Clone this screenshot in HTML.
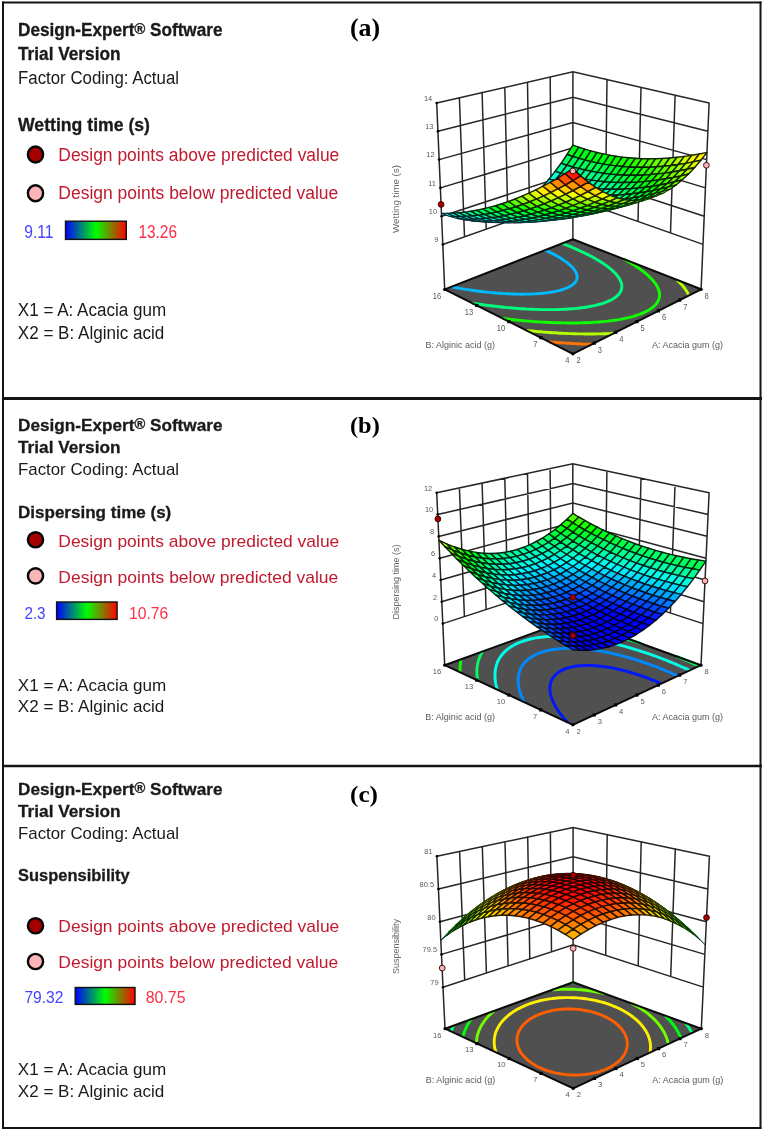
<!DOCTYPE html>
<html><head><meta charset="utf-8"><title>Design-Expert response surfaces</title>
<style>html,body{margin:0;padding:0;background:#fff;overflow:hidden}svg{display:block}</style>
</head><body>
<svg width="763" height="1132" viewBox="0 0 763 1132">
<defs><linearGradient id="cbar" x1="0" x2="1" y1="0" y2="0"><stop offset="0" stop-color="#0000ff"/><stop offset="0.5" stop-color="#00ff00"/><stop offset="1" stop-color="#ff0000"/></linearGradient></defs>
<rect width="763" height="1132" fill="#fff"/>

<g fill="none" stroke="#141414">
<path d="M3,1.5V1128.5M760.5,1.5V1128.5" stroke-width="2"/>
<path d="M2,2.6H761.5M2,1128H761.5" stroke-width="2"/>
<path d="M2,398.5H762" stroke-width="3"/>
<path d="M2,766H762" stroke-width="2.4"/>
</g>

<text transform="translate(18,36) scale(1,1.05)" font-family="Liberation Sans, sans-serif" font-size="17" font-weight="bold" fill="#1a1a1a" stroke="#1a1a1a" stroke-width="0.3" textLength="204.5" lengthAdjust="spacingAndGlyphs">Design-Expert<tspan font-size="14.5" dy="-2.2">®</tspan><tspan dy="2.2"> Software</tspan></text>
<text transform="translate(18,60) scale(1,1.05)" font-family="Liberation Sans, sans-serif" font-size="17" font-weight="bold" fill="#1a1a1a" stroke="#1a1a1a" stroke-width="0.3" textLength="102.5" lengthAdjust="spacingAndGlyphs">Trial Version</text>
<text transform="translate(18,84) scale(1,1.05)" font-family="Liberation Sans, sans-serif" font-size="17" font-weight="normal" fill="#1a1a1a" textLength="161" lengthAdjust="spacingAndGlyphs">Factor Coding: Actual</text>
<text transform="translate(18,131) scale(1,1.05)" font-family="Liberation Sans, sans-serif" font-size="17" font-weight="bold" fill="#1a1a1a" stroke="#1a1a1a" stroke-width="0.3" textLength="132" lengthAdjust="spacingAndGlyphs">Wetting time (s)</text>
<text transform="translate(58.3,160.8) scale(1,1.05)" font-family="Liberation Sans, sans-serif" font-size="17" font-weight="normal" fill="#c01a2e" textLength="281" lengthAdjust="spacingAndGlyphs">Design points above predicted value</text>
<text transform="translate(58.3,199.2) scale(1,1.05)" font-family="Liberation Sans, sans-serif" font-size="17" font-weight="normal" fill="#c01a2e" textLength="280" lengthAdjust="spacingAndGlyphs">Design points below predicted value</text>
<text transform="translate(24.2,238.2) scale(1,1.05)" font-family="Liberation Sans, sans-serif" font-size="17" font-weight="normal" fill="#4444ff" textLength="29.3" lengthAdjust="spacingAndGlyphs">9.11</text>
<text transform="translate(138.4,238.2) scale(1,1.05)" font-family="Liberation Sans, sans-serif" font-size="17" font-weight="normal" fill="#ff2d45" textLength="38.6" lengthAdjust="spacingAndGlyphs">13.26</text>
<text transform="translate(17.8,315.8) scale(1,1.05)" font-family="Liberation Sans, sans-serif" font-size="17" font-weight="normal" fill="#1a1a1a" textLength="148.5" lengthAdjust="spacingAndGlyphs">X1 = A: Acacia gum</text>
<text transform="translate(17.8,338.5) scale(1,1.05)" font-family="Liberation Sans, sans-serif" font-size="17" font-weight="normal" fill="#1a1a1a" textLength="146.5" lengthAdjust="spacingAndGlyphs">X2 = B: Alginic acid</text>
<text transform="translate(350.0,36) scale(1,1.05)" font-family="Liberation Serif, serif" font-size="24" font-weight="bold" fill="#000" textLength="30.2" lengthAdjust="spacingAndGlyphs">(a)</text>
<ellipse cx="35.5" cy="154.5" rx="7.6" ry="7.98" fill="#a50000" stroke="#050505" stroke-width="2.4"/>
<ellipse cx="35.5" cy="193.3" rx="7.6" ry="7.98" fill="#fbb4b8" stroke="#050505" stroke-width="2.4"/>
<rect x="65.5" y="221.2" width="60.8" height="18.200000000000017" fill="url(#cbar)" stroke="#111" stroke-width="1.4"/>
<text transform="translate(18,430.8) scale(1,1.0)" font-family="Liberation Sans, sans-serif" font-size="17" font-weight="bold" fill="#1a1a1a" stroke="#1a1a1a" stroke-width="0.3" textLength="204.5" lengthAdjust="spacingAndGlyphs">Design-Expert<tspan font-size="14.5" dy="-2.2">®</tspan><tspan dy="2.2"> Software</tspan></text>
<text transform="translate(18,452.8) scale(1,1.0)" font-family="Liberation Sans, sans-serif" font-size="17" font-weight="bold" fill="#1a1a1a" stroke="#1a1a1a" stroke-width="0.3" textLength="102.5" lengthAdjust="spacingAndGlyphs">Trial Version</text>
<text transform="translate(18,474.8) scale(1,1.0)" font-family="Liberation Sans, sans-serif" font-size="17" font-weight="normal" fill="#1a1a1a" textLength="161" lengthAdjust="spacingAndGlyphs">Factor Coding: Actual</text>
<text transform="translate(18,517.8) scale(1,1.0)" font-family="Liberation Sans, sans-serif" font-size="17" font-weight="bold" fill="#1a1a1a" stroke="#1a1a1a" stroke-width="0.3" textLength="153.3" lengthAdjust="spacingAndGlyphs">Dispersing time (s)</text>
<text transform="translate(58.3,546.7) scale(1,1.0)" font-family="Liberation Sans, sans-serif" font-size="17" font-weight="normal" fill="#c01a2e" textLength="281" lengthAdjust="spacingAndGlyphs">Design points above predicted value</text>
<text transform="translate(58.3,582.6) scale(1,1.0)" font-family="Liberation Sans, sans-serif" font-size="17" font-weight="normal" fill="#c01a2e" textLength="280" lengthAdjust="spacingAndGlyphs">Design points below predicted value</text>
<text transform="translate(24.4,618.6) scale(1,1.0)" font-family="Liberation Sans, sans-serif" font-size="17" font-weight="normal" fill="#4444ff" textLength="21.2" lengthAdjust="spacingAndGlyphs">2.3</text>
<text transform="translate(129.0,618.6) scale(1,1.0)" font-family="Liberation Sans, sans-serif" font-size="17" font-weight="normal" fill="#ff2d45" textLength="39.1" lengthAdjust="spacingAndGlyphs">10.76</text>
<text transform="translate(17.8,690.8) scale(1,1.0)" font-family="Liberation Sans, sans-serif" font-size="17" font-weight="normal" fill="#1a1a1a" textLength="148.5" lengthAdjust="spacingAndGlyphs">X1 = A: Acacia gum</text>
<text transform="translate(17.8,712.2) scale(1,1.0)" font-family="Liberation Sans, sans-serif" font-size="17" font-weight="normal" fill="#1a1a1a" textLength="146.5" lengthAdjust="spacingAndGlyphs">X2 = B: Alginic acid</text>
<text transform="translate(350.0,432.6) scale(1,1.0)" font-family="Liberation Serif, serif" font-size="24" font-weight="bold" fill="#000" textLength="29.8" lengthAdjust="spacingAndGlyphs">(b)</text>
<ellipse cx="35.5" cy="539.8" rx="7.6" ry="7.60" fill="#a50000" stroke="#050505" stroke-width="2.4"/>
<ellipse cx="35.5" cy="575.9" rx="7.6" ry="7.60" fill="#fbb4b8" stroke="#050505" stroke-width="2.4"/>
<rect x="56.6" y="602" width="60.49999999999999" height="17.399999999999977" fill="url(#cbar)" stroke="#111" stroke-width="1.4"/>
<text transform="translate(18,795.2) scale(1,1.0)" font-family="Liberation Sans, sans-serif" font-size="17" font-weight="bold" fill="#1a1a1a" stroke="#1a1a1a" stroke-width="0.3" textLength="204.5" lengthAdjust="spacingAndGlyphs">Design-Expert<tspan font-size="14.5" dy="-2.2">®</tspan><tspan dy="2.2"> Software</tspan></text>
<text transform="translate(18,817.1) scale(1,1.0)" font-family="Liberation Sans, sans-serif" font-size="17" font-weight="bold" fill="#1a1a1a" stroke="#1a1a1a" stroke-width="0.3" textLength="102.5" lengthAdjust="spacingAndGlyphs">Trial Version</text>
<text transform="translate(18,839.0) scale(1,1.0)" font-family="Liberation Sans, sans-serif" font-size="17" font-weight="normal" fill="#1a1a1a" textLength="161" lengthAdjust="spacingAndGlyphs">Factor Coding: Actual</text>
<text transform="translate(18,881.2) scale(1,1.0)" font-family="Liberation Sans, sans-serif" font-size="17" font-weight="bold" fill="#1a1a1a" stroke="#1a1a1a" stroke-width="0.3" textLength="111.7" lengthAdjust="spacingAndGlyphs">Suspensibility</text>
<text transform="translate(58.3,932.3) scale(1,1.0)" font-family="Liberation Sans, sans-serif" font-size="17" font-weight="normal" fill="#c01a2e" textLength="281" lengthAdjust="spacingAndGlyphs">Design points above predicted value</text>
<text transform="translate(58.3,968.2) scale(1,1.0)" font-family="Liberation Sans, sans-serif" font-size="17" font-weight="normal" fill="#c01a2e" textLength="280" lengthAdjust="spacingAndGlyphs">Design points below predicted value</text>
<text transform="translate(24.4,1002.9) scale(1,1.0)" font-family="Liberation Sans, sans-serif" font-size="17" font-weight="normal" fill="#4444ff" textLength="39.1" lengthAdjust="spacingAndGlyphs">79.32</text>
<text transform="translate(145.7,1002.9) scale(1,1.0)" font-family="Liberation Sans, sans-serif" font-size="17" font-weight="normal" fill="#ff2d45" textLength="39.8" lengthAdjust="spacingAndGlyphs">80.75</text>
<text transform="translate(17.8,1075) scale(1,1.0)" font-family="Liberation Sans, sans-serif" font-size="17" font-weight="normal" fill="#1a1a1a" textLength="148.5" lengthAdjust="spacingAndGlyphs">X1 = A: Acacia gum</text>
<text transform="translate(17.8,1096.6) scale(1,1.0)" font-family="Liberation Sans, sans-serif" font-size="17" font-weight="normal" fill="#1a1a1a" textLength="146.5" lengthAdjust="spacingAndGlyphs">X2 = B: Alginic acid</text>
<text transform="translate(350.0,801.6) scale(1,1.0)" font-family="Liberation Serif, serif" font-size="24" font-weight="bold" fill="#000" textLength="28.0" lengthAdjust="spacingAndGlyphs">(c)</text>
<ellipse cx="35.5" cy="925.7" rx="7.6" ry="7.60" fill="#a50000" stroke="#050505" stroke-width="2.4"/>
<ellipse cx="35.5" cy="961.5" rx="7.6" ry="7.60" fill="#fbb4b8" stroke="#050505" stroke-width="2.4"/>
<rect x="75.2" y="987.5" width="59.8" height="16.899999999999977" fill="url(#cbar)" stroke="#111" stroke-width="1.4"/>
<path d="M442.8,244.5L572.9,198.6L703.0,244.4M441.6,216.2L572.9,173.3L704.2,216.2M440.4,187.9L572.9,147.9L705.5,187.9M439.1,159.6L572.9,122.5L706.7,159.6M437.9,131.3L572.9,97.2L707.9,131.3M436.7,103.0L572.9,71.8L709.1,103.0M442.8,244.5L436.7,103.0M464.5,236.8L459.4,97.8M486.2,229.2L482.1,92.6M507.9,221.5L504.8,87.4M529.5,213.9L527.5,82.2M551.2,206.3L550.2,77.0M572.9,198.6L572.9,71.8M703.0,244.4L709.1,103.0M670.5,233.0L675.1,95.2M638.0,221.5L641.0,87.4M605.4,210.1L607.0,79.6M572.9,198.6L572.9,71.8M442.8,244.5L444.7,289.4M572.9,198.6L572.9,239.2M703.0,244.4L701.1,289.3" stroke="#262626" stroke-width="1.5" fill="none" stroke-linecap="round"/>
<polygon points="444.7,289.4 572.9,239.2 701.1,289.3 572.9,353.8" fill="#505050"/>
<polyline points="545.0,250.1 546.8,250.9 548.6,251.7 550.4,252.6 551.2,253.0 553.0,253.9 554.7,254.8 556.3,255.7 557.7,256.5 558.8,257.1 560.4,258.1 562.0,259.1 562.7,259.6 564.2,260.6 565.2,261.3 566.4,262.1 567.7,263.1 568.5,263.8 569.7,264.8 570.5,265.5 571.4,266.3 572.3,267.3 572.8,267.9 573.8,269.1 574.4,269.8 574.8,270.5 575.5,271.5 576.0,272.6 576.3,273.3 576.6,274.1 576.8,274.9 577.0,275.7 577.1,276.6 577.1,277.4 577.0,278.4 576.7,279.4 576.3,280.5 575.8,281.4 575.3,282.1 574.4,283.1 573.5,284.0 572.4,284.9 571.2,285.8 569.3,286.8 567.3,287.8 565.1,288.7 562.7,289.5 560.1,290.3 558.7,290.7 555.9,291.3 554.4,291.6 551.6,292.1 549.8,292.4 548.1,292.6 545.2,293.0 543.0,293.2 541.2,293.4 539.4,293.6 537.1,293.7 534.6,293.9 532.2,294.0 529.9,294.1 527.6,294.1 525.5,294.1 523.4,294.2 521.2,294.2 519.0,294.1 516.8,294.1 514.8,294.0 512.8,294.0 510.8,293.9 508.8,293.8 506.9,293.7 505.0,293.6 502.5,293.5 500.0,293.3 497.6,293.1 495.8,293.0 494.0,292.8 492.2,292.6 489.5,292.4 487.1,292.1 485.4,292.0 483.7,291.8 481.1,291.5 478.7,291.2 477.1,291.0 475.3,290.7 472.3,290.3 470.7,290.1 469.2,289.8 466.2,289.4 464.5,289.1 463.0,288.9 460.0,288.4 458.5,288.1 456.5,287.8 454.1,287.3 452.7,287.1 451.3,286.8" fill="none" stroke="#00baff" stroke-width="2.9" stroke-linejoin="round"/>
<polyline points="562.1,243.4 564.1,244.1 566.0,244.9 567.9,245.7 569.8,246.4 571.7,247.2 573.6,248.0 575.5,248.8 577.3,249.6 579.2,250.5 581.0,251.3 582.8,252.2 584.2,252.8 585.5,253.5 587.3,254.4 589.1,255.3 590.8,256.2 591.7,256.6 593.4,257.6 595.1,258.5 596.7,259.4 597.6,260.0 599.3,261.0 600.6,261.8 601.7,262.5 603.3,263.5 604.1,264.1 605.6,265.1 606.6,265.8 607.9,266.8 608.9,267.6 610.0,268.5 610.9,269.2 612.1,270.3 612.8,270.9 614.1,272.1 614.7,272.8 615.5,273.6 616.5,274.7 617.0,275.4 617.7,276.2 618.5,277.4 619.1,278.2 619.5,278.9 619.9,279.7 620.5,280.8 620.9,281.8 621.3,282.8 621.5,283.7 621.7,284.6 621.8,285.6 621.8,286.5 621.8,287.4 621.7,288.3 621.5,289.1 621.3,289.9 620.9,290.9 620.2,292.2 619.8,292.9 619.2,293.6 618.1,295.0 617.4,295.6 616.0,296.8 614.8,297.8 613.5,298.6 611.6,299.7 609.6,300.7 607.4,301.6 605.1,302.5 603.0,303.3 601.3,303.8 598.6,304.5 597.2,304.9 594.3,305.6 592.8,305.9 589.7,306.5 588.2,306.8 585.7,307.2 583.2,307.6 581.5,307.8 579.4,308.0 576.5,308.4 574.3,308.6 572.4,308.7 570.5,308.9 568.3,309.0 565.8,309.2 563.3,309.3 560.8,309.4 558.4,309.5 556.3,309.6 554.2,309.6 552.0,309.6 549.8,309.6 547.6,309.6 545.3,309.6 543.0,309.6 540.7,309.6 538.4,309.5 536.3,309.4 534.2,309.4 532.1,309.3 530.1,309.2 528.1,309.1 526.1,309.0 523.6,308.8 521.0,308.7 518.4,308.5 516.5,308.3 514.6,308.2 512.7,308.0 510.4,307.8 507.7,307.6 505.4,307.4 503.6,307.2 501.8,307.0 499.3,306.7 496.5,306.4 494.7,306.2 493.0,306.0 490.6,305.7 487.9,305.4 486.2,305.2 484.5,304.9 481.5,304.5 479.6,304.2 477.9,304.0 475.3,303.6 473.1,303.3 472.1,303.1" fill="none" stroke="#00ff7d" stroke-width="2.9" stroke-linejoin="round"/>
<polyline points="623.7,259.1 624.6,259.5 626.4,260.5 628.1,261.5 629.0,262.0 630.7,263.0 632.3,264.0 633.2,264.6 634.9,265.6 635.7,266.2 637.3,267.2 638.5,268.0 639.7,268.9 641.0,269.8 642.1,270.6 643.3,271.5 644.3,272.4 645.3,273.1 646.5,274.2 647.3,274.8 648.7,276.1 649.3,276.7 650.2,277.6 651.3,278.7 652.0,279.4 652.7,280.2 653.8,281.5 654.3,282.2 654.9,282.9 655.6,283.9 656.4,285.1 656.9,286.0 657.3,286.8 657.7,287.6 658.1,288.4 658.5,289.4 658.8,290.4 659.1,291.4 659.3,292.4 659.5,293.3 659.5,294.2 659.6,295.1 659.5,296.1 659.4,297.2 659.1,298.4 658.8,299.3 658.5,300.1 658.1,301.1 657.3,302.3 656.9,303.0 655.9,304.3 655.2,305.1 653.8,306.4 653.1,307.0 651.5,308.3 649.8,309.4 648.9,310.0 646.9,311.1 644.8,312.1 642.6,313.1 641.5,313.6 639.1,314.5 636.5,315.4 634.6,316.0 632.5,316.6 629.7,317.3 628.2,317.7 625.3,318.3 623.6,318.7 621.4,319.1 618.8,319.6 617.1,319.9 614.6,320.2 612.0,320.6 610.2,320.8 608.3,321.1 605.4,321.4 602.8,321.6 600.9,321.8 599.0,322.0 597.0,322.1 594.3,322.3 591.7,322.5 589.1,322.6 586.8,322.7 584.6,322.8 582.5,322.8 580.3,322.9 578.1,322.9 575.9,323.0 573.6,323.0 571.3,323.0 569.0,323.0 566.7,323.0 564.3,322.9 562.0,322.9 559.5,322.8 557.1,322.8 554.6,322.7 552.4,322.6 550.3,322.5 548.2,322.4 546.2,322.3 544.1,322.2 541.9,322.1 539.3,321.9 536.7,321.8 534.1,321.6 532.1,321.4 530.2,321.3 528.2,321.1 525.8,320.9 523.0,320.7 520.6,320.4 518.7,320.3 516.9,320.1 514.5,319.8 511.6,319.5 509.5,319.3 507.7,319.1 505.7,318.8 502.7,318.5 502.7,318.5" fill="none" stroke="#0eff00" stroke-width="2.9" stroke-linejoin="round"/>
<polyline points="613.6,333.3 611.0,333.5 608.4,333.6 605.9,333.7 603.5,333.8 601.3,333.9 599.0,333.9 596.8,333.9 594.5,334.0 592.2,334.0 589.9,334.0 587.5,334.0 585.1,334.0 582.7,333.9 580.3,333.9 577.8,333.9 575.4,333.8 573.0,333.7 570.8,333.6 568.6,333.6 566.5,333.5 564.3,333.4 562.2,333.3 560.0,333.2 557.3,333.0 554.7,332.8 552.0,332.7 549.8,332.5 547.7,332.4 545.7,332.2 543.7,332.1 540.9,331.8 538.1,331.6 535.8,331.4 533.8,331.2 531.9,331.0 529.5,330.8 526.6,330.5 526.6,330.5" fill="none" stroke="#b6ff00" stroke-width="2.9" stroke-linejoin="round"/>
<polyline points="676.9,279.9 678.0,280.9 678.7,281.6 679.8,282.7 680.8,283.6 681.4,284.4 682.2,285.3 683.3,286.5 683.9,287.3 684.5,288.0 685.1,289.0 685.9,290.1 686.6,291.2 687.1,292.0 687.6,292.9 688.0,293.8 688.4,294.6 688.8,295.5 688.8,295.5" fill="none" stroke="#b6ff00" stroke-width="2.9" stroke-linejoin="round"/>
<polyline points="591.8,344.3 589.6,344.2 587.3,344.2 584.7,344.1 582.1,344.0 579.4,343.8 576.8,343.7 574.2,343.6 572.0,343.5 569.9,343.3 567.8,343.2 565.6,343.1 563.2,342.9 560.4,342.7 557.6,342.5 555.3,342.3 553.2,342.1 551.2,342.0 549.0,341.8 549.0,341.8" fill="none" stroke="#ff7400" stroke-width="2.9" stroke-linejoin="round"/>
<polygon points="444.7,289.4 572.9,239.2 701.1,289.3 572.9,353.8" fill="none" stroke="#0a0a0a" stroke-width="2" stroke-linejoin="round"/>
<rect x="592.7" y="341.5" width="3.2" height="3.2" fill="#000"/><rect x="614.1" y="330.7" width="3.2" height="3.2" fill="#000"/><rect x="635.4" y="320.0" width="3.2" height="3.2" fill="#000"/><rect x="656.8" y="309.2" width="3.2" height="3.2" fill="#000"/><rect x="678.1" y="298.5" width="3.2" height="3.2" fill="#000"/><rect x="539.3" y="336.1" width="3.2" height="3.2" fill="#000"/><rect x="507.2" y="320.0" width="3.2" height="3.2" fill="#000"/><rect x="475.2" y="303.9" width="3.2" height="3.2" fill="#000"/><circle cx="442.8" cy="244.5" r="1.3" fill="#000"/><circle cx="441.6" cy="216.2" r="1.3" fill="#000"/><circle cx="440.4" cy="187.9" r="1.3" fill="#000"/><circle cx="439.1" cy="159.6" r="1.3" fill="#000"/><circle cx="437.9" cy="131.3" r="1.3" fill="#000"/><circle cx="436.7" cy="103.0" r="1.3" fill="#000"/><circle cx="444.7" cy="289.4" r="1.6" fill="#000"/><circle cx="572.9" cy="353.8" r="1.6" fill="#000"/><circle cx="701.1" cy="289.3" r="1.6" fill="#000"/>
<g stroke-width="1.45" stroke-linejoin="round"><polygon points="572.9,156.5 578.8,147.2 572.9,145.1 567.0,154.5" fill="#00ff13" stroke="#002603"/><polygon points="566.9,165.2 572.9,156.5 567.0,154.5 561.1,163.3" fill="#00ff5b" stroke="#00260e"/><polygon points="578.9,158.4 584.8,149.1 578.8,147.2 572.9,156.5" fill="#00ff14" stroke="#002603"/><polygon points="561.0,173.3 566.9,165.2 561.1,163.3 555.1,171.4" fill="#00ff9c" stroke="#002617"/><polygon points="572.9,167.0 578.9,158.4 572.9,156.5 566.9,165.2" fill="#00ff5b" stroke="#00260e"/><polygon points="554.9,180.8 561.0,173.3 555.1,171.4 549.1,179.0" fill="#00ffd6" stroke="#002620"/><polygon points="584.9,160.0 590.8,150.9 584.8,149.1 578.9,158.4" fill="#00ff14" stroke="#002603"/><polygon points="566.9,175.0 572.9,167.0 566.9,165.2 561.0,173.3" fill="#00ff9b" stroke="#002617"/><polygon points="578.9,168.6 584.9,160.0 578.9,158.4 572.9,167.0" fill="#00ff59" stroke="#00260d"/><polygon points="548.8,187.6 554.9,180.8 549.1,179.0 543.0,185.9" fill="#00f4ff" stroke="#002526"/><polygon points="560.8,182.4 566.9,175.0 561.0,173.3 554.9,180.8" fill="#00ffd4" stroke="#002620"/><polygon points="591.0,161.6 597.0,152.5 590.8,150.9 584.9,160.0" fill="#00ff12" stroke="#002603"/><polygon points="572.9,176.5 578.9,168.6 572.9,167.0 566.9,175.0" fill="#00ff98" stroke="#002617"/><polygon points="542.7,193.9 548.8,187.6 543.0,185.9 536.8,192.2" fill="#00c7ff" stroke="#001e26"/><polygon points="585.0,170.0 591.0,161.6 584.9,160.0 578.9,168.6" fill="#00ff56" stroke="#00260d"/><polygon points="554.7,189.2 560.8,182.4 554.9,180.8 548.8,187.6" fill="#00f8ff" stroke="#002526"/><polygon points="566.8,183.9 572.9,176.5 566.9,175.0 560.8,182.4" fill="#00ffd0" stroke="#00261f"/><polygon points="597.2,162.9 603.1,153.9 597.0,152.5 591.0,161.6" fill="#00ff0e" stroke="#002602"/><polygon points="536.4,199.5 542.7,193.9 536.8,192.2 530.6,198.0" fill="#00a0ff" stroke="#001826"/><polygon points="579.0,177.9 585.0,170.0 578.9,168.6 572.9,176.5" fill="#00ff93" stroke="#002616"/><polygon points="548.6,195.4 554.7,189.2 548.8,187.6 542.7,193.9" fill="#00ccff" stroke="#001f26"/><polygon points="591.2,171.3 597.2,162.9 591.0,161.6 585.0,170.0" fill="#00ff51" stroke="#00260c"/><polygon points="560.7,190.6 566.8,183.9 560.8,182.4 554.7,189.2" fill="#00fdff" stroke="#002626"/><polygon points="530.1,204.6 536.4,199.5 530.6,198.0 524.3,203.1" fill="#0081ff" stroke="#001326"/><polygon points="572.9,185.2 579.0,177.9 572.9,176.5 566.8,183.9" fill="#00ffca" stroke="#00261e"/><polygon points="603.4,164.1 609.4,155.1 603.1,153.9 597.2,162.9" fill="#00ff08" stroke="#002601"/><polygon points="542.3,200.9 548.6,195.4 542.7,193.9 536.4,199.5" fill="#00a6ff" stroke="#001926"/><polygon points="585.1,179.1 591.2,171.3 585.0,170.0 579.0,177.9" fill="#00ff8d" stroke="#002615"/><polygon points="554.5,196.7 560.7,190.6 554.7,189.2 548.6,195.4" fill="#00d2ff" stroke="#002026"/><polygon points="597.4,172.4 603.4,164.1 597.2,162.9 591.2,171.3" fill="#00ff49" stroke="#00260b"/><polygon points="566.8,191.8 572.9,185.2 566.8,183.9 560.7,190.6" fill="#00fffa" stroke="#002625"/><polygon points="523.8,209.0 530.1,204.6 524.3,203.1 518.0,207.6" fill="#0067ff" stroke="#000f26"/><polygon points="536.0,205.9 542.3,200.9 536.4,199.5 530.1,204.6" fill="#0088ff" stroke="#001426"/><polygon points="579.1,186.3 585.1,179.1 579.0,177.9 572.9,185.2" fill="#00ffc2" stroke="#00261d"/><polygon points="609.8,165.1 615.8,156.2 609.4,155.1 603.4,164.1" fill="#00ff00" stroke="#002600"/><polygon points="548.3,202.2 554.5,196.7 548.6,195.4 542.3,200.9" fill="#00aeff" stroke="#001a26"/><polygon points="591.4,180.1 597.4,172.4 591.2,171.3 585.1,179.1" fill="#00ff84" stroke="#002614"/><polygon points="560.6,197.8 566.8,191.8 560.7,190.6 554.5,196.7" fill="#00dbff" stroke="#002126"/><polygon points="517.3,212.7 523.8,209.0 518.0,207.6 511.5,211.4" fill="#0054ff" stroke="#000d26" stroke-width="1.44"/><polygon points="603.8,173.3 609.8,165.1 603.4,164.1 597.4,172.4" fill="#00ff41" stroke="#00260a"/><polygon points="572.9,192.9 579.1,186.3 572.9,185.2 566.8,191.8" fill="#00fff1" stroke="#002624"/><polygon points="529.6,210.2 536.0,205.9 530.1,204.6 523.8,209.0" fill="#0070ff" stroke="#001126"/><polygon points="542.0,207.0 548.3,202.2 542.3,200.9 536.0,205.9" fill="#0091ff" stroke="#001626"/><polygon points="585.3,187.2 591.4,180.1 585.1,179.1 579.1,186.3" fill="#00ffb9" stroke="#00261c"/><polygon points="616.2,165.9 622.2,157.1 615.8,156.2 609.8,165.1" fill="#09ff00" stroke="#012600"/><polygon points="554.3,203.2 560.6,197.8 554.5,196.7 548.3,202.2" fill="#00b8ff" stroke="#001c26"/><polygon points="597.7,181.0 603.8,173.3 597.4,172.4 591.4,180.1" fill="#00ff7a" stroke="#002612"/><polygon points="566.7,198.8 572.9,192.9 566.8,191.8 560.6,197.8" fill="#00e5ff" stroke="#002226"/><polygon points="510.8,215.8 517.3,212.7 511.5,211.4 505.0,214.7" fill="#0048ff" stroke="#000b26" stroke-width="1.34"/><polygon points="523.2,213.8 529.6,210.2 523.8,209.0 517.3,212.7" fill="#005eff" stroke="#000e26" stroke-width="1.41"/><polygon points="610.2,174.1 616.2,165.9 609.8,165.1 603.8,173.3" fill="#00ff36" stroke="#002608"/><polygon points="579.1,193.7 585.3,187.2 579.1,186.3 572.9,192.9" fill="#00ffe6" stroke="#002623"/><polygon points="535.6,211.2 542.0,207.0 536.0,205.9 529.6,210.2" fill="#007aff" stroke="#001226"/><polygon points="548.0,208.0 554.3,203.2 548.3,202.2 542.0,207.0" fill="#009cff" stroke="#001726"/><polygon points="591.6,188.0 597.7,181.0 591.4,180.1 585.3,187.2" fill="#00ffad" stroke="#00261a"/><polygon points="622.7,166.5 628.7,157.8 622.2,157.1 616.2,165.9" fill="#15ff00" stroke="#032600"/><polygon points="560.4,204.1 566.7,198.8 560.6,197.8 554.3,203.2" fill="#00c3ff" stroke="#001d26"/><polygon points="604.1,181.7 610.2,174.1 603.8,173.3 597.7,181.0" fill="#00ff6e" stroke="#002611"/><polygon points="572.9,199.6 579.1,193.7 572.9,192.9 566.7,198.8" fill="#00f1ff" stroke="#002426"/><polygon points="504.2,218.3 510.8,215.8 505.0,214.7 498.4,217.2" fill="#0043ff" stroke="#000a26" stroke-width="1.22"/><polygon points="516.7,216.9 523.2,213.8 517.3,212.7 510.8,215.8" fill="#0053ff" stroke="#000c26" stroke-width="1.30"/><polygon points="529.1,214.8 535.6,211.2 529.6,210.2 523.2,213.8" fill="#006aff" stroke="#001026" stroke-width="1.37"/><polygon points="616.7,174.7 622.7,166.5 616.2,165.9 610.2,174.1" fill="#00ff29" stroke="#002606"/><polygon points="585.4,194.4 591.6,188.0 585.3,187.2 579.1,193.7" fill="#00ffd9" stroke="#002621"/><polygon points="541.6,212.1 548.0,208.0 542.0,207.0 535.6,211.2" fill="#0086ff" stroke="#001426" stroke-width="1.44"/><polygon points="554.1,208.7 560.4,204.1 554.3,203.2 548.0,208.0" fill="#00a8ff" stroke="#001926"/><polygon points="598.0,188.6 604.1,181.7 597.7,181.0 591.6,188.0" fill="#00ffa0" stroke="#002618"/><polygon points="629.3,167.0 635.3,158.3 628.7,157.8 622.7,166.5" fill="#22ff00" stroke="#052600"/><polygon points="566.6,204.8 572.9,199.6 566.7,198.8 560.4,204.1" fill="#00d1ff" stroke="#001f26"/><polygon points="610.6,182.1 616.7,174.7 610.2,174.1 604.1,181.7" fill="#00ff60" stroke="#00260e"/><polygon points="497.5,220.1 504.2,218.3 498.4,217.2 491.7,219.2" fill="#0044ff" stroke="#000a26" stroke-width="1.09"/><polygon points="579.2,200.2 585.4,194.4 579.1,193.7 572.9,199.6" fill="#00ffff" stroke="#002626"/><polygon points="510.0,219.2 516.7,216.9 510.8,215.8 504.2,218.3" fill="#004fff" stroke="#000c26" stroke-width="1.18"/><polygon points="522.6,217.7 529.1,214.8 523.2,213.8 516.7,216.9" fill="#0060ff" stroke="#000e26" stroke-width="1.26"/><polygon points="535.1,215.5 541.6,212.1 535.6,211.2 529.1,214.8" fill="#0077ff" stroke="#001226" stroke-width="1.34"/><polygon points="623.3,175.0 629.3,167.0 622.7,166.5 616.7,174.7" fill="#00ff1b" stroke="#002604"/><polygon points="591.8,194.9 598.0,188.6 591.6,188.0 585.4,194.4" fill="#00ffcb" stroke="#00261e"/><polygon points="547.7,212.8 554.1,208.7 548.0,208.0 541.6,212.1" fill="#0094ff" stroke="#001626" stroke-width="1.41"/><polygon points="560.3,209.3 566.6,204.8 560.4,204.1 554.1,208.7" fill="#00b7ff" stroke="#001b26"/><polygon points="604.5,189.0 610.6,182.1 604.1,181.7 598.0,188.6" fill="#00ff91" stroke="#002616"/><polygon points="636.0,167.2 642.0,158.6 635.3,158.3 629.3,167.0" fill="#31ff00" stroke="#072600"/><polygon points="572.9,205.3 579.2,200.2 572.9,199.6 566.6,204.8" fill="#00e0ff" stroke="#002226"/><polygon points="617.2,182.4 623.3,175.0 616.7,174.7 610.6,182.1" fill="#00ff51" stroke="#00260c"/><polygon points="490.6,221.3 497.5,220.1 491.7,219.2 484.9,220.4" fill="#004cff" stroke="#000b26" stroke-width="0.94"/><polygon points="503.3,220.9 510.0,219.2 504.2,218.3 497.5,220.1" fill="#0051ff" stroke="#000c26" stroke-width="1.04"/><polygon points="585.6,200.6 591.8,194.9 585.4,194.4 579.2,200.2" fill="#00ffef" stroke="#002624"/><polygon points="515.9,220.0 522.6,217.7 516.7,216.9 510.0,219.2" fill="#005dff" stroke="#000e26" stroke-width="1.13"/><polygon points="528.6,218.3 535.1,215.5 529.1,214.8 522.6,217.7" fill="#006eff" stroke="#001126" stroke-width="1.21"/><polygon points="541.2,216.1 547.7,212.8 541.6,212.1 535.1,215.5" fill="#0086ff" stroke="#001426" stroke-width="1.30"/><polygon points="629.9,175.2 636.0,167.2 629.3,167.0 623.3,175.0" fill="#00ff0a" stroke="#002602"/><polygon points="598.3,195.2 604.5,189.0 598.0,188.6 591.8,194.9" fill="#00ffbb" stroke="#00261c"/><polygon points="553.9,213.2 560.3,209.3 554.1,208.7 547.7,212.8" fill="#00a4ff" stroke="#001926" stroke-width="1.38"/><polygon points="566.6,209.7 572.9,205.3 566.6,204.8 560.3,209.3" fill="#00c7ff" stroke="#001e26"/><polygon points="611.0,189.2 617.2,182.4 610.6,182.1 604.5,189.0" fill="#00ff80" stroke="#002613"/><polygon points="642.8,167.3 648.8,158.8 642.0,158.6 636.0,167.2" fill="#42ff00" stroke="#0a2600"/><polygon points="579.3,205.6 585.6,200.6 579.2,200.2 572.9,205.3" fill="#00f1ff" stroke="#002426"/><polygon points="483.7,221.7 490.6,221.3 484.9,220.4 478.0,221.0" fill="#005aff" stroke="#000d26" stroke-width="0.76"/><polygon points="496.5,221.9 503.3,220.9 497.5,220.1 490.6,221.3" fill="#005aff" stroke="#000e26" stroke-width="0.87"/><polygon points="623.8,182.5 629.9,175.2 623.3,175.0 617.2,182.4" fill="#00ff3f" stroke="#002609"/><polygon points="509.2,221.5 515.9,220.0 510.0,219.2 503.3,220.9" fill="#0060ff" stroke="#000e26" stroke-width="0.98"/><polygon points="521.9,220.5 528.6,218.3 522.6,217.7 515.9,220.0" fill="#006dff" stroke="#001026" stroke-width="1.08"/><polygon points="592.0,200.8 598.3,195.2 591.8,194.9 585.6,200.6" fill="#00ffde" stroke="#002621"/><polygon points="534.6,218.8 541.2,216.1 535.1,215.5 528.6,218.3" fill="#007fff" stroke="#001326" stroke-width="1.17"/><polygon points="547.4,216.5 553.9,213.2 547.7,212.8 541.2,216.1" fill="#0097ff" stroke="#001726" stroke-width="1.25"/><polygon points="636.7,175.2 642.8,167.3 636.0,167.2 629.9,175.2" fill="#08ff00" stroke="#012600"/><polygon points="604.8,195.3 611.0,189.2 604.5,189.0 598.3,195.2" fill="#00ffa8" stroke="#002619"/><polygon points="560.1,213.5 566.6,209.7 560.3,209.3 553.9,213.2" fill="#00b5ff" stroke="#001b26" stroke-width="1.34"/><polygon points="572.9,210.0 579.3,205.6 572.9,205.3 566.6,209.7" fill="#00d9ff" stroke="#002126" stroke-width="1.42"/><polygon points="617.7,189.2 623.8,182.5 617.2,182.4 611.0,189.2" fill="#00ff6d" stroke="#002610"/><polygon points="649.7,167.2 655.7,158.7 648.8,158.8 642.8,167.3" fill="#55ff00" stroke="#0d2600"/><polygon points="585.7,205.7 592.0,200.8 585.6,200.6 579.3,205.6" fill="#00fffb" stroke="#002626"/><polygon points="489.5,222.3 496.5,221.9 490.6,221.3 483.7,221.7" fill="#006aff" stroke="#001026" stroke-width="0.67"/><polygon points="502.4,222.4 509.2,221.5 503.3,220.9 496.5,221.9" fill="#006bff" stroke="#001026" stroke-width="0.80"/><polygon points="630.6,182.4 636.7,175.2 629.9,175.2 623.8,182.5" fill="#00ff2c" stroke="#002607"/><polygon points="476.7,221.5 483.7,221.7 478.0,221.0 470.9,220.9" fill="#006fff" stroke="#001126" stroke-width="0.50"/><polygon points="515.2,222.0 521.9,220.5 515.9,220.0 509.2,221.5" fill="#0071ff" stroke="#001126" stroke-width="0.91"/><polygon points="528.0,220.8 534.6,218.8 528.6,218.3 521.9,220.5" fill="#007eff" stroke="#001326" stroke-width="1.02"/><polygon points="598.6,200.8 604.8,195.3 598.3,195.2 592.0,200.8" fill="#00ffcb" stroke="#00261e"/><polygon points="540.8,219.1 547.4,216.5 541.2,216.1 534.6,218.8" fill="#0091ff" stroke="#001626" stroke-width="1.12"/><polygon points="553.6,216.7 560.1,213.5 553.9,213.2 547.4,216.5" fill="#00aaff" stroke="#001926" stroke-width="1.21"/><polygon points="643.6,175.0 649.7,167.2 642.8,167.3 636.7,175.2" fill="#1cff00" stroke="#042600"/><polygon points="611.5,195.3 617.7,189.2 611.0,189.2 604.8,195.3" fill="#00ff94" stroke="#002616"/><polygon points="566.5,213.7 572.9,210.0 566.6,209.7 560.1,213.5" fill="#00c9ff" stroke="#001e26" stroke-width="1.30"/><polygon points="579.4,210.0 585.7,205.7 579.3,205.6 572.9,210.0" fill="#00edff" stroke="#002426" stroke-width="1.38"/><polygon points="624.4,189.0 630.6,182.4 623.8,182.5 617.7,189.2" fill="#00ff58" stroke="#00260d"/><polygon points="656.7,166.8 662.7,158.4 655.7,158.7 649.7,167.2" fill="#69ff00" stroke="#102600"/><polygon points="592.3,205.6 598.6,200.8 592.0,200.8 585.7,205.7" fill="#00ffe6" stroke="#002622"/><polygon points="495.4,222.6 502.4,222.4 496.5,221.9 489.5,222.3" fill="#007bff" stroke="#001326" stroke-width="0.55"/><polygon points="508.3,222.7 515.2,222.0 509.2,221.5 502.4,222.4" fill="#007dff" stroke="#001326" stroke-width="0.71"/><polygon points="482.5,221.9 489.5,222.3 483.7,221.7 476.7,221.5" fill="#0080ff" stroke="#001326" stroke-width="0.33"/><polygon points="637.5,182.1 643.6,175.0 636.7,175.2 630.6,182.4" fill="#00ff16" stroke="#002603"/><polygon points="521.2,222.2 528.0,220.8 521.9,220.5 515.2,222.0" fill="#0084ff" stroke="#001426" stroke-width="0.84"/><polygon points="469.5,220.5 476.7,221.5 470.9,220.9 463.8,220.0" fill="#008aff" stroke="#001526" stroke-width="0.28"/><polygon points="534.1,221.0 540.8,219.1 534.6,218.8 528.0,220.8" fill="#0092ff" stroke="#001626" stroke-width="0.96"/><polygon points="605.2,200.6 611.5,195.3 604.8,195.3 598.6,200.8" fill="#00ffb5" stroke="#00261b"/><polygon points="547.0,219.2 553.6,216.7 547.4,216.5 540.8,219.1" fill="#00a5ff" stroke="#001926" stroke-width="1.06"/><polygon points="560.0,216.7 566.5,213.7 560.1,213.5 553.6,216.7" fill="#00beff" stroke="#001d26" stroke-width="1.16"/><polygon points="650.6,174.5 656.7,166.8 649.7,167.2 643.6,175.0" fill="#32ff00" stroke="#072600"/><polygon points="618.2,195.0 624.4,189.0 617.7,189.2 611.5,195.3" fill="#00ff7f" stroke="#002613"/><polygon points="572.9,213.6 579.4,210.0 572.9,210.0 566.5,213.7" fill="#00deff" stroke="#002126" stroke-width="1.26"/><polygon points="585.9,209.8 592.3,205.6 585.7,205.7 579.4,210.0" fill="#00fffb" stroke="#002626" stroke-width="1.34"/><polygon points="631.3,188.6 637.5,182.1 630.6,182.4 624.4,189.0" fill="#00ff42" stroke="#00260a"/><polygon points="663.7,166.3 669.8,158.0 662.7,158.4 656.7,166.8" fill="#80ff00" stroke="#132600"/><polygon points="598.9,205.4 605.2,200.6 598.6,200.8 592.3,205.6" fill="#00ffd0" stroke="#00261f" stroke-width="1.43"/><polygon points="501.4,222.8 508.3,222.7 502.4,222.4 495.4,222.6" fill="#008fff" stroke="#001526" stroke-width="0.41"/><polygon points="514.4,222.8 521.2,222.2 515.2,222.0 508.3,222.7" fill="#0091ff" stroke="#001626" stroke-width="0.61"/><polygon points="488.3,222.1 495.4,222.6 489.5,222.3 482.5,221.9" fill="#0093ff" stroke="#001626" stroke-width="0.18"/><polygon points="527.4,222.2 534.1,221.0 528.0,220.8 521.2,222.2" fill="#0099ff" stroke="#001726" stroke-width="0.76"/><polygon points="644.4,181.6 650.6,174.5 643.6,175.0 637.5,182.1" fill="#01ff00" stroke="#002600"/><polygon points="475.3,220.8 482.5,221.9 476.7,221.5 469.5,220.5" fill="#009dff" stroke="#001726" stroke-width="0.48"/><polygon points="540.4,221.0 547.0,219.2 540.8,219.1 534.1,221.0" fill="#00a7ff" stroke="#001926" stroke-width="0.89"/><polygon points="462.2,218.8 469.5,220.5 463.8,220.0 456.5,218.5" fill="#00acff" stroke="#001a26" stroke-width="0.65"/><polygon points="612.0,200.3 618.2,195.0 611.5,195.3 605.2,200.6" fill="#00ff9e" stroke="#002618"/><polygon points="553.4,219.1 560.0,216.7 553.6,216.7 547.0,219.2" fill="#00bbff" stroke="#001c26" stroke-width="1.01"/><polygon points="566.4,216.5 572.9,213.6 566.5,213.7 560.0,216.7" fill="#00d5ff" stroke="#002026" stroke-width="1.11"/><polygon points="657.6,173.9 663.7,166.3 656.7,166.8 650.6,174.5" fill="#49ff00" stroke="#0b2600"/><polygon points="625.1,194.5 631.3,188.6 624.4,189.0 618.2,195.0" fill="#00ff67" stroke="#00260f"/><polygon points="579.4,213.3 585.9,209.8 579.4,210.0 572.9,213.6" fill="#00f5ff" stroke="#002526" stroke-width="1.21"/><polygon points="592.5,209.4 598.9,205.4 592.3,205.6 585.9,209.8" fill="#00ffe3" stroke="#002622" stroke-width="1.30"/><polygon points="638.2,188.0 644.4,181.6 637.5,182.1 631.3,188.6" fill="#00ff2a" stroke="#002606"/><polygon points="670.9,165.5 677.0,157.3 669.8,158.0 663.7,166.3" fill="#98ff00" stroke="#172600"/><polygon points="605.6,204.9 612.0,200.3 605.2,200.6 598.9,205.4" fill="#00ffb7" stroke="#00261b" stroke-width="1.39"/><polygon points="507.4,222.8 514.4,222.8 508.3,222.7 501.4,222.8" fill="#00a4ff" stroke="#001926" stroke-width="0.15"/><polygon points="520.5,222.8 527.4,222.2 521.2,222.2 514.4,222.8" fill="#00a7ff" stroke="#001926" stroke-width="0.48"/><polygon points="494.3,222.2 501.4,222.8 495.4,222.6 488.3,222.1" fill="#00a7ff" stroke="#001926" stroke-width="0.43"/><polygon points="533.6,222.1 540.4,221.0 534.1,221.0 527.4,222.2" fill="#00b0ff" stroke="#001a26" stroke-width="0.67"/><polygon points="481.1,220.9 488.3,222.1 482.5,221.9 475.3,220.8" fill="#00b1ff" stroke="#001b26" stroke-width="0.62"/><polygon points="651.5,180.9 657.6,173.9 650.6,174.5 644.4,181.6" fill="#1aff00" stroke="#042600"/><polygon points="546.7,220.7 553.4,219.1 547.0,219.2 540.4,221.0" fill="#00beff" stroke="#001d26" stroke-width="0.81"/><polygon points="468.0,219.0 475.3,220.8 469.5,220.5 462.2,218.8" fill="#00c0ff" stroke="#001d26" stroke-width="0.76"/><polygon points="618.8,199.7 625.1,194.5 618.2,195.0 612.0,200.3" fill="#00ff85" stroke="#002614"/><polygon points="559.8,218.7 566.4,216.5 560.0,216.7 553.4,219.1" fill="#00d3ff" stroke="#002026" stroke-width="0.94"/><polygon points="454.7,216.4 462.2,218.8 456.5,218.5 449.0,216.2" fill="#00d5ff" stroke="#002026" stroke-width="0.88"/><polygon points="572.9,216.1 579.4,213.3 572.9,213.6 566.4,216.5" fill="#00edff" stroke="#002426" stroke-width="1.06"/><polygon points="664.8,173.1 670.9,165.5 663.7,166.3 657.6,173.9" fill="#63ff00" stroke="#0f2600"/><polygon points="632.0,193.8 638.2,188.0 631.3,188.6 625.1,194.5" fill="#00ff4d" stroke="#00260c"/><polygon points="586.1,212.8 592.5,209.4 585.9,209.8 579.4,213.3" fill="#00fff0" stroke="#002624" stroke-width="1.16"/><polygon points="599.2,208.8 605.6,204.9 598.9,205.4 592.5,209.4" fill="#00ffca" stroke="#00261e" stroke-width="1.26"/><polygon points="645.3,187.2 651.5,180.9 644.4,181.6 638.2,188.0" fill="#00ff10" stroke="#002602"/><polygon points="678.2,164.5 684.3,156.4 677.0,157.3 670.9,165.5" fill="#b2ff00" stroke="#1b2600"/><polygon points="612.5,204.2 618.8,199.7 612.0,200.3 605.6,204.9" fill="#00ff9d" stroke="#002618" stroke-width="1.36"/><polygon points="513.5,222.6 520.5,222.8 514.4,222.8 507.4,222.8" fill="#00bbff" stroke="#001c26" stroke-width="0.36"/><polygon points="500.3,222.0 507.4,222.8 501.4,222.8 494.3,222.2" fill="#00beff" stroke="#001d26" stroke-width="0.58"/><polygon points="526.7,222.5 533.6,222.1 527.4,222.2 520.5,222.8" fill="#00bfff" stroke="#001d26" stroke-width="0.29"/><polygon points="487.1,220.8 494.3,222.2 488.3,222.1 481.1,220.9" fill="#00c7ff" stroke="#001e26" stroke-width="0.74"/><polygon points="539.9,221.7 546.7,220.7 540.4,221.0 533.6,222.1" fill="#00c8ff" stroke="#001e26" stroke-width="0.55"/><polygon points="658.7,180.0 664.8,173.1 657.6,173.9 651.5,180.9" fill="#34ff00" stroke="#082600"/><polygon points="473.8,218.9 481.1,220.9 475.3,220.8 468.0,219.0" fill="#00d5ff" stroke="#002026" stroke-width="0.86"/><polygon points="553.1,220.3 559.8,218.7 553.4,219.1 546.7,220.7" fill="#00d7ff" stroke="#002026" stroke-width="0.73"/><polygon points="625.7,198.9 632.0,193.8 625.1,194.5 618.8,199.7" fill="#00ff6b" stroke="#002610" stroke-width="1.45"/><polygon points="460.5,216.4 468.0,219.0 462.2,218.8 454.7,216.4" fill="#00eaff" stroke="#002326" stroke-width="0.97"/><polygon points="566.3,218.2 572.9,216.1 566.4,216.5 559.8,218.7" fill="#00ecff" stroke="#002326" stroke-width="0.87"/><polygon points="447.1,213.2 454.7,216.4 449.0,216.2 441.5,213.2" fill="#00fff9" stroke="#002625" stroke-width="1.07"/><polygon points="579.5,215.5 586.1,212.8 579.4,213.3 572.9,216.1" fill="#00fff6" stroke="#002625" stroke-width="0.99"/><polygon points="672.1,172.0 678.2,164.5 670.9,165.5 664.8,173.1" fill="#7eff00" stroke="#132600"/><polygon points="639.1,192.9 645.3,187.2 638.2,188.0 632.0,193.8" fill="#00ff32" stroke="#002608"/><polygon points="592.8,212.1 599.2,208.8 592.5,209.4 586.1,212.8" fill="#00ffd5" stroke="#002620" stroke-width="1.11"/><polygon points="606.1,208.0 612.5,204.2 605.6,204.9 599.2,208.8" fill="#00ffae" stroke="#00261a" stroke-width="1.21"/><polygon points="652.5,186.2 658.7,180.0 651.5,180.9 645.3,187.2" fill="#0cff00" stroke="#022600"/><polygon points="685.7,163.4 691.8,155.3 684.3,156.4 678.2,164.5" fill="#ceff00" stroke="#1f2600"/><polygon points="619.4,203.3 625.7,198.9 618.8,199.7 612.5,204.2" fill="#00ff81" stroke="#002613" stroke-width="1.32"/><polygon points="519.7,222.1 526.7,222.5 520.5,222.8 513.5,222.6" fill="#00d4ff" stroke="#002026" stroke-width="0.53"/><polygon points="506.4,221.6 513.5,222.6 507.4,222.8 500.3,222.0" fill="#00d6ff" stroke="#002026" stroke-width="0.71"/><polygon points="533.0,222.0 539.9,221.7 533.6,222.1 526.7,222.5" fill="#00d8ff" stroke="#002026" stroke-width="0.26"/><polygon points="493.1,220.5 500.3,222.0 494.3,222.2 487.1,220.8" fill="#00deff" stroke="#002126" stroke-width="0.84"/><polygon points="546.3,221.1 553.1,220.3 546.7,220.7 539.9,221.7" fill="#00e2ff" stroke="#002226" stroke-width="0.40"/><polygon points="666.0,178.8 672.1,172.0 664.8,173.1 658.7,180.0" fill="#51ff00" stroke="#0c2600"/><polygon points="479.7,218.7 487.1,220.8 481.1,220.9 473.8,218.9" fill="#00edff" stroke="#002326" stroke-width="0.96"/><polygon points="559.6,219.6 566.3,218.2 559.8,218.7 553.1,220.3" fill="#00f2ff" stroke="#002426" stroke-width="0.62"/><polygon points="632.8,197.9 639.1,192.9 632.0,193.8 625.7,198.9" fill="#00ff4e" stroke="#00260c" stroke-width="1.41"/><polygon points="466.3,216.2 473.8,218.9 468.0,219.0 460.5,216.4" fill="#00fffd" stroke="#002626" stroke-width="1.06"/><polygon points="572.9,217.5 579.5,215.5 572.9,216.1 566.3,218.2" fill="#00fff6" stroke="#002625" stroke-width="0.79"/><polygon points="452.9,213.0 460.5,216.4 454.7,216.4 447.1,213.2" fill="#00ffe3" stroke="#002622" stroke-width="1.15"/><polygon points="586.3,214.7 592.8,212.1 586.1,212.8 579.5,215.5" fill="#00ffda" stroke="#002621" stroke-width="0.93"/><polygon points="679.5,170.7 685.7,163.4 678.2,164.5 672.1,172.0" fill="#9bff00" stroke="#172600"/><polygon points="646.3,191.8 652.5,186.2 645.3,187.2 639.1,192.9" fill="#00ff15" stroke="#002603"/><polygon points="599.6,211.2 606.1,208.0 599.2,208.8 592.8,212.1" fill="#00ffb9" stroke="#00261c" stroke-width="1.05"/><polygon points="613.0,207.0 619.4,203.3 612.5,204.2 606.1,208.0" fill="#00ff91" stroke="#002616" stroke-width="1.17"/><polygon points="659.8,185.0 666.0,178.8 658.7,180.0 652.5,186.2" fill="#2aff00" stroke="#062600"/><polygon points="693.2,161.9 699.3,154.0 691.8,155.3 685.7,163.4" fill="#ecff00" stroke="#232600"/><polygon points="626.5,202.2 632.8,197.9 625.7,198.9 619.4,203.3" fill="#00ff63" stroke="#00260f" stroke-width="1.27"/><polygon points="526.0,221.5 533.0,222.0 526.7,222.5 519.7,222.1" fill="#00efff" stroke="#002426" stroke-width="0.67"/><polygon points="512.6,221.0 519.7,222.1 513.5,222.6 506.4,221.6" fill="#00f1ff" stroke="#002426" stroke-width="0.82"/><polygon points="539.4,221.2 546.3,221.1 539.9,221.7 533.0,222.0" fill="#00f4ff" stroke="#002526" stroke-width="0.47"/><polygon points="499.2,219.9 506.4,221.6 500.3,222.0 493.1,220.5" fill="#00f8ff" stroke="#002526" stroke-width="0.94"/><polygon points="552.8,220.3 559.6,219.6 553.1,220.3 546.3,221.1" fill="#00feff" stroke="#002626" stroke-width="0.08"/><polygon points="485.7,218.2 493.1,220.5 487.1,220.8 479.7,218.7" fill="#00fff8" stroke="#002625" stroke-width="1.05"/><polygon points="673.4,177.5 679.5,170.7 672.1,172.0 666.0,178.8" fill="#6fff00" stroke="#112600"/><polygon points="566.2,218.8 572.9,217.5 566.3,218.2 559.6,219.6" fill="#00ffef" stroke="#002624" stroke-width="0.49"/><polygon points="472.2,215.7 479.7,218.7 473.8,218.9 466.3,216.2" fill="#00ffe5" stroke="#002622" stroke-width="1.14"/><polygon points="640.0,196.6 646.3,191.8 639.1,192.9 632.8,197.9" fill="#00ff30" stroke="#002607" stroke-width="1.37"/><polygon points="579.6,216.5 586.3,214.7 579.5,215.5 572.9,217.5" fill="#00ffd9" stroke="#002621" stroke-width="0.69"/><polygon points="458.7,212.6 466.3,216.2 460.5,216.4 452.9,213.0" fill="#00ffcc" stroke="#00261f" stroke-width="1.23"/><polygon points="593.1,213.6 599.6,211.2 592.8,212.1 586.3,214.7" fill="#00ffbd" stroke="#00261c" stroke-width="0.85"/><polygon points="687.1,169.2 693.2,161.9 685.7,163.4 679.5,170.7" fill="#baff00" stroke="#1c2600"/><polygon points="653.5,190.4 659.8,185.0 652.5,186.2 646.3,191.8" fill="#0aff00" stroke="#022600"/><polygon points="606.5,210.0 613.0,207.0 606.1,208.0 599.6,211.2" fill="#00ff9a" stroke="#002617" stroke-width="0.99"/><polygon points="620.1,205.8 626.5,202.2 619.4,203.3 613.0,207.0" fill="#00ff72" stroke="#002611" stroke-width="1.11"/><polygon points="667.2,183.5 673.4,177.5 666.0,178.8 659.8,185.0" fill="#4aff00" stroke="#0b2600"/><polygon points="700.9,160.3 707.0,152.4 699.3,154.0 693.2,161.9" fill="#fff300" stroke="#262400"/><polygon points="633.6,200.8 640.0,196.6 632.8,197.9 626.5,202.2" fill="#00ff44" stroke="#00260a" stroke-width="1.22"/><polygon points="532.4,220.6 539.4,221.2 533.0,222.0 526.0,221.5" fill="#00fff2" stroke="#002624" stroke-width="0.78"/><polygon points="518.9,220.2 526.0,221.5 519.7,222.1 512.6,221.0" fill="#00fff1" stroke="#002624" stroke-width="0.92"/><polygon points="545.9,220.3 552.8,220.3 546.3,221.1 539.4,221.2" fill="#00ffed" stroke="#002624" stroke-width="0.62"/><polygon points="505.4,219.2 512.6,221.0 506.4,221.6 499.2,219.9" fill="#00ffea" stroke="#002623" stroke-width="1.03"/><polygon points="559.4,219.3 566.2,218.8 559.6,219.6 552.8,220.3" fill="#00ffe2" stroke="#002622" stroke-width="0.39"/><polygon points="491.8,217.5 499.2,219.9 493.1,220.5 485.7,218.2" fill="#00ffde" stroke="#002621" stroke-width="1.13"/><polygon points="680.9,175.9 687.1,169.2 679.5,170.7 673.4,177.5" fill="#8fff00" stroke="#162600"/><polygon points="572.9,217.7 579.6,216.5 572.9,217.5 566.2,218.8" fill="#00ffd1" stroke="#00261f" stroke-width="0.30"/><polygon points="478.2,215.1 485.7,218.2 479.7,218.7 472.2,215.7" fill="#00ffcb" stroke="#00261e" stroke-width="1.22"/><polygon points="647.2,195.2 653.5,190.4 646.3,191.8 640.0,196.6" fill="#00ff0f" stroke="#002602" stroke-width="1.33"/><polygon points="586.4,215.4 593.1,213.6 586.3,214.7 579.6,216.5" fill="#00ffba" stroke="#00261c" stroke-width="0.58"/><polygon points="464.6,212.1 472.2,215.7 466.3,216.2 458.7,212.6" fill="#00ffb2" stroke="#00261b" stroke-width="1.31"/><polygon points="600.0,212.4 606.5,210.0 599.6,211.2 593.1,213.6" fill="#00ff9d" stroke="#002618" stroke-width="0.76"/><polygon points="694.7,167.5 700.9,160.3 693.2,161.9 687.1,169.2" fill="#dbff00" stroke="#212600"/><polygon points="660.9,188.8 667.2,183.5 659.8,185.0 653.5,190.4" fill="#2bff00" stroke="#062600" stroke-width="1.43"/><polygon points="613.6,208.7 620.1,205.8 613.0,207.0 606.5,210.0" fill="#00ff7a" stroke="#002612" stroke-width="0.92"/><polygon points="627.2,204.3 633.6,200.8 626.5,202.2 620.1,205.8" fill="#00ff51" stroke="#00260c" stroke-width="1.05"/><polygon points="674.7,181.8 680.9,175.9 673.4,177.5 667.2,183.5" fill="#6bff00" stroke="#102600"/><polygon points="640.9,199.2 647.2,195.2 640.0,196.6 633.6,200.8" fill="#00ff22" stroke="#002605" stroke-width="1.17"/><polygon points="538.9,219.5 545.9,220.3 539.4,221.2 532.4,220.6" fill="#00ffd4" stroke="#002620" stroke-width="0.89"/><polygon points="525.3,219.2 532.4,220.6 526.0,221.5 518.9,220.2" fill="#00ffd3" stroke="#002620" stroke-width="1.01"/><polygon points="552.5,219.2 559.4,219.3 552.8,220.3 545.9,220.3" fill="#00ffce" stroke="#00261f" stroke-width="0.74"/><polygon points="511.7,218.3 518.9,220.2 512.6,221.0 505.4,219.2" fill="#00ffcd" stroke="#00261f" stroke-width="1.12"/><polygon points="566.1,218.1 572.9,217.7 566.2,218.8 559.4,219.3" fill="#00ffc2" stroke="#00261d" stroke-width="0.56"/><polygon points="498.0,216.6 505.4,219.2 499.2,219.9 491.8,217.5" fill="#00ffc1" stroke="#00261d" stroke-width="1.21"/><polygon points="688.6,174.0 694.7,167.5 687.1,169.2 680.9,175.9" fill="#b2ff00" stroke="#1b2600"/><polygon points="579.7,216.4 586.4,215.4 579.6,216.5 572.9,217.7" fill="#00ffb1" stroke="#00261a" stroke-width="0.26"/><polygon points="484.3,214.3 491.8,217.5 485.7,218.2 478.2,215.1" fill="#00ffaf" stroke="#00261a" stroke-width="1.30"/><polygon points="654.6,193.5 660.9,188.8 653.5,190.4 647.2,195.2" fill="#13ff00" stroke="#032600" stroke-width="1.29"/><polygon points="593.4,214.0 600.0,212.4 593.1,213.6 586.4,215.4" fill="#00ff99" stroke="#002617" stroke-width="0.43"/><polygon points="470.6,211.2 478.2,215.1 472.2,215.7 464.6,212.1" fill="#00ff96" stroke="#002617" stroke-width="1.38"/><polygon points="607.0,210.9 613.6,208.7 606.5,210.0 600.0,212.4" fill="#00ff7b" stroke="#002613" stroke-width="0.66"/><polygon points="668.5,187.0 674.7,181.8 667.2,183.5 660.9,188.8" fill="#4eff00" stroke="#0c2600" stroke-width="1.40"/><polygon points="620.7,207.1 627.2,204.3 620.1,205.8 613.6,208.7" fill="#00ff58" stroke="#00260d" stroke-width="0.84"/><polygon points="634.5,202.6 640.9,199.2 633.6,200.8 627.2,204.3" fill="#00ff2e" stroke="#002607" stroke-width="0.99"/><polygon points="682.4,179.8 688.6,174.0 680.9,175.9 674.7,181.8" fill="#8fff00" stroke="#152600"/><polygon points="531.8,218.0 538.9,219.5 532.4,220.6 525.3,219.2" fill="#00ffb4" stroke="#00261b" stroke-width="1.10"/><polygon points="545.5,218.2 552.5,219.2 545.9,220.3 538.9,219.5" fill="#00ffb3" stroke="#00261b" stroke-width="0.98"/><polygon points="648.3,197.4 654.6,193.5 647.2,195.2 640.9,199.2" fill="#01ff00" stroke="#002600" stroke-width="1.12"/><polygon points="518.0,217.1 525.3,219.2 518.9,220.2 511.7,218.3" fill="#00ffae" stroke="#00261a" stroke-width="1.20"/><polygon points="559.2,217.8 566.1,218.1 559.4,219.3 552.5,219.2" fill="#00ffad" stroke="#00261a" stroke-width="0.85"/><polygon points="504.3,215.5 511.7,218.3 505.4,219.2 498.0,216.6" fill="#00ffa2" stroke="#002618" stroke-width="1.29"/><polygon points="572.9,216.6 579.7,216.4 572.9,217.7 566.1,218.1" fill="#00ffa1" stroke="#002618" stroke-width="0.69"/><polygon points="490.5,213.2 498.0,216.6 491.8,217.5 484.3,214.3" fill="#00ff91" stroke="#002616" stroke-width="1.38"/><polygon points="586.7,214.8 593.4,214.0 586.4,215.4 579.7,216.4" fill="#00ff8e" stroke="#002615" stroke-width="0.48"/><polygon points="662.2,191.6 668.5,187.0 660.9,188.8 654.6,193.5" fill="#37ff00" stroke="#082600" stroke-width="1.24"/><polygon points="476.7,210.2 484.3,214.3 478.2,215.1 470.6,211.2" fill="#00ff79" stroke="#002612"/><polygon points="600.4,212.3 607.0,210.9 600.0,212.4 593.4,214.0" fill="#00ff76" stroke="#002612" stroke-width="0.17"/><polygon points="614.2,209.1 620.7,207.1 613.6,208.7 607.0,210.9" fill="#00ff58" stroke="#00260d" stroke-width="0.54"/><polygon points="676.1,185.0 682.4,179.8 674.7,181.8 668.5,187.0" fill="#72ff00" stroke="#112600" stroke-width="1.36"/><polygon points="628.0,205.3 634.5,202.6 627.2,204.3 620.7,207.1" fill="#00ff34" stroke="#002608" stroke-width="0.75"/><polygon points="641.9,200.7 648.3,197.4 640.9,199.2 634.5,202.6" fill="#00ff0a" stroke="#002601" stroke-width="0.91"/><polygon points="538.4,216.5 545.5,218.2 538.9,219.5 531.8,218.0" fill="#00ff92" stroke="#002616" stroke-width="1.18"/><polygon points="552.2,216.7 559.2,217.8 552.5,219.2 545.5,218.2" fill="#00ff91" stroke="#002616" stroke-width="1.07"/><polygon points="524.5,215.7 531.8,218.0 525.3,219.2 518.0,217.1" fill="#00ff8d" stroke="#002615" stroke-width="1.28"/><polygon points="655.8,195.4 662.2,191.6 654.6,193.5 648.3,197.4" fill="#26ff00" stroke="#062600" stroke-width="1.06"/><polygon points="566.0,216.2 572.9,216.6 566.1,218.1 559.2,217.8" fill="#00ff8a" stroke="#002615" stroke-width="0.95"/><polygon points="510.7,214.1 518.0,217.1 511.7,218.3 504.3,215.5" fill="#00ff82" stroke="#002613" stroke-width="1.37"/><polygon points="579.8,214.9 586.7,214.8 579.7,216.4 572.9,216.6" fill="#00ff7d" stroke="#002613" stroke-width="0.81"/><polygon points="496.8,211.9 504.3,215.5 498.0,216.6 490.5,213.2" fill="#00ff71" stroke="#002611"/><polygon points="593.7,213.0 600.4,212.3 593.4,214.0 586.7,214.8" fill="#00ff6a" stroke="#002610" stroke-width="0.63"/><polygon points="482.8,208.9 490.5,213.2 484.3,214.3 476.7,210.2" fill="#00ff5a" stroke="#00260d"/><polygon points="669.8,189.4 676.1,185.0 668.5,187.0 662.2,191.6" fill="#5dff00" stroke="#0e2600" stroke-width="1.19"/><polygon points="607.6,210.5 614.2,209.1 607.0,210.9 600.4,212.3" fill="#00ff52" stroke="#00260c" stroke-width="0.37"/><polygon points="621.5,207.2 628.0,205.3 620.7,207.1 614.2,209.1" fill="#00ff33" stroke="#002608" stroke-width="0.37"/><polygon points="635.4,203.2 641.9,200.7 634.5,202.6 628.0,205.3" fill="#00ff0e" stroke="#002602" stroke-width="0.64"/><polygon points="649.4,198.5 655.8,195.4 648.3,197.4 641.9,200.7" fill="#1dff00" stroke="#042600" stroke-width="0.83"/><polygon points="545.1,214.8 552.2,216.7 545.5,218.2 538.4,216.5" fill="#00ff6f" stroke="#002611" stroke-width="1.26"/><polygon points="559.0,214.9 566.0,216.2 559.2,217.8 552.2,216.7" fill="#00ff6d" stroke="#002610" stroke-width="1.16"/><polygon points="531.1,214.0 538.4,216.5 531.8,218.0 524.5,215.7" fill="#00ff6a" stroke="#002610" stroke-width="1.36"/><polygon points="572.9,214.3 579.8,214.9 572.9,216.6 566.0,216.2" fill="#00ff66" stroke="#00260f" stroke-width="1.05"/><polygon points="663.5,193.1 669.8,189.4 662.2,191.6 655.8,195.4" fill="#4eff00" stroke="#0c2600" stroke-width="0.99"/><polygon points="517.1,212.5 524.5,215.7 518.0,217.1 510.7,214.1" fill="#00ff60" stroke="#00260e" stroke-width="1.44"/><polygon points="586.9,213.0 593.7,213.0 586.7,214.8 579.8,214.9" fill="#00ff58" stroke="#00260d" stroke-width="0.91"/><polygon points="503.1,210.3 510.7,214.1 504.3,215.5 496.8,211.9" fill="#00ff4f" stroke="#00260c"/><polygon points="600.8,211.0 607.6,210.5 600.4,212.3 593.7,213.0" fill="#00ff45" stroke="#00260a" stroke-width="0.76"/><polygon points="489.1,207.4 496.8,211.9 490.5,213.2 482.8,208.9" fill="#00ff39" stroke="#002609"/><polygon points="614.8,208.3 621.5,207.2 614.2,209.1 607.6,210.5" fill="#00ff2b" stroke="#002606" stroke-width="0.55"/><polygon points="628.9,204.9 635.4,203.2 628.0,205.3 621.5,207.2" fill="#00ff0c" stroke="#002602" stroke-width="0.17"/><polygon points="642.9,200.9 649.4,198.5 641.9,200.7 635.4,203.2" fill="#1aff00" stroke="#042600" stroke-width="0.50"/><polygon points="657.1,196.0 663.5,193.1 655.8,195.4 649.4,198.5" fill="#45ff00" stroke="#0a2600" stroke-width="0.74"/><polygon points="551.8,212.8 559.0,214.9 552.2,216.7 545.1,214.8" fill="#00ff49" stroke="#00260b" stroke-width="1.34"/><polygon points="565.9,212.9 572.9,214.3 566.0,216.2 559.0,214.9" fill="#00ff47" stroke="#00260b" stroke-width="1.25"/><polygon points="537.8,212.1 545.1,214.8 538.4,216.5 531.1,214.0" fill="#00ff45" stroke="#00260a" stroke-width="1.43"/><polygon points="580.0,212.2 586.9,213.0 579.8,214.9 572.9,214.3" fill="#00ff3f" stroke="#002609" stroke-width="1.14"/><polygon points="523.7,210.7 531.1,214.0 524.5,215.7 517.1,212.5" fill="#00ff3c" stroke="#002609"/><polygon points="594.0,210.8 600.8,211.0 593.7,213.0 586.9,213.0" fill="#00ff31" stroke="#002607" stroke-width="1.01"/><polygon points="509.6,208.5 517.1,212.5 510.7,214.1 503.1,210.3" fill="#00ff2c" stroke="#002607"/><polygon points="608.1,208.7 614.8,208.3 607.6,210.5 600.8,211.0" fill="#00ff1d" stroke="#002604" stroke-width="0.87"/><polygon points="495.4,205.7 503.1,210.3 496.8,211.9 489.1,207.4" fill="#00ff16" stroke="#002603"/><polygon points="622.2,206.0 628.9,204.9 621.5,207.2 614.8,208.3" fill="#00ff03" stroke="#002600" stroke-width="0.69"/><polygon points="636.4,202.5 642.9,200.9 635.4,203.2 628.9,204.9" fill="#1dff00" stroke="#042600" stroke-width="0.44"/><polygon points="650.6,198.3 657.1,196.0 649.4,198.5 642.9,200.9" fill="#43ff00" stroke="#0a2600" stroke-width="0.30"/><polygon points="558.8,210.6 565.9,212.9 559.0,214.9 551.8,212.8" fill="#00ff22" stroke="#002605" stroke-width="1.42"/><polygon points="572.9,210.6 580.0,212.2 572.9,214.3 565.9,212.9" fill="#00ff1f" stroke="#002605" stroke-width="1.33"/><polygon points="544.6,210.0 551.8,212.8 545.1,214.8 537.8,212.1" fill="#00ff1f" stroke="#002605"/><polygon points="587.1,209.8 594.0,210.8 586.9,213.0 580.0,212.2" fill="#00ff17" stroke="#002603" stroke-width="1.22"/><polygon points="530.4,208.6 537.8,212.1 531.1,214.0 523.7,210.7" fill="#00ff16" stroke="#002603"/><polygon points="601.3,208.4 608.1,208.7 600.8,211.0 594.0,210.8" fill="#00ff08" stroke="#002601" stroke-width="1.11"/><polygon points="516.2,206.5 523.7,210.7 517.1,212.5 509.6,208.5" fill="#00ff07" stroke="#002601"/><polygon points="615.5,206.2 622.2,206.0 614.8,208.3 608.1,208.7" fill="#0dff00" stroke="#022600" stroke-width="0.97"/><polygon points="501.9,203.7 509.6,208.5 503.1,210.3 495.4,205.7" fill="#0fff00" stroke="#022600"/><polygon points="629.8,203.3 636.4,202.5 628.9,204.9 622.2,206.0" fill="#27ff00" stroke="#062600" stroke-width="0.81"/><polygon points="644.0,199.7 650.6,198.3 642.9,200.9 636.4,202.5" fill="#48ff00" stroke="#0b2600" stroke-width="0.61"/><polygon points="565.8,208.2 572.9,210.6 565.9,212.9 558.8,210.6" fill="#07ff00" stroke="#012600"/><polygon points="551.5,207.6 558.8,210.6 551.8,212.8 544.6,210.0" fill="#09ff00" stroke="#012600"/><polygon points="580.1,208.1 587.1,209.8 580.0,212.2 572.9,210.6" fill="#0aff00" stroke="#022600" stroke-width="1.41"/><polygon points="537.2,206.3 544.6,210.0 537.8,212.1 530.4,208.6" fill="#12ff00" stroke="#032600"/><polygon points="594.4,207.2 601.3,208.4 594.0,210.8 587.1,209.8" fill="#13ff00" stroke="#032600" stroke-width="1.31"/><polygon points="522.8,204.2 530.4,208.6 523.7,210.7 516.2,206.5" fill="#21ff00" stroke="#052600"/><polygon points="608.7,205.7 615.5,206.2 608.1,208.7 601.3,208.4" fill="#23ff00" stroke="#052600" stroke-width="1.20"/><polygon points="508.5,201.5 516.2,206.5 509.6,208.5 501.9,203.7" fill="#35ff00" stroke="#082600"/><polygon points="623.0,203.4 629.8,203.3 622.2,206.0 615.5,206.2" fill="#38ff00" stroke="#082600" stroke-width="1.07"/><polygon points="637.4,200.4 644.0,199.7 636.4,202.5 629.8,203.3" fill="#53ff00" stroke="#0c2600" stroke-width="0.92"/><polygon points="572.9,205.4 580.1,208.1 572.9,210.6 565.8,208.2" fill="#32ff00" stroke="#072600"/><polygon points="558.5,204.9 565.8,208.2 558.8,210.6 551.5,207.6" fill="#34ff00" stroke="#082600"/><polygon points="587.4,205.3 594.4,207.2 587.1,209.8 580.1,208.1" fill="#35ff00" stroke="#082600"/><polygon points="544.1,203.7 551.5,207.6 544.6,210.0 537.2,206.3" fill="#3cff00" stroke="#092600"/><polygon points="601.8,204.3 608.7,205.7 601.3,208.4 594.4,207.2" fill="#3fff00" stroke="#0a2600" stroke-width="1.39"/><polygon points="529.6,201.7 537.2,206.3 530.4,208.6 522.8,204.2" fill="#4aff00" stroke="#0b2600"/><polygon points="616.2,202.7 623.0,203.4 615.5,206.2 608.7,205.7" fill="#4fff00" stroke="#0c2600" stroke-width="1.28"/><polygon points="515.1,199.0 522.8,204.2 516.2,206.5 508.5,201.5" fill="#5eff00" stroke="#0e2600"/><polygon points="630.7,200.4 637.4,200.4 629.8,203.3 623.0,203.4" fill="#65ff00" stroke="#0f2600" stroke-width="1.16"/><polygon points="580.2,202.4 587.4,205.3 580.1,208.1 572.9,205.4" fill="#5eff00" stroke="#0e2600"/><polygon points="565.7,202.0 572.9,205.4 565.8,208.2 558.5,204.9" fill="#60ff00" stroke="#0e2600"/><polygon points="594.8,202.2 601.8,204.3 594.4,207.2 587.4,205.3" fill="#63ff00" stroke="#0f2600"/><polygon points="551.1,200.8 558.5,204.9 551.5,207.6 544.1,203.7" fill="#67ff00" stroke="#0f2600"/><polygon points="609.3,201.2 616.2,202.7 608.7,205.7 601.8,204.3" fill="#6dff00" stroke="#102600"/><polygon points="536.5,198.9 544.1,203.7 537.2,206.3 529.6,201.7" fill="#74ff00" stroke="#112600"/><polygon points="623.9,199.5 630.7,200.4 623.0,203.4 616.2,202.7" fill="#7eff00" stroke="#132600" stroke-width="1.37"/><polygon points="521.9,196.2 529.6,201.7 522.8,204.2 515.1,199.0" fill="#88ff00" stroke="#142600"/><polygon points="587.6,199.2 594.8,202.2 587.4,205.3 580.2,202.4" fill="#8dff00" stroke="#152600"/><polygon points="572.9,198.8 580.2,202.4 572.9,205.4 565.7,202.0" fill="#8dff00" stroke="#152600"/><polygon points="602.3,198.8 609.3,201.2 601.8,204.3 594.8,202.2" fill="#92ff00" stroke="#162600"/><polygon points="558.2,197.6 565.7,202.0 558.5,204.9 551.1,200.8" fill="#94ff00" stroke="#162600"/><polygon points="617.0,197.8 623.9,199.5 616.2,202.7 609.3,201.2" fill="#9dff00" stroke="#182600"/><polygon points="543.5,195.8 551.1,200.8 544.1,203.7 536.5,198.9" fill="#a1ff00" stroke="#182600"/><polygon points="528.8,193.2 536.5,198.9 529.6,201.7 521.9,196.2" fill="#b4ff00" stroke="#1b2600"/><polygon points="595.2,195.6 602.3,198.8 594.8,202.2 587.6,199.2" fill="#bdff00" stroke="#1c2600"/><polygon points="580.3,195.3 587.6,199.2 580.2,202.4 572.9,198.8" fill="#bdff00" stroke="#1c2600"/><polygon points="610.0,195.2 617.0,197.8 609.3,201.2 602.3,198.8" fill="#c3ff00" stroke="#1d2600"/><polygon points="565.5,194.2 572.9,198.8 565.7,202.0 558.2,197.6" fill="#c3ff00" stroke="#1d2600"/><polygon points="550.7,192.4 558.2,197.6 551.1,200.8 543.5,195.8" fill="#cfff00" stroke="#1f2600"/><polygon points="535.8,189.8 543.5,195.8 536.5,198.9 528.8,193.2" fill="#e2ff00" stroke="#222600"/><polygon points="587.9,191.5 595.2,195.6 587.6,199.2 580.3,195.3" fill="#efff00" stroke="#242600"/><polygon points="602.8,191.7 610.0,195.2 602.3,198.8 595.2,195.6" fill="#efff00" stroke="#242600"/><polygon points="572.9,190.5 580.3,195.3 572.9,198.8 565.5,194.2" fill="#f4ff00" stroke="#252600"/><polygon points="558.0,188.7 565.5,194.2 558.2,197.6 550.7,192.4" fill="#fffe00" stroke="#262600"/><polygon points="543.0,186.2 550.7,192.4 543.5,195.8 535.8,189.8" fill="#ffed00" stroke="#262300"/><polygon points="595.6,187.4 602.8,191.7 595.2,195.6 587.9,191.5" fill="#ffdc00" stroke="#262100"/><polygon points="580.5,186.5 587.9,191.5 580.3,195.3 572.9,190.5" fill="#ffd700" stroke="#262000"/><polygon points="565.4,184.8 572.9,190.5 565.5,194.2 558.0,188.7" fill="#ffcc00" stroke="#261f00"/><polygon points="550.3,182.3 558.0,188.7 550.7,192.4 543.0,186.2" fill="#ffbb00" stroke="#261c00"/><polygon points="588.2,182.1 595.6,187.4 587.9,191.5 580.5,186.5" fill="#ffa200" stroke="#261800"/><polygon points="572.9,180.5 580.5,186.5 572.9,190.5 565.4,184.8" fill="#ff9800" stroke="#261700"/><polygon points="557.7,178.1 565.4,184.8 558.0,188.7 550.3,182.3" fill="#ff8800" stroke="#261400"/><polygon points="580.6,175.9 588.2,182.1 580.5,186.5 572.9,180.5" fill="#ff6200" stroke="#260f00"/><polygon points="565.2,173.5 572.9,180.5 565.4,184.8 557.7,178.1" fill="#ff5200" stroke="#260c00"/><polygon points="572.9,168.6 580.6,175.9 572.9,180.5 565.2,173.5" fill="#ff1b00" stroke="#260400"/></g>
<circle cx="441.1" cy="204.4" r="2.9" fill="#a80000" stroke="#2a0000" stroke-width="0.9"/><circle cx="706.4" cy="165.3" r="2.9" fill="#f7b5b9" stroke="#2a0000" stroke-width="0.9"/><circle cx="572.9" cy="171.0" r="2.9" fill="#f7b5b9" stroke="#2a0000" stroke-width="0.9"/>
<g font-family="Liberation Sans, sans-serif" font-size="8" fill="#5a5a5a"><text transform="translate(438.3,242.1) scale(1,1.080)" text-anchor="end" font-size="7.4">9</text><text transform="translate(437.1,213.8) scale(1,1.080)" text-anchor="end" font-size="7.4">10</text><text transform="translate(435.9,185.5) scale(1,1.080)" text-anchor="end" font-size="7.4">11</text><text transform="translate(434.6,157.2) scale(1,1.080)" text-anchor="end" font-size="7.4">12</text><text transform="translate(433.4,128.9) scale(1,1.080)" text-anchor="end" font-size="7.4">13</text><text transform="translate(432.2,100.6) scale(1,1.080)" text-anchor="end" font-size="7.4">14</text><text transform="translate(576.4,363.3) scale(1,1.080)" text-anchor="start" font-size="7.6">2</text><text transform="translate(597.8,352.6) scale(1,1.080)" text-anchor="start" font-size="7.6">3</text><text transform="translate(619.2,341.8) scale(1,1.080)" text-anchor="start" font-size="7.6">4</text><text transform="translate(640.5,331.1) scale(1,1.080)" text-anchor="start" font-size="7.6">5</text><text transform="translate(661.9,320.3) scale(1,1.080)" text-anchor="start" font-size="7.6">6</text><text transform="translate(683.2,309.6) scale(1,1.080)" text-anchor="start" font-size="7.6">7</text><text transform="translate(704.6,298.8) scale(1,1.080)" text-anchor="start" font-size="7.6">8</text><text transform="translate(569.4,363.3) scale(1,1.080)" text-anchor="end" font-size="7.6">4</text><text transform="translate(537.4,347.2) scale(1,1.080)" text-anchor="end" font-size="7.6">7</text><text transform="translate(505.3,331.1) scale(1,1.080)" text-anchor="end" font-size="7.6">10</text><text transform="translate(473.3,315.0) scale(1,1.080)" text-anchor="end" font-size="7.6">13</text><text transform="translate(441.2,298.9) scale(1,1.080)" text-anchor="end" font-size="7.6">16</text><text transform="translate(651.9,348.4) scale(1,1.080)" text-anchor="start" font-size="9">A: Acacia gum (g)</text><text transform="translate(494.9,348.4) scale(1,1.080)" text-anchor="end" font-size="9">B: Alginic acid (g)</text><text transform="translate(398.5,199.0) rotate(-90) scale(1.080,1)" text-anchor="middle" font-size="9" fill="#666">Wetting time (s)</text></g>
<path d="M442.8,623.6L572.8,581.2L703.0,623.6M441.7,601.8L572.8,561.6L704.0,601.8M440.7,580.0L572.8,542.1L705.0,580.0M439.7,558.2L572.8,522.5L706.0,558.2M438.7,536.4L572.8,503.0L707.0,536.3M437.7,514.5L572.8,483.4L708.1,514.5M436.7,492.7L572.8,463.8L709.1,492.7M442.8,623.6L436.7,492.7M464.4,616.5L459.4,487.9M486.1,609.5L482.1,483.1M507.8,602.4L504.8,478.3M529.5,595.3L527.5,473.5M551.2,588.3L550.1,468.7M572.8,581.2L572.8,463.8M703.0,623.6L709.1,492.7M670.4,613.0L675.0,485.5M637.9,602.4L641.0,478.3M605.4,591.8L606.9,471.1M572.8,581.2L572.8,463.8M442.8,623.6L444.7,665.2M572.8,581.2L572.8,618.7M703.0,623.6L701.0,665.2" stroke="#262626" stroke-width="1.5" fill="none" stroke-linecap="round"/>
<polygon points="444.7,665.2 572.8,618.7 701.0,665.2 572.9,724.8" fill="#505050"/>
<polyline points="460.1,672.4 460.1,671.4 460.1,670.6 460.1,669.8 460.0,669.0 460.1,668.2 460.1,667.3 460.1,666.4 460.2,665.4 460.3,664.5 460.4,663.6 460.5,662.6 460.6,661.7 460.7,660.9 460.9,660.1 461.1,659.2 461.1,659.2" fill="none" stroke="#08ff00" stroke-width="2.9" stroke-linejoin="round"/>
<polyline points="568.1,620.4 570.8,620.7 572.5,620.9 573.9,621.1 576.7,621.5 578.0,621.7 579.9,622.0 582.1,622.3 583.2,622.5" fill="none" stroke="#08ff00" stroke-width="2.9" stroke-linejoin="round"/>
<polyline points="676.2,656.2 677.4,656.7 679.6,657.6 681.8,658.5 683.9,659.4 686.1,660.3 688.3,661.3 689.3,661.7 691.5,662.7 693.6,663.6 695.8,664.6 697.8,665.5 699.0,666.1 699.0,666.1" fill="none" stroke="#00ff62" stroke-width="2.9" stroke-linejoin="round"/>
<polyline points="477.7,680.5 477.5,679.7 477.4,678.9 477.3,678.1 477.2,677.2 477.1,676.2 477.0,675.1 477.0,674.1 476.9,673.2 476.9,672.4 476.9,671.6 476.9,670.8 476.9,669.9 477.0,669.1 477.0,668.2 477.1,667.3 477.2,666.4 477.4,665.5 477.5,664.6 477.7,663.7 477.9,662.8 478.1,662.0 478.3,661.1 478.5,660.3 478.8,659.5 479.1,658.7 479.4,657.9 479.7,657.0 480.1,656.1 480.5,655.2 481.0,654.3 481.5,653.3 481.9,652.6 482.4,651.9 482.7,651.4" fill="none" stroke="#00ff62" stroke-width="2.9" stroke-linejoin="round"/>
<polyline points="549.7,627.1 551.6,627.1 553.5,627.2 555.5,627.2 557.6,627.3 559.9,627.4 562.1,627.5 563.8,627.6 565.4,627.8 567.0,627.9 569.6,628.1 571.7,628.3 573.2,628.5 575.1,628.7 577.6,629.0 579.1,629.2 581.0,629.5 583.3,629.8 584.7,630.0 587.5,630.4 588.9,630.7 591.2,631.1 592.9,631.4 595.1,631.8 596.9,632.1 599.2,632.6 600.8,632.9 603.4,633.4 604.7,633.7 607.2,634.2 608.8,634.6 610.9,635.1 613.4,635.7 614.6,636.0 617.1,636.6 619.5,637.2 621.0,637.6 623.1,638.2 625.5,638.8 627.9,639.5 629.2,639.9 631.4,640.5 633.7,641.2 636.0,641.9 638.4,642.6 640.7,643.3 641.3,643.5" fill="none" stroke="#00ff62" stroke-width="2.9" stroke-linejoin="round"/>
<polyline points="497.3,689.7 497.0,688.7 496.8,687.9 496.6,687.1 496.3,686.1 496.0,684.9 495.8,683.8 495.7,683.0 495.5,682.2 495.4,681.4 495.3,680.5 495.2,679.4 495.1,678.4 495.0,677.3 495.0,676.4 495.0,675.5 495.0,674.7 495.0,673.8 495.0,673.0 495.1,672.1 495.2,671.2 495.3,670.4 495.4,669.5 495.6,668.6 495.8,667.7 496.0,666.8 496.2,665.9 496.5,665.0 496.8,664.1 497.1,663.1 497.5,662.2 497.9,661.4 498.2,660.6 498.6,659.8 499.0,659.1 499.5,658.3 500.2,657.2 500.8,656.3 501.3,655.6 501.8,654.9 502.6,654.0 503.5,653.0 504.1,652.4 504.9,651.6 506.0,650.5 506.7,650.0 508.0,648.9 508.9,648.3 510.2,647.4 511.2,646.7 512.9,645.7 513.7,645.2 515.5,644.3 517.4,643.4 519.4,642.5 520.8,642.0 522.5,641.4 523.6,641.0 525.8,640.3 528.2,639.6 530.7,639.0 532.0,638.7 534.6,638.2 536.0,637.9 538.8,637.5 540.3,637.3 542.2,637.1 544.9,636.8 546.6,636.6 548.3,636.5 550.1,636.4 552.1,636.3 554.3,636.3 556.4,636.2 558.4,636.2 560.3,636.2 562.2,636.3 564.1,636.3 565.9,636.4 568.2,636.5 570.6,636.7 572.7,636.8 574.4,637.0 576.0,637.1 578.3,637.3 580.7,637.6 582.2,637.8 584.1,638.0 586.7,638.4 588.1,638.6 590.6,638.9 592.4,639.2 594.1,639.5 596.6,639.9 598.0,640.2 600.7,640.7 602.0,641.0 604.7,641.5 606.6,641.9 608.6,642.4 611.2,642.9 612.5,643.2 615.0,643.8 617.4,644.4 618.8,644.8 621.3,645.4 623.8,646.1 625.0,646.4 627.4,647.1 629.8,647.8 632.2,648.5 633.4,648.8 635.8,649.6 638.2,650.3 640.5,651.1 642.8,651.8 645.2,652.6 647.5,653.4 649.8,654.2 651.7,654.9 653.2,655.4 655.5,656.2 657.7,657.0 660.0,657.9 661.5,658.5 663.4,659.2 665.6,660.0 667.8,660.9 670.0,661.8 672.3,662.7 674.5,663.7 676.7,664.6 678.8,665.5 680.5,666.3 682.1,667.0 684.3,667.9 686.5,668.9 688.6,669.9 689.7,670.4" fill="none" stroke="#00ffe8" stroke-width="2.9" stroke-linejoin="round"/>
<polyline points="524.2,702.2 523.8,701.3 523.4,700.5 522.9,699.4 522.3,698.1 521.9,697.2 521.6,696.4 521.2,695.5 520.7,694.2 520.4,693.1 520.1,692.2 519.8,691.4 519.6,690.5 519.3,689.4 519.0,688.2 518.8,687.2 518.7,686.4 518.5,685.5 518.4,684.6 518.3,683.8 518.2,682.8 518.2,681.8 518.1,680.8 518.1,679.8 518.2,678.8 518.2,677.9 518.3,677.0 518.4,676.0 518.6,675.1 518.8,674.3 519.0,673.4 519.2,672.5 519.5,671.7 519.7,670.9 520.1,670.0 520.5,668.9 521.0,667.9 521.5,667.0 522.0,666.3 522.4,665.5 523.1,664.6 524.0,663.5 524.5,662.8 525.1,662.1 526.4,660.9 527.0,660.3 528.1,659.4 529.2,658.5 530.3,657.7 531.6,656.9 533.3,655.9 534.2,655.4 536.1,654.4 538.1,653.5 540.2,652.7 542.5,652.0 544.9,651.2 546.1,650.9 548.8,650.3 550.5,650.0 553.0,649.5 554.5,649.3 557.2,649.0 559.2,648.8 560.9,648.6 562.7,648.5 564.8,648.4 567.1,648.3 569.2,648.3 571.3,648.3 573.2,648.3 575.2,648.4 577.0,648.4 579.3,648.6 581.8,648.7 584.0,648.9 585.7,649.1 587.3,649.2 590.0,649.5 592.1,649.8 593.6,650.0 596.4,650.4 598.1,650.7 600.0,651.0 602.5,651.4 603.9,651.7 606.7,652.2 608.1,652.5 610.8,653.1 612.9,653.5 614.8,654.0 617.5,654.6 618.8,654.9 621.4,655.6 623.9,656.3 625.2,656.6 627.7,657.3 630.2,658.0 632.7,658.8 633.9,659.2 636.4,659.9 638.8,660.7 641.2,661.5 643.6,662.3 646.0,663.1 648.3,663.9 650.7,664.8 653.0,665.6 655.3,666.5 657.6,667.4 659.9,668.3 662.1,669.2 664.4,670.1 666.7,671.1 668.9,672.0 671.1,673.0 673.3,674.0 674.9,674.7 676.7,675.5 677.8,676.0" fill="none" stroke="#0089ff" stroke-width="2.9" stroke-linejoin="round"/>
<polyline points="567.7,722.4 566.5,721.1 565.8,720.3 564.4,718.7 563.7,717.9 562.8,716.8 561.8,715.5 561.1,714.7 560.1,713.3 559.4,712.3 558.8,711.5 557.8,710.1 557.2,709.1 556.7,708.3 555.9,707.1 555.2,705.8 554.7,705.0 554.3,704.1 553.7,702.9 553.1,701.6 552.7,700.8 552.4,699.9 552.0,699.0 551.6,697.8 551.2,696.6 550.9,695.6 550.7,694.7 550.5,693.8 550.3,692.9 550.2,692.0 550.0,691.0 550.0,689.9 549.9,688.9 549.9,687.9 550.0,687.0 550.0,686.0 550.2,685.1 550.3,684.2 550.5,683.3 550.8,682.3 551.2,681.2 551.7,680.1 552.2,679.2 552.6,678.5 553.1,677.7 554.1,676.4 554.7,675.6 555.4,675.0 556.7,673.7 557.5,673.1 559.1,671.9 560.4,671.1 561.8,670.4 563.9,669.4 566.1,668.5 568.5,667.8 569.8,667.4 572.5,666.8 574.0,666.5 577.1,666.0 578.8,665.8 580.6,665.7 582.6,665.6 585.0,665.5 587.2,665.4 589.3,665.4 591.3,665.5 593.2,665.6 595.7,665.7 598.4,666.0 600.4,666.2 602.0,666.4 604.5,666.7 606.9,667.0 608.4,667.3 611.5,667.8 613.0,668.1 615.9,668.7 617.3,669.0 620.1,669.7 621.5,670.0 624.3,670.7 627.0,671.4 628.3,671.8 630.9,672.5 633.5,673.3 636.1,674.1 637.3,674.5 639.8,675.3 642.3,676.2 644.8,677.0 647.2,677.9 649.6,678.9 652.0,679.8 654.3,680.7 656.6,681.7 659.0,682.7 661.2,683.7 661.2,683.7" fill="none" stroke="#0016ff" stroke-width="2.9" stroke-linejoin="round"/>
<polygon points="444.7,665.2 572.8,618.7 701.0,665.2 572.9,724.8" fill="none" stroke="#0a0a0a" stroke-width="2" stroke-linejoin="round"/>
<rect x="592.7" y="713.3" width="3.2" height="3.2" fill="#000"/><rect x="614.0" y="703.3" width="3.2" height="3.2" fill="#000"/><rect x="635.4" y="693.4" width="3.2" height="3.2" fill="#000"/><rect x="656.7" y="683.5" width="3.2" height="3.2" fill="#000"/><rect x="678.1" y="673.5" width="3.2" height="3.2" fill="#000"/><rect x="539.2" y="708.3" width="3.2" height="3.2" fill="#000"/><rect x="507.2" y="693.4" width="3.2" height="3.2" fill="#000"/><rect x="475.1" y="678.5" width="3.2" height="3.2" fill="#000"/><circle cx="442.8" cy="623.6" r="1.3" fill="#000"/><circle cx="441.7" cy="601.8" r="1.3" fill="#000"/><circle cx="440.7" cy="580.0" r="1.3" fill="#000"/><circle cx="439.7" cy="558.2" r="1.3" fill="#000"/><circle cx="438.7" cy="536.4" r="1.3" fill="#000"/><circle cx="437.7" cy="514.5" r="1.3" fill="#000"/><circle cx="436.7" cy="492.7" r="1.3" fill="#000"/><circle cx="444.7" cy="665.2" r="1.6" fill="#000"/><circle cx="572.9" cy="724.8" r="1.6" fill="#000"/><circle cx="701.0" cy="665.2" r="1.6" fill="#000"/>
<g stroke-width="1.45" stroke-linejoin="round"><polygon points="572.8,522.9 578.8,517.0 572.8,513.4 566.9,519.2" fill="#4dff00" stroke="#0c2600"/><polygon points="566.9,528.4 572.8,522.9 566.9,519.2 560.9,524.6" fill="#1aff00" stroke="#042600"/><polygon points="578.9,526.5 584.8,520.4 578.8,517.0 572.8,522.9" fill="#34ff00" stroke="#082600"/><polygon points="560.8,533.5 566.9,528.4 560.9,524.6 554.9,529.5" fill="#00ff12" stroke="#002603"/><polygon points="572.9,532.2 578.9,526.5 572.8,522.9 566.9,528.4" fill="#00ff00" stroke="#002600"/><polygon points="584.9,530.0 590.9,523.8 584.8,520.4 578.9,526.5" fill="#1dff00" stroke="#042600"/><polygon points="554.7,538.1 560.8,533.5 554.9,529.5 548.8,533.9" fill="#00ff39" stroke="#002609"/><polygon points="566.8,537.4 572.9,532.2 566.9,528.4 560.8,533.5" fill="#00ff2e" stroke="#002607"/><polygon points="578.9,535.8 584.9,530.0 578.9,526.5 572.9,532.2" fill="#00ff18" stroke="#002604"/><polygon points="591.0,533.4 597.0,527.0 590.9,523.8 584.9,530.0" fill="#08ff00" stroke="#012600"/><polygon points="548.5,542.3 554.7,538.1 548.8,533.9 542.6,538.0" fill="#00ff5a" stroke="#00260d"/><polygon points="560.7,542.1 566.8,537.4 560.8,533.5 554.7,538.1" fill="#00ff56" stroke="#00260d"/><polygon points="572.9,541.1 578.9,535.8 572.9,532.2 566.8,537.4" fill="#00ff48" stroke="#00260b"/><polygon points="585.0,539.3 591.0,533.4 584.9,530.0 578.9,535.8" fill="#00ff2f" stroke="#002607"/><polygon points="597.2,536.6 603.2,530.1 597.0,527.0 591.0,533.4" fill="#00ff0b" stroke="#002602"/><polygon points="554.5,546.4 560.7,542.1 554.7,538.1 548.5,542.3" fill="#00ff78" stroke="#002612"/><polygon points="542.3,546.0 548.5,542.3 542.6,538.0 536.3,541.5" fill="#00ff74" stroke="#002611"/><polygon points="566.7,546.1 572.9,541.1 566.8,537.4 560.7,542.1" fill="#00ff71" stroke="#002611"/><polygon points="579.0,544.8 585.0,539.3 578.9,535.8 572.9,541.1" fill="#00ff60" stroke="#00260e"/><polygon points="591.2,542.7 597.2,536.6 591.0,533.4 585.0,539.3" fill="#00ff44" stroke="#00260a"/><polygon points="603.5,539.7 609.5,533.0 603.2,530.1 597.2,536.6" fill="#00ff1d" stroke="#002604"/><polygon points="560.6,550.5 566.7,546.1 560.7,542.1 554.5,546.4" fill="#00ff94" stroke="#002616"/><polygon points="548.3,550.3 554.5,546.4 548.5,542.3 542.3,546.0" fill="#00ff94" stroke="#002616"/><polygon points="572.9,549.9 579.0,544.8 572.9,541.1 566.7,546.1" fill="#00ff8a" stroke="#002615"/><polygon points="536.0,549.3 542.3,546.0 536.3,541.5 530.0,544.7" fill="#00ff89" stroke="#002615"/><polygon points="585.2,548.4 591.2,542.7 585.0,539.3 579.0,544.8" fill="#00ff76" stroke="#002612"/><polygon points="597.5,546.0 603.5,539.7 597.2,536.6 591.2,542.7" fill="#00ff56" stroke="#00260d"/><polygon points="609.8,542.7 615.8,535.9 609.5,533.0 603.5,539.7" fill="#00ff2c" stroke="#002607"/><polygon points="554.3,554.5 560.6,550.5 554.5,546.4 548.3,550.3" fill="#00ffb2" stroke="#00261b"/><polygon points="566.7,554.5 572.9,549.9 566.7,546.1 560.6,550.5" fill="#00ffaf" stroke="#00261a"/><polygon points="542.0,553.7 548.3,550.3 542.3,546.0 536.0,549.3" fill="#00ffaa" stroke="#002619"/><polygon points="579.0,553.6 585.2,548.4 579.0,544.8 572.9,549.9" fill="#00ffa1" stroke="#002618"/><polygon points="529.6,552.1 536.0,549.3 530.0,544.7 523.6,547.3" fill="#00ff97" stroke="#002617"/><polygon points="591.4,551.8 597.5,546.0 591.2,542.7 585.2,548.4" fill="#00ff8a" stroke="#002615"/><polygon points="603.8,549.1 609.8,542.7 603.5,539.7 597.5,546.0" fill="#00ff67" stroke="#00260f"/><polygon points="616.2,545.6 622.2,538.6 615.8,535.9 609.8,542.7" fill="#00ff3a" stroke="#002609"/><polygon points="560.4,558.6 566.7,554.5 560.6,550.5 554.3,554.5" fill="#00ffcd" stroke="#00261f"/><polygon points="548.0,558.1 554.3,554.5 548.3,550.3 542.0,553.7" fill="#00ffc9" stroke="#00261e"/><polygon points="572.9,558.3 579.0,553.6 572.9,549.9 566.7,554.5" fill="#00ffc7" stroke="#00261e"/><polygon points="535.6,556.7 542.0,553.7 536.0,549.3 529.6,552.1" fill="#00ffb9" stroke="#00261c"/><polygon points="585.3,557.2 591.4,551.8 585.2,548.4 579.0,553.6" fill="#00ffb7" stroke="#00261b"/><polygon points="523.1,554.4 529.6,552.1 523.6,547.3 517.2,549.5" fill="#00ffa0" stroke="#002618"/><polygon points="597.7,555.1 603.8,549.1 597.5,546.0 591.4,551.8" fill="#00ff9c" stroke="#002617"/><polygon points="610.2,552.2 616.2,545.6 609.8,542.7 603.8,549.1" fill="#00ff76" stroke="#002612"/><polygon points="622.7,548.4 628.7,541.2 622.2,538.6 616.2,545.6" fill="#00ff46" stroke="#00260a"/><polygon points="566.6,562.6 572.9,558.3 566.7,554.5 560.4,558.6" fill="#00ffe7" stroke="#002623"/><polygon points="554.1,562.4 560.4,558.6 554.3,554.5 548.0,558.1" fill="#00ffe6" stroke="#002622"/><polygon points="579.1,562.1 585.3,557.2 579.0,553.6 572.9,558.3" fill="#00ffde" stroke="#002621"/><polygon points="541.6,561.2 548.0,558.1 542.0,553.7 535.6,556.7" fill="#00ffda" stroke="#002621"/><polygon points="591.6,560.6 597.7,555.1 591.4,551.8 585.3,557.2" fill="#00ffca" stroke="#00261e"/><polygon points="529.1,559.2 535.6,556.7 529.6,552.1 523.1,554.4" fill="#00ffc3" stroke="#00261d"/><polygon points="604.1,558.3 610.2,552.2 603.8,549.1 597.7,555.1" fill="#00ffac" stroke="#00261a"/><polygon points="516.5,556.3 523.1,554.4 517.2,549.5 510.6,551.2" fill="#00ffa2" stroke="#002618"/><polygon points="616.7,555.1 622.7,548.4 616.2,545.6 610.2,552.2" fill="#00ff83" stroke="#002614"/><polygon points="629.3,551.0 635.3,543.7 628.7,541.2 622.7,548.4" fill="#00ff50" stroke="#00260c"/><polygon points="560.3,566.5 566.6,562.6 560.4,558.6 554.1,562.4" fill="#00fdff" stroke="#002626"/><polygon points="572.9,566.5 579.1,562.1 572.9,558.3 566.6,562.6" fill="#00ffff" stroke="#002626"/><polygon points="547.7,565.6 554.1,562.4 548.0,558.1 541.6,561.2" fill="#00fff8" stroke="#002625"/><polygon points="585.4,565.7 591.6,560.6 585.3,557.2 579.1,562.1" fill="#00fff3" stroke="#002624"/><polygon points="535.2,563.8 541.6,561.2 535.6,556.7 529.1,559.2" fill="#00ffe4" stroke="#002622"/><polygon points="598.0,564.0 604.1,558.3 597.7,555.1 591.6,560.6" fill="#00ffdc" stroke="#002621"/><polygon points="522.5,561.2 529.1,559.2 523.1,554.4 516.5,556.3" fill="#00ffc7" stroke="#00261e"/><polygon points="610.6,561.4 616.7,555.1 610.2,552.2 604.1,558.3" fill="#00ffba" stroke="#00261c"/><polygon points="509.9,557.6 516.5,556.3 510.6,551.2 503.9,552.5" fill="#00ff9e" stroke="#002618"/><polygon points="623.2,557.9 629.3,551.0 622.7,548.4 616.7,555.1" fill="#00ff8e" stroke="#002615"/><polygon points="635.9,553.5 641.9,546.1 635.3,543.7 629.3,551.0" fill="#00ff58" stroke="#00260d"/><polygon points="566.5,570.5 572.9,566.5 566.6,562.6 560.3,566.5" fill="#00e4ff" stroke="#002226"/><polygon points="579.2,570.3 585.4,565.7 579.1,562.1 572.9,566.5" fill="#00e9ff" stroke="#002326"/><polygon points="553.9,569.9 560.3,566.5 554.1,562.4 547.7,565.6" fill="#00eaff" stroke="#002326"/><polygon points="591.8,569.2 598.0,564.0 591.6,560.6 585.4,565.7" fill="#00f9ff" stroke="#002526"/><polygon points="541.3,568.4 547.7,565.6 541.6,561.2 535.2,563.8" fill="#00faff" stroke="#002526"/><polygon points="604.5,567.2 610.6,561.4 604.1,558.3 598.0,564.0" fill="#00ffeb" stroke="#002623"/><polygon points="528.6,566.0 535.2,563.8 529.1,559.2 522.5,561.2" fill="#00ffe9" stroke="#002623"/><polygon points="617.1,564.3 623.2,557.9 616.7,555.1 610.6,561.4" fill="#00ffc7" stroke="#00261e"/><polygon points="515.9,562.7 522.5,561.2 516.5,556.3 509.9,557.6" fill="#00ffc4" stroke="#00261d"/><polygon points="629.9,560.6 635.9,553.5 629.3,551.0 623.2,557.9" fill="#00ff98" stroke="#002617"/><polygon points="503.1,558.5 509.9,557.6 503.9,552.5 497.2,553.2" fill="#00ff94" stroke="#002616"/><polygon points="572.9,574.5 579.2,570.3 572.9,566.5 566.5,570.5" fill="#00cdff" stroke="#001f26"/><polygon points="642.6,555.9 648.7,548.3 641.9,546.1 635.9,553.5" fill="#00ff5e" stroke="#00260e"/><polygon points="560.2,574.1 566.5,570.5 560.3,566.5 553.9,569.9" fill="#00cfff" stroke="#001f26"/><polygon points="585.6,574.0 591.8,569.2 585.4,565.7 579.2,570.3" fill="#00d5ff" stroke="#002026"/><polygon points="547.5,572.8 553.9,569.9 547.7,565.6 541.3,568.4" fill="#00dcff" stroke="#002126"/><polygon points="598.3,572.6 604.5,567.2 598.0,564.0 591.8,569.2" fill="#00e8ff" stroke="#002326"/><polygon points="534.7,570.7 541.3,568.4 535.2,563.8 528.6,566.0" fill="#00f4ff" stroke="#002526"/><polygon points="611.0,570.3 617.1,564.3 610.6,561.4 604.5,567.2" fill="#00fff9" stroke="#002625"/><polygon points="522.0,567.7 528.6,566.0 522.5,561.2 515.9,562.7" fill="#00ffe8" stroke="#002623"/><polygon points="623.8,567.2 629.9,560.6 623.2,557.9 617.1,564.3" fill="#00ffd1" stroke="#00261f"/><polygon points="509.2,563.7 515.9,562.7 509.9,557.6 503.1,558.5" fill="#00ffbb" stroke="#00261c"/><polygon points="636.6,563.1 642.6,555.9 635.9,553.5 629.9,560.6" fill="#00ff9f" stroke="#002618"/><polygon points="496.3,558.9 503.1,558.5 497.2,553.2 490.3,553.5" fill="#00ff84" stroke="#002614"/><polygon points="566.5,578.2 572.9,574.5 566.5,570.5 560.2,574.1" fill="#00b7ff" stroke="#001b26"/><polygon points="579.2,578.3 585.6,574.0 579.2,570.3 572.9,574.5" fill="#00b7ff" stroke="#001b26"/><polygon points="553.7,577.2 560.2,574.1 553.9,569.9 547.5,572.8" fill="#00c0ff" stroke="#001d26"/><polygon points="592.0,577.5 598.3,572.6 591.8,569.2 585.6,574.0" fill="#00c3ff" stroke="#001d26"/><polygon points="649.5,558.2 655.5,550.4 648.7,548.3 642.6,555.9" fill="#00ff62" stroke="#00260f"/><polygon points="540.9,575.3 547.5,572.8 541.3,568.4 534.7,570.7" fill="#00d5ff" stroke="#002026"/><polygon points="604.8,575.8 611.0,570.3 604.5,567.2 598.3,572.6" fill="#00d9ff" stroke="#002026"/><polygon points="528.1,572.5 534.7,570.7 528.6,566.0 522.0,567.7" fill="#00f4ff" stroke="#002526"/><polygon points="617.6,573.3 623.8,567.2 617.1,564.3 611.0,570.3" fill="#00f9ff" stroke="#002526"/><polygon points="515.2,568.8 522.0,567.7 515.9,562.7 509.2,563.7" fill="#00ffe1" stroke="#002622"/><polygon points="630.5,569.9 636.6,563.1 629.9,560.6 623.8,567.2" fill="#00ffda" stroke="#002621"/><polygon points="502.3,564.3 509.2,563.7 503.1,558.5 496.3,558.9" fill="#00ffad" stroke="#00261a"/><polygon points="643.4,565.5 649.5,558.2 642.6,555.9 636.6,563.1" fill="#00ffa4" stroke="#002619"/><polygon points="572.9,582.1 579.2,578.3 572.9,574.5 566.5,578.2" fill="#00a0ff" stroke="#001826"/><polygon points="585.7,582.0 592.0,577.5 585.6,574.0 579.2,578.3" fill="#00a4ff" stroke="#001926"/><polygon points="560.0,581.4 566.5,578.2 560.2,574.1 553.7,577.2" fill="#00a6ff" stroke="#001926"/><polygon points="598.5,580.9 604.8,575.8 598.3,572.6 592.0,577.5" fill="#00b2ff" stroke="#001b26"/><polygon points="547.2,579.8 553.7,577.2 547.5,572.8 540.9,575.3" fill="#00b8ff" stroke="#001c26"/><polygon points="489.3,558.8 496.3,558.9 490.3,553.5 483.3,553.2" fill="#00ff6e" stroke="#002610"/><polygon points="656.4,560.3 662.4,552.3 655.5,550.4 649.5,558.2" fill="#00ff64" stroke="#00260f"/><polygon points="611.4,579.0 617.6,573.3 611.0,570.3 604.8,575.8" fill="#00cbff" stroke="#001f26"/><polygon points="534.3,577.2 540.9,575.3 534.7,570.7 528.1,572.5" fill="#00d3ff" stroke="#002026"/><polygon points="624.3,576.2 630.5,569.9 623.8,567.2 617.6,573.3" fill="#00efff" stroke="#002426"/><polygon points="521.4,573.8 528.1,572.5 522.0,567.7 515.2,568.8" fill="#00faff" stroke="#002526"/><polygon points="637.3,572.4 643.4,565.5 636.6,563.1 630.5,569.9" fill="#00ffe1" stroke="#002622"/><polygon points="508.4,569.5 515.2,568.8 509.2,563.7 502.3,564.3" fill="#00ffd3" stroke="#002620"/><polygon points="650.3,567.8 656.4,560.3 649.5,558.2 643.4,565.5" fill="#00ffa8" stroke="#002619"/><polygon points="579.3,586.0 585.7,582.0 579.2,578.3 572.9,582.1" fill="#008bff" stroke="#001526"/><polygon points="566.4,585.5 572.9,582.1 566.5,578.2 560.0,581.4" fill="#008eff" stroke="#001526"/><polygon points="592.2,585.5 598.5,580.9 592.0,577.5 585.7,582.0" fill="#0092ff" stroke="#001626"/><polygon points="495.4,564.3 502.3,564.3 496.3,558.9 489.3,558.8" fill="#00ff98" stroke="#002617"/><polygon points="553.5,584.1 560.0,581.4 553.7,577.2 547.2,579.8" fill="#009cff" stroke="#001726"/><polygon points="605.2,584.2 611.4,579.0 604.8,575.8 598.5,580.9" fill="#00a4ff" stroke="#001926"/><polygon points="540.5,581.9 547.2,579.8 540.9,575.3 534.3,577.2" fill="#00b5ff" stroke="#001b26"/><polygon points="618.1,582.0 624.3,576.2 617.6,573.3 611.4,579.0" fill="#00c0ff" stroke="#001d26"/><polygon points="663.3,562.3 669.4,554.1 662.4,552.3 656.4,560.3" fill="#00ff65" stroke="#00260f"/><polygon points="527.6,578.7 534.3,577.2 528.1,572.5 521.4,573.8" fill="#00d8ff" stroke="#002026"/><polygon points="482.3,558.2 489.3,558.8 483.3,553.2 476.3,552.4" fill="#00ff52" stroke="#00260c"/><polygon points="631.1,578.9 637.3,572.4 630.5,569.9 624.3,576.2" fill="#00e7ff" stroke="#002326"/><polygon points="514.5,574.7 521.4,573.8 515.2,568.8 508.4,569.5" fill="#00fff8" stroke="#002625"/><polygon points="644.1,574.9 650.3,567.8 643.4,565.5 637.3,572.4" fill="#00ffe6" stroke="#002622"/><polygon points="501.5,569.7 508.4,569.5 502.3,564.3 495.4,564.3" fill="#00ffc0" stroke="#00261d"/><polygon points="585.8,589.7 592.2,585.5 585.7,582.0 579.3,586.0" fill="#0078ff" stroke="#001226"/><polygon points="572.9,589.5 579.3,586.0 572.9,582.1 566.4,585.5" fill="#0078ff" stroke="#001226"/><polygon points="657.2,570.0 663.3,562.3 656.4,560.3 650.3,567.8" fill="#00ffaa" stroke="#002619"/><polygon points="598.8,589.0 605.2,584.2 598.5,580.9 592.2,585.5" fill="#0082ff" stroke="#001426"/><polygon points="559.9,588.4 566.4,585.5 560.0,581.4 553.5,584.1" fill="#0083ff" stroke="#001426"/><polygon points="611.8,587.4 618.1,582.0 611.4,579.0 605.2,584.2" fill="#0097ff" stroke="#001726"/><polygon points="546.9,586.4 553.5,584.1 547.2,579.8 540.5,581.9" fill="#0098ff" stroke="#001726"/><polygon points="488.3,563.8 495.4,564.3 489.3,558.8 482.3,558.2" fill="#00ff7d" stroke="#002613"/><polygon points="624.9,584.9 631.1,578.9 624.3,576.2 618.1,582.0" fill="#00b7ff" stroke="#001b26"/><polygon points="533.8,583.5 540.5,581.9 534.3,577.2 527.6,578.7" fill="#00b8ff" stroke="#001c26"/><polygon points="670.4,564.1 676.5,555.8 669.4,554.1 663.3,562.3" fill="#00ff63" stroke="#00260f"/><polygon points="638.0,581.5 644.1,574.9 637.3,572.4 631.1,578.9" fill="#00e1ff" stroke="#002226"/><polygon points="520.8,579.7 527.6,578.7 521.4,573.8 514.5,574.7" fill="#00e3ff" stroke="#002226"/><polygon points="475.1,557.0 482.3,558.2 476.3,552.4 469.1,551.1" fill="#00ff2f" stroke="#002607"/><polygon points="651.1,577.2 657.2,570.0 650.3,567.8 644.1,574.9" fill="#00ffe9" stroke="#002623"/><polygon points="507.6,575.0 514.5,574.7 508.4,569.5 501.5,569.7" fill="#00ffe6" stroke="#002622"/><polygon points="579.4,593.4 585.8,589.7 579.3,586.0 572.9,589.5" fill="#0064ff" stroke="#000f26"/><polygon points="592.5,593.3 598.8,589.0 592.2,585.5 585.8,589.7" fill="#0067ff" stroke="#000f26"/><polygon points="566.3,592.5 572.9,589.5 566.4,585.5 559.9,588.4" fill="#006cff" stroke="#001026"/><polygon points="605.5,592.3 611.8,587.4 605.2,584.2 598.8,589.0" fill="#0074ff" stroke="#001126"/><polygon points="553.3,590.8 559.9,588.4 553.5,584.1 546.9,586.4" fill="#007eff" stroke="#001326"/><polygon points="664.3,572.0 670.4,564.1 663.3,562.3 657.2,570.0" fill="#00ffa9" stroke="#002619"/><polygon points="494.4,569.4 501.5,569.7 495.4,564.3 488.3,563.8" fill="#00ffa6" stroke="#002619"/><polygon points="618.6,590.4 624.9,584.9 618.1,582.0 611.8,587.4" fill="#008dff" stroke="#001526"/><polygon points="540.2,588.2 546.9,586.4 540.5,581.9 533.8,583.5" fill="#009bff" stroke="#001726"/><polygon points="631.7,587.7 638.0,581.5 631.1,578.9 624.9,584.9" fill="#00afff" stroke="#001a26"/><polygon points="527.0,584.6 533.8,583.5 527.6,578.7 520.8,579.7" fill="#00c2ff" stroke="#001d26"/><polygon points="677.6,565.8 683.7,557.3 676.5,555.8 670.4,564.1" fill="#00ff60" stroke="#00260e"/><polygon points="481.1,562.8 488.3,563.8 482.3,558.2 475.1,557.0" fill="#00ff5c" stroke="#00260e"/><polygon points="644.9,584.0 651.1,577.2 644.1,574.9 638.0,581.5" fill="#00dcff" stroke="#002126"/><polygon points="513.8,580.2 520.8,579.7 514.5,574.7 507.6,575.0" fill="#00f4ff" stroke="#002526"/><polygon points="658.2,579.4 664.3,572.0 657.2,570.0 651.1,577.2" fill="#00ffea" stroke="#002623"/><polygon points="586.0,597.1 592.5,593.3 585.8,589.7 579.4,593.4" fill="#0052ff" stroke="#000c26"/><polygon points="467.7,555.3 475.1,557.0 469.1,551.1 461.7,549.2" fill="#00ff07" stroke="#002601"/><polygon points="572.9,596.6 579.4,593.4 572.9,589.5 566.3,592.5" fill="#0056ff" stroke="#000d26"/><polygon points="599.1,596.8 605.5,592.3 598.8,589.0 592.5,593.3" fill="#0058ff" stroke="#000d26"/><polygon points="500.6,574.8 507.6,575.0 501.5,569.7 494.4,569.4" fill="#00ffce" stroke="#00261f"/><polygon points="559.7,595.1 566.3,592.5 559.9,588.4 553.3,590.8" fill="#0065ff" stroke="#000f26"/><polygon points="612.3,595.5 618.6,590.4 611.8,587.4 605.5,592.3" fill="#0069ff" stroke="#001026"/><polygon points="546.6,592.7 553.3,590.8 546.9,586.4 540.2,588.2" fill="#007fff" stroke="#001326"/><polygon points="625.5,593.4 631.7,587.7 624.9,584.9 618.6,590.4" fill="#0084ff" stroke="#001426"/><polygon points="671.5,573.8 677.6,565.8 670.4,564.1 664.3,572.0" fill="#00ffa7" stroke="#002619"/><polygon points="533.4,589.5 540.2,588.2 533.8,583.5 527.0,584.6" fill="#00a3ff" stroke="#001826"/><polygon points="487.2,568.5 494.4,569.4 488.3,563.8 481.1,562.8" fill="#00ff87" stroke="#002614"/><polygon points="638.7,590.3 644.9,584.0 638.0,581.5 631.7,587.7" fill="#00aaff" stroke="#001926"/><polygon points="684.9,567.4 691.0,558.7 683.7,557.3 677.6,565.8" fill="#00ff5a" stroke="#00260e"/><polygon points="520.1,585.3 527.0,584.6 520.8,579.7 513.8,580.2" fill="#00d2ff" stroke="#001f26"/><polygon points="652.0,586.3 658.2,579.4 651.1,577.2 644.9,584.0" fill="#00daff" stroke="#002126"/><polygon points="473.8,561.2 481.1,562.8 475.1,557.0 467.7,555.3" fill="#00ff35" stroke="#002608"/><polygon points="506.8,580.1 513.8,580.2 507.6,575.0 500.6,574.8" fill="#00fff3" stroke="#002624"/><polygon points="592.7,600.8 599.1,596.8 592.5,593.3 586.0,597.1" fill="#0041ff" stroke="#000a26"/><polygon points="665.3,581.4 671.5,573.8 664.3,572.0 658.2,579.4" fill="#00ffe9" stroke="#002623"/><polygon points="579.5,600.5 586.0,597.1 579.4,593.4 572.9,596.6" fill="#0042ff" stroke="#000a26"/><polygon points="605.9,600.1 612.3,595.5 605.5,592.3 599.1,596.8" fill="#004bff" stroke="#000b26"/><polygon points="566.3,599.3 572.9,596.6 566.3,592.5 559.7,595.1" fill="#004eff" stroke="#000c26"/><polygon points="619.1,598.6 625.5,593.4 618.6,590.4 612.3,595.5" fill="#005eff" stroke="#000e26"/><polygon points="553.0,597.2 559.7,595.1 553.3,590.8 546.6,592.7" fill="#0065ff" stroke="#000f26"/><polygon points="632.4,596.2 638.7,590.3 631.7,587.7 625.5,593.4" fill="#007dff" stroke="#001326"/><polygon points="493.4,574.1 500.6,574.8 494.4,569.4 487.2,568.5" fill="#00ffaf" stroke="#00261a"/><polygon points="460.3,553.0 467.7,555.3 461.7,549.2 454.2,546.8" fill="#27ff00" stroke="#062600"/><polygon points="539.8,594.2 546.6,592.7 540.2,588.2 533.4,589.5" fill="#0086ff" stroke="#001426"/><polygon points="678.7,575.6 684.9,567.4 677.6,565.8 671.5,573.8" fill="#00ffa3" stroke="#002619"/><polygon points="645.7,592.8 652.0,586.3 644.9,584.0 638.7,590.3" fill="#00a6ff" stroke="#001926"/><polygon points="526.5,590.2 533.4,589.5 527.0,584.6 520.1,585.3" fill="#00b1ff" stroke="#001b26"/><polygon points="479.9,567.1 487.2,568.5 481.1,562.8 473.8,561.2" fill="#00ff61" stroke="#00260f"/><polygon points="692.3,568.8 698.4,560.0 691.0,558.7 684.9,567.4" fill="#00ff53" stroke="#00260c"/><polygon points="659.1,588.5 665.3,581.4 658.2,579.4 652.0,586.3" fill="#00daff" stroke="#002126"/><polygon points="513.1,585.4 520.1,585.3 513.8,580.2 506.8,580.1" fill="#00e7ff" stroke="#002326"/><polygon points="586.2,604.3 592.7,600.8 586.0,597.1 579.5,600.5" fill="#0031ff" stroke="#000726"/><polygon points="599.5,604.3 605.9,600.1 599.1,596.8 592.7,600.8" fill="#0033ff" stroke="#000826"/><polygon points="572.9,603.4 579.5,600.5 572.9,596.6 566.3,599.3" fill="#0039ff" stroke="#000926"/><polygon points="612.8,603.4 619.1,598.6 612.3,595.5 605.9,600.1" fill="#003fff" stroke="#000926"/><polygon points="672.6,583.3 678.7,575.6 671.5,573.8 665.3,581.4" fill="#00ffe6" stroke="#002623"/><polygon points="559.6,601.5 566.3,599.3 559.7,595.1 553.0,597.2" fill="#004dff" stroke="#000b26"/><polygon points="466.4,559.1 473.8,561.2 467.7,555.3 460.3,553.0" fill="#00ff08" stroke="#002601"/><polygon points="626.1,601.6 632.4,596.2 625.5,593.4 619.1,598.6" fill="#0056ff" stroke="#000d26"/><polygon points="499.7,579.6 506.8,580.1 500.6,574.8 493.4,574.1" fill="#00ffd6" stroke="#002620"/><polygon points="546.2,598.8 553.0,597.2 546.6,592.7 539.8,594.2" fill="#006aff" stroke="#001026"/><polygon points="639.5,598.8 645.7,592.8 638.7,590.3 632.4,596.2" fill="#0078ff" stroke="#001226"/><polygon points="686.1,577.2 692.3,568.8 684.9,567.4 678.7,575.6" fill="#00ff9d" stroke="#002618"/><polygon points="532.9,595.1 539.8,594.2 533.4,589.5 526.5,590.2" fill="#0093ff" stroke="#001626"/><polygon points="486.1,572.8 493.4,574.1 487.2,568.5 479.9,567.1" fill="#00ff8b" stroke="#002615"/><polygon points="652.9,595.2 659.1,588.5 652.0,586.3 645.7,592.8" fill="#00a4ff" stroke="#001926"/><polygon points="452.7,550.2 460.3,553.0 454.2,546.8 446.6,543.8" fill="#5cff00" stroke="#0e2600" stroke-width="1.43"/><polygon points="519.4,590.5 526.5,590.2 520.1,585.3 513.1,585.4" fill="#00c6ff" stroke="#001e26"/><polygon points="666.4,590.6 672.6,583.3 665.3,581.4 659.1,588.5" fill="#00dbff" stroke="#002126"/><polygon points="699.7,570.1 705.9,561.1 698.4,560.0 692.3,568.8" fill="#00ff4a" stroke="#00260b"/><polygon points="592.9,608.0 599.5,604.3 592.7,600.8 586.2,604.3" fill="#0021ff" stroke="#000526"/><polygon points="472.5,565.1 479.9,567.1 473.8,561.2 466.4,559.1" fill="#00ff35" stroke="#002608"/><polygon points="606.3,607.7 612.8,603.4 605.9,600.1 599.5,604.3" fill="#0026ff" stroke="#000626"/><polygon points="579.6,607.3 586.2,604.3 579.5,600.5 572.9,603.4" fill="#0026ff" stroke="#000626"/><polygon points="506.0,584.9 513.1,585.4 506.8,580.1 499.7,579.6" fill="#00fffb" stroke="#002626"/><polygon points="619.7,606.5 626.1,601.6 619.1,598.6 612.8,603.4" fill="#0036ff" stroke="#000826"/><polygon points="566.2,605.7 572.9,603.4 566.3,599.3 559.6,601.5" fill="#0036ff" stroke="#000826"/><polygon points="679.9,585.1 686.1,577.2 678.7,575.6 672.6,583.3" fill="#00ffe2" stroke="#002622"/><polygon points="633.1,604.4 639.5,598.8 632.4,596.2 626.1,601.6" fill="#0050ff" stroke="#000c26"/><polygon points="552.8,603.2 559.6,601.5 553.0,597.2 546.2,598.8" fill="#0051ff" stroke="#000c26"/><polygon points="646.6,601.4 652.9,595.2 645.7,592.8 639.5,598.8" fill="#0075ff" stroke="#001226"/><polygon points="539.3,599.8 546.2,598.8 539.8,594.2 532.9,595.1" fill="#0076ff" stroke="#001226"/><polygon points="492.4,578.4 499.7,579.6 493.4,574.1 486.1,572.8" fill="#00ffb3" stroke="#00261b"/><polygon points="458.8,556.4 466.4,559.1 460.3,553.0 452.7,550.2" fill="#2bff00" stroke="#072600" stroke-width="1.42"/><polygon points="693.6,578.6 699.7,570.1 692.3,568.8 686.1,577.2" fill="#00ff96" stroke="#002616"/><polygon points="660.1,597.4 666.4,590.6 659.1,588.5 652.9,595.2" fill="#00a4ff" stroke="#001926"/><polygon points="525.9,595.5 532.9,595.1 526.5,590.2 519.4,590.5" fill="#00a6ff" stroke="#001926"/><polygon points="478.7,571.0 486.1,572.8 479.9,567.1 472.5,565.1" fill="#00ff60" stroke="#00260e"/><polygon points="673.7,592.6 679.9,585.1 672.6,583.3 666.4,590.6" fill="#00deff" stroke="#002126"/><polygon points="512.3,590.2 519.4,590.5 513.1,585.4 506.0,584.9" fill="#00e0ff" stroke="#002226"/><polygon points="599.8,611.5 606.3,607.7 599.5,604.3 592.9,608.0" fill="#0013ff" stroke="#000326"/><polygon points="586.3,611.1 592.9,608.0 586.2,604.3 579.6,607.3" fill="#0015ff" stroke="#000326"/><polygon points="613.2,611.0 619.7,606.5 612.8,603.4 606.3,607.7" fill="#001bff" stroke="#000426"/><polygon points="444.9,546.7 452.7,550.2 446.6,543.8 438.9,540.2" fill="#96ff00" stroke="#172600" stroke-width="1.39"/><polygon points="572.9,609.8 579.6,607.3 572.9,603.4 566.2,605.7" fill="#0022ff" stroke="#000526"/><polygon points="626.7,609.5 633.1,604.4 626.1,601.6 619.7,606.5" fill="#002eff" stroke="#000726"/><polygon points="559.4,607.6 566.2,605.7 559.6,601.5 552.8,603.2" fill="#0039ff" stroke="#000926"/><polygon points="640.2,607.1 646.6,601.4 639.5,598.8 633.1,604.4" fill="#004cff" stroke="#000b26"/><polygon points="687.4,586.7 693.6,578.6 686.1,577.2 679.9,585.1" fill="#00ffdb" stroke="#002621"/><polygon points="498.7,584.0 506.0,584.9 499.7,579.6 492.4,578.4" fill="#00ffd9" stroke="#002621"/><polygon points="465.0,562.6 472.5,565.1 466.4,559.1 458.8,556.4" fill="#00ff03" stroke="#002600" stroke-width="1.42"/><polygon points="545.9,604.5 552.8,603.2 546.2,598.8 539.3,599.8" fill="#005bff" stroke="#000e26"/><polygon points="653.8,603.8 660.1,597.4 652.9,595.2 646.6,601.4" fill="#0074ff" stroke="#001126"/><polygon points="532.4,600.4 539.3,599.8 532.9,595.1 525.9,595.5" fill="#0088ff" stroke="#001426"/><polygon points="485.0,576.8 492.4,578.4 486.1,572.8 478.7,571.0" fill="#00ff8a" stroke="#002615"/><polygon points="667.4,599.5 673.7,592.6 666.4,590.6 660.1,597.4" fill="#00a6ff" stroke="#001926"/><polygon points="451.1,553.1 458.8,556.4 452.7,550.2 444.9,546.7" fill="#65ff00" stroke="#0f2600" stroke-width="1.39"/><polygon points="518.8,595.4 525.9,595.5 519.4,590.5 512.3,590.2" fill="#00bfff" stroke="#001d26"/><polygon points="593.2,614.8 599.8,611.5 592.9,608.0 586.3,611.1" fill="#0006ff" stroke="#000126"/><polygon points="606.7,614.9 613.2,611.0 606.3,607.7 599.8,611.5" fill="#0007ff" stroke="#000126"/><polygon points="579.6,613.8 586.3,611.1 579.6,607.3 572.9,609.8" fill="#000fff" stroke="#000226"/><polygon points="681.2,594.4 687.4,586.7 679.9,585.1 673.7,592.6" fill="#00e3ff" stroke="#002226"/><polygon points="620.3,614.1 626.7,609.5 619.7,606.5 613.2,611.0" fill="#0012ff" stroke="#000326"/><polygon points="566.1,611.9 572.9,609.8 566.2,605.7 559.4,607.6" fill="#0024ff" stroke="#000526"/><polygon points="633.8,612.4 640.2,607.1 633.1,604.4 626.7,609.5" fill="#0028ff" stroke="#000626"/><polygon points="471.2,568.6 478.7,571.0 472.5,565.1 465.0,562.6" fill="#00ff30" stroke="#002607" stroke-width="1.42"/><polygon points="505.1,589.4 512.3,590.2 506.0,584.9 498.7,584.0" fill="#00fffd" stroke="#002626"/><polygon points="552.5,609.0 559.4,607.6 552.8,603.2 545.9,604.5" fill="#0042ff" stroke="#000a26"/><polygon points="647.5,609.7 653.8,603.8 646.6,601.4 640.2,607.1" fill="#0049ff" stroke="#000b26"/><polygon points="538.9,605.2 545.9,604.5 539.3,599.8 532.4,600.4" fill="#006cff" stroke="#001026"/><polygon points="661.1,606.1 667.4,599.5 660.1,597.4 653.8,603.8" fill="#0074ff" stroke="#001126"/><polygon points="491.3,582.4 498.7,584.0 492.4,578.4 485.0,576.8" fill="#00ffb1" stroke="#00261b"/><polygon points="457.2,559.4 465.0,562.6 458.8,556.4 451.1,553.1" fill="#35ff00" stroke="#082600" stroke-width="1.38"/><polygon points="525.3,600.4 532.4,600.4 525.9,595.5 518.8,595.4" fill="#00a0ff" stroke="#001826"/><polygon points="674.9,601.5 681.2,594.4 673.7,592.6 667.4,599.5" fill="#00aaff" stroke="#001a26"/><polygon points="600.1,618.4 606.7,614.9 599.8,611.5 593.2,614.8" fill="#0000ff" stroke="#000026"/><polygon points="613.7,618.3 620.3,614.1 613.2,611.0 606.7,614.9" fill="#0000ff" stroke="#000026"/><polygon points="586.5,617.7 593.2,614.8 586.3,611.1 579.6,613.8" fill="#0000ff" stroke="#000026"/><polygon points="477.5,574.5 485.0,576.8 478.7,571.0 471.2,568.6" fill="#00ff5a" stroke="#00260e" stroke-width="1.42"/><polygon points="627.4,617.2 633.8,612.4 626.7,609.5 620.3,614.1" fill="#000bff" stroke="#000226"/><polygon points="511.5,594.7 518.8,595.4 512.3,590.2 505.1,589.4" fill="#00deff" stroke="#002126"/><polygon points="572.9,616.0 579.6,613.8 572.9,609.8 566.1,611.9" fill="#0010ff" stroke="#000226"/><polygon points="641.1,615.1 647.5,609.7 640.2,607.1 633.8,612.4" fill="#0025ff" stroke="#000526"/><polygon points="559.2,613.4 566.1,611.9 559.4,607.6 552.5,609.0" fill="#002bff" stroke="#000726"/><polygon points="654.8,612.1 661.1,606.1 653.8,603.8 647.5,609.7" fill="#0048ff" stroke="#000b26"/><polygon points="545.6,609.8 552.5,609.0 545.9,604.5 538.9,605.2" fill="#0052ff" stroke="#000c26"/><polygon points="497.7,588.0 505.1,589.4 498.7,584.0 491.3,582.4" fill="#00ffd7" stroke="#002620"/><polygon points="463.5,565.6 471.2,568.6 465.0,562.6 457.2,559.4" fill="#07ff00" stroke="#012600" stroke-width="1.38"/><polygon points="668.6,608.2 674.9,601.5 667.4,599.5 661.1,606.1" fill="#0077ff" stroke="#001226"/><polygon points="531.8,605.3 538.9,605.2 532.4,600.4 525.3,600.4" fill="#0082ff" stroke="#001426"/><polygon points="483.8,580.4 491.3,582.4 485.0,576.8 477.5,574.5" fill="#00ff83" stroke="#002614" stroke-width="1.41"/><polygon points="518.0,599.9 525.3,600.4 518.8,595.4 511.5,594.7" fill="#00beff" stroke="#001c26"/><polygon points="607.1,621.9 613.7,618.3 606.7,614.9 600.1,618.4" fill="#0000ff" stroke="#000026"/><polygon points="593.4,621.4 600.1,618.4 593.2,614.8 586.5,617.7" fill="#0000ff" stroke="#000026"/><polygon points="620.9,621.4 627.4,617.2 620.3,614.1 613.7,618.3" fill="#0000ff" stroke="#000026"/><polygon points="579.7,620.0 586.5,617.7 579.6,613.8 572.9,616.0" fill="#0000ff" stroke="#000026"/><polygon points="634.6,620.1 641.1,615.1 633.8,612.4 627.4,617.2" fill="#0006ff" stroke="#000126"/><polygon points="566.0,617.7 572.9,616.0 566.1,611.9 559.2,613.4" fill="#0016ff" stroke="#000326"/><polygon points="648.4,617.7 654.8,612.1 647.5,609.7 641.1,615.1" fill="#0023ff" stroke="#000526"/><polygon points="504.2,593.5 511.5,594.7 505.1,589.4 497.7,588.0" fill="#00fffa" stroke="#002626"/><polygon points="469.8,571.7 477.5,574.5 471.2,568.6 463.5,565.6" fill="#00ff25" stroke="#002606" stroke-width="1.37"/><polygon points="552.3,614.4 559.2,613.4 552.5,609.0 545.6,609.8" fill="#0039ff" stroke="#000926"/><polygon points="662.2,614.4 668.6,608.2 661.1,606.1 654.8,612.1" fill="#004aff" stroke="#000b26"/><polygon points="538.5,610.2 545.6,609.8 538.9,605.2 531.8,605.3" fill="#0067ff" stroke="#000f26"/><polygon points="490.2,586.1 497.7,588.0 491.3,582.4 483.8,580.4" fill="#00ffaa" stroke="#00261a" stroke-width="1.41"/><polygon points="524.6,605.0 531.8,605.3 525.3,600.4 518.0,599.9" fill="#009fff" stroke="#001826"/><polygon points="614.3,625.3 620.9,621.4 613.7,618.3 607.1,621.9" fill="#0000ff" stroke="#000026"/><polygon points="600.5,625.1 607.1,621.9 600.1,618.4 593.4,621.4" fill="#0000ff" stroke="#000026"/><polygon points="628.1,624.5 634.6,620.1 627.4,617.2 620.9,621.4" fill="#0000ff" stroke="#000026"/><polygon points="586.7,623.9 593.4,621.4 586.5,617.7 579.7,620.0" fill="#0000ff" stroke="#000026"/><polygon points="641.9,622.8 648.4,617.7 641.1,615.1 634.6,620.1" fill="#0003ff" stroke="#000026"/><polygon points="572.9,621.9 579.7,620.0 572.9,616.0 566.0,617.7" fill="#0003ff" stroke="#000026"/><polygon points="476.1,577.7 483.8,580.4 477.5,574.5 469.8,571.7" fill="#00ff4f" stroke="#00260c" stroke-width="1.37"/><polygon points="510.7,598.8 518.0,599.9 511.5,594.7 504.2,593.5" fill="#00e2ff" stroke="#002226"/><polygon points="655.8,620.2 662.2,614.4 654.8,612.1 648.4,617.7" fill="#0023ff" stroke="#000526"/><polygon points="559.1,618.9 566.0,617.7 559.2,613.4 552.3,614.4" fill="#0023ff" stroke="#000526"/><polygon points="545.2,614.9 552.3,614.4 545.6,609.8 538.5,610.2" fill="#004dff" stroke="#000c26"/><polygon points="496.7,591.7 504.2,593.5 497.7,588.0 490.2,586.1" fill="#00ffcf" stroke="#00261f" stroke-width="1.41"/><polygon points="531.3,610.0 538.5,610.2 531.8,605.3 524.6,605.0" fill="#0082ff" stroke="#001426"/><polygon points="607.6,628.6 614.3,625.3 607.1,621.9 600.5,625.1" fill="#0000ff" stroke="#000026"/><polygon points="621.5,628.5 628.1,624.5 620.9,621.4 614.3,625.3" fill="#0000ff" stroke="#000026"/><polygon points="593.7,627.7 600.5,625.1 593.4,621.4 586.7,623.9" fill="#0000ff" stroke="#000026"/><polygon points="482.6,583.5 490.2,586.1 483.8,580.4 476.1,577.7" fill="#00ff77" stroke="#002612" stroke-width="1.37"/><polygon points="635.4,627.4 641.9,622.8 634.6,620.1 628.1,624.5" fill="#0000ff" stroke="#000026"/><polygon points="517.3,604.1 524.6,605.0 518.0,599.9 510.7,598.8" fill="#00c2ff" stroke="#001d26"/><polygon points="579.8,625.9 586.7,623.9 579.7,620.0 572.9,621.9" fill="#0000ff" stroke="#000026"/><polygon points="649.3,625.5 655.8,620.2 648.4,617.7 641.9,622.8" fill="#0002ff" stroke="#000026"/><polygon points="565.9,623.2 572.9,621.9 566.0,617.7 559.1,618.9" fill="#000fff" stroke="#000226"/><polygon points="552.0,619.5 559.1,618.9 552.3,614.4 545.2,614.9" fill="#0036ff" stroke="#000826"/><polygon points="503.2,597.2 510.7,598.8 504.2,593.5 496.7,591.7" fill="#00fff2" stroke="#002624" stroke-width="1.41"/><polygon points="538.0,614.8 545.2,614.9 538.5,610.2 531.3,610.0" fill="#0067ff" stroke="#001026"/><polygon points="489.0,589.3 496.7,591.7 490.2,586.1 482.6,583.5" fill="#00ff9e" stroke="#002618" stroke-width="1.37"/><polygon points="614.8,632.0 621.5,628.5 614.3,625.3 607.6,628.6" fill="#0000ff" stroke="#000026"/><polygon points="523.9,609.2 531.3,610.0 524.6,605.0 517.3,604.1" fill="#00a4ff" stroke="#001926"/><polygon points="600.8,631.4 607.6,628.6 600.5,625.1 593.7,627.7" fill="#0000ff" stroke="#000026"/><polygon points="628.8,631.6 635.4,627.4 628.1,624.5 621.5,628.5" fill="#0000ff" stroke="#000026"/><polygon points="586.9,629.9 593.7,627.7 586.7,623.9 579.8,625.9" fill="#0000ff" stroke="#000026"/><polygon points="642.8,630.2 649.3,625.5 641.9,622.8 635.4,627.4" fill="#0000ff" stroke="#000026"/><polygon points="572.9,627.4 579.8,625.9 572.9,621.9 565.9,623.2" fill="#0000ff" stroke="#000026"/><polygon points="509.8,602.6 517.3,604.1 510.7,598.8 503.2,597.2" fill="#00ebff" stroke="#002326" stroke-width="1.41"/><polygon points="558.9,624.0 565.9,623.2 559.1,618.9 552.0,619.5" fill="#0020ff" stroke="#000526"/><polygon points="544.8,619.6 552.0,619.5 545.2,614.9 538.0,614.8" fill="#004eff" stroke="#000c26"/><polygon points="495.6,595.0 503.2,597.2 496.7,591.7 489.0,589.3" fill="#00ffc2" stroke="#00261d" stroke-width="1.36"/><polygon points="530.7,614.2 538.0,614.8 531.3,610.0 523.9,609.2" fill="#0088ff" stroke="#001426"/><polygon points="622.1,635.2 628.8,631.6 621.5,628.5 614.8,632.0" fill="#0000ff" stroke="#000026"/><polygon points="608.1,634.9 614.8,632.0 607.6,628.6 600.8,631.4" fill="#0000ff" stroke="#000026"/><polygon points="636.2,634.5 642.8,630.2 635.4,627.4 628.8,631.6" fill="#0000ff" stroke="#000026"/><polygon points="594.0,633.7 600.8,631.4 593.7,627.7 586.9,629.9" fill="#0000ff" stroke="#000026"/><polygon points="579.9,631.5 586.9,629.9 579.8,625.9 572.9,627.4" fill="#0000ff" stroke="#000026"/><polygon points="516.5,607.9 523.9,609.2 517.3,604.1 509.8,602.6" fill="#00cbff" stroke="#001e26" stroke-width="1.41"/><polygon points="565.8,628.3 572.9,627.4 565.9,623.2 558.9,624.0" fill="#000cff" stroke="#000226"/><polygon points="551.7,624.2 558.9,624.0 552.0,619.5 544.8,619.6" fill="#0037ff" stroke="#000826"/><polygon points="502.2,600.5 509.8,602.6 503.2,597.2 495.6,595.0" fill="#00ffe5" stroke="#002622" stroke-width="1.36"/><polygon points="537.5,619.1 544.8,619.6 538.0,614.8 530.7,614.2" fill="#006dff" stroke="#001026"/><polygon points="615.4,638.3 622.1,635.2 614.8,632.0 608.1,634.9" fill="#0000ff" stroke="#000026"/><polygon points="629.5,638.3 636.2,634.5 628.8,631.6 622.1,635.2" fill="#0000ff" stroke="#000026"/><polygon points="601.2,637.4 608.1,634.9 600.8,631.4 594.0,633.7" fill="#0000ff" stroke="#000026"/><polygon points="523.3,613.0 530.7,614.2 523.9,609.2 516.5,607.9" fill="#00aeff" stroke="#001a26" stroke-width="1.41"/><polygon points="587.1,635.5 594.0,633.7 586.9,629.9 579.9,631.5" fill="#0000ff" stroke="#000026"/><polygon points="572.9,632.6 579.9,631.5 572.9,627.4 565.8,628.3" fill="#0000ff" stroke="#000026"/><polygon points="558.7,628.7 565.8,628.3 558.9,624.0 551.7,624.2" fill="#0022ff" stroke="#000526"/><polygon points="508.9,605.9 516.5,607.9 509.8,602.6 502.2,600.5" fill="#00f9ff" stroke="#002526" stroke-width="1.36"/><polygon points="544.4,623.9 551.7,624.2 544.8,619.6 537.5,619.1" fill="#0055ff" stroke="#000d26"/><polygon points="622.8,641.6 629.5,638.3 622.1,635.2 615.4,638.3" fill="#0000ff" stroke="#000026"/><polygon points="608.5,641.0 615.4,638.3 608.1,634.9 601.2,637.4" fill="#0000ff" stroke="#000026"/><polygon points="530.1,618.1 537.5,619.1 530.7,614.2 523.3,613.0" fill="#0092ff" stroke="#001626" stroke-width="1.41"/><polygon points="594.3,639.3 601.2,637.4 594.0,633.7 587.1,635.5" fill="#0000ff" stroke="#000026"/><polygon points="580.0,636.7 587.1,635.5 579.9,631.5 572.9,632.6" fill="#0000ff" stroke="#000026"/><polygon points="515.7,611.3 523.3,613.0 516.5,607.9 508.9,605.9" fill="#00daff" stroke="#002126" stroke-width="1.36"/><polygon points="565.7,633.1 572.9,632.6 565.8,628.3 558.7,628.7" fill="#000fff" stroke="#000226"/><polygon points="551.4,628.6 558.7,628.7 551.7,624.2 544.4,623.9" fill="#003eff" stroke="#000926"/><polygon points="537.0,623.0 544.4,623.9 537.5,619.1 530.1,618.1" fill="#0079ff" stroke="#001226" stroke-width="1.41"/><polygon points="616.0,644.4 622.8,641.6 615.4,638.3 608.5,641.0" fill="#0000ff" stroke="#000026"/><polygon points="601.6,643.1 608.5,641.0 601.2,637.4 594.3,639.3" fill="#0000ff" stroke="#000026"/><polygon points="587.3,640.7 594.3,639.3 587.1,635.5 580.0,636.7" fill="#0000ff" stroke="#000026"/><polygon points="522.5,616.5 530.1,618.1 523.3,613.0 515.7,611.3" fill="#00bdff" stroke="#001c26" stroke-width="1.36"/><polygon points="572.9,637.4 580.0,636.7 572.9,632.6 565.7,633.1" fill="#0000ff" stroke="#000026"/><polygon points="558.5,633.1 565.7,633.1 558.7,628.7 551.4,628.6" fill="#002aff" stroke="#000626"/><polygon points="544.0,627.9 551.4,628.6 544.4,623.9 537.0,623.0" fill="#0061ff" stroke="#000f26" stroke-width="1.41"/><polygon points="609.0,646.7 616.0,644.4 608.5,641.0 601.6,643.1" fill="#0000ff" stroke="#000026"/><polygon points="594.6,644.6 601.6,643.1 594.3,639.3 587.3,640.7" fill="#0000ff" stroke="#000026"/><polygon points="529.5,621.6 537.0,623.0 530.1,618.1 522.5,616.5" fill="#00a2ff" stroke="#001826" stroke-width="1.36"/><polygon points="580.1,641.6 587.3,640.7 580.0,636.7 572.9,637.4" fill="#0000ff" stroke="#000026"/><polygon points="565.6,637.6 572.9,637.4 565.7,633.1 558.5,633.1" fill="#0017ff" stroke="#000326"/><polygon points="551.1,632.6 558.5,633.1 551.4,628.6 544.0,627.9" fill="#004bff" stroke="#000b26" stroke-width="1.42"/><polygon points="536.5,626.6 544.0,627.9 537.0,623.0 529.5,621.6" fill="#0089ff" stroke="#001526" stroke-width="1.36"/><polygon points="602.0,648.4 609.0,646.7 601.6,643.1 594.6,644.6" fill="#0000ff" stroke="#000026"/><polygon points="587.5,645.6 594.6,644.6 587.3,640.7 580.1,641.6" fill="#0000ff" stroke="#000026"/><polygon points="572.9,641.9 580.1,641.6 572.9,637.4 565.6,637.6" fill="#0006ff" stroke="#000126"/><polygon points="558.3,637.2 565.6,637.6 558.5,633.1 551.1,632.6" fill="#0037ff" stroke="#000826" stroke-width="1.42"/><polygon points="543.6,631.4 551.1,632.6 544.0,627.9 536.5,626.6" fill="#0072ff" stroke="#001126" stroke-width="1.36"/><polygon points="594.9,649.6 602.0,648.4 594.6,644.6 587.5,645.6" fill="#0000ff" stroke="#000026"/><polygon points="580.2,646.1 587.5,645.6 580.1,641.6 572.9,641.9" fill="#0000ff" stroke="#000026"/><polygon points="565.5,641.6 572.9,641.9 565.6,637.6 558.3,637.2" fill="#0025ff" stroke="#000626" stroke-width="1.42"/><polygon points="550.8,636.2 558.3,637.2 551.1,632.6 543.6,631.4" fill="#005dff" stroke="#000e26" stroke-width="1.36"/><polygon points="587.7,650.2 594.9,649.6 587.5,645.6 580.2,646.1" fill="#0000ff" stroke="#000026"/><polygon points="572.9,646.0 580.2,646.1 572.9,641.9 565.5,641.6" fill="#0015ff" stroke="#000326" stroke-width="1.43"/><polygon points="558.0,640.8 565.5,641.6 558.3,637.2 550.8,636.2" fill="#0049ff" stroke="#000b26" stroke-width="1.36"/><polygon points="580.4,650.2 587.7,650.2 580.2,646.1 572.9,646.0" fill="#0006ff" stroke="#000126" stroke-width="1.43"/><polygon points="565.4,645.3 572.9,646.0 565.5,641.6 558.0,640.8" fill="#0038ff" stroke="#000826" stroke-width="1.36"/><polygon points="572.9,649.7 580.4,650.2 572.9,646.0 565.4,645.3" fill="#0028ff" stroke="#000626" stroke-width="1.37"/></g>
<circle cx="437.9" cy="518.9" r="2.9" fill="#a80000" stroke="#2a0000" stroke-width="0.9"/><circle cx="705.0" cy="580.9" r="2.9" fill="#f7b5b9" stroke="#2a0000" stroke-width="0.9"/><circle cx="572.9" cy="597.4" r="2.9" fill="#a80000" stroke="#2a0000" stroke-width="0.9"/><circle cx="572.9" cy="635.5" r="2.9" fill="#a80000" stroke="#2a0000" stroke-width="0.9"/>
<g font-family="Liberation Sans, sans-serif" font-size="8" fill="#5a5a5a"><text x="438.3" y="621.4" text-anchor="end" font-size="7.4">0</text><text x="437.2" y="599.6" text-anchor="end" font-size="7.4">2</text><text x="436.2" y="577.8" text-anchor="end" font-size="7.4">4</text><text x="435.2" y="556.0" text-anchor="end" font-size="7.4">6</text><text x="434.2" y="534.2" text-anchor="end" font-size="7.4">8</text><text x="433.2" y="512.3" text-anchor="end" font-size="7.4">10</text><text x="432.2" y="490.5" text-anchor="end" font-size="7.4">12</text><text x="576.4" y="733.6" text-anchor="start" font-size="7.6">2</text><text x="597.8" y="723.7" text-anchor="start" font-size="7.6">3</text><text x="619.1" y="713.7" text-anchor="start" font-size="7.6">4</text><text x="640.5" y="703.8" text-anchor="start" font-size="7.6">5</text><text x="661.8" y="693.9" text-anchor="start" font-size="7.6">6</text><text x="683.2" y="683.9" text-anchor="start" font-size="7.6">7</text><text x="704.5" y="674.0" text-anchor="start" font-size="7.6">8</text><text x="569.4" y="733.6" text-anchor="end" font-size="7.6">4</text><text x="537.3" y="718.7" text-anchor="end" font-size="7.6">7</text><text x="505.3" y="703.8" text-anchor="end" font-size="7.6">10</text><text x="473.2" y="688.9" text-anchor="end" font-size="7.6">13</text><text x="441.2" y="674.0" text-anchor="end" font-size="7.6">16</text><text x="651.9" y="719.8" text-anchor="start" font-size="9">A: Acacia gum (g)</text><text x="494.9" y="719.8" text-anchor="end" font-size="9">B: Alginic acid (g)</text><text transform="translate(398.5,582.0) rotate(-90) scale(1.000,1)" text-anchor="middle" font-size="9" fill="#666">Dispersing time (s)</text></g>
<path d="M443.0,987.2L573.1,944.7L703.3,987.1M441.5,954.4L573.1,915.4L704.8,954.4M440.0,921.7L573.1,886.0L706.3,921.7M438.5,889.0L573.1,856.7L707.8,889.0M436.9,856.2L573.1,827.4L709.4,856.2M443.0,987.2L436.9,856.2M464.7,980.1L459.6,851.4M486.4,973.0L482.3,846.6M508.1,965.9L505.0,841.8M529.8,958.9L527.7,837.0M551.5,951.8L550.4,832.2M573.1,944.7L573.1,827.4M703.3,987.1L709.4,856.2M670.7,976.5L675.3,849.0M638.2,965.9L641.2,841.8M605.7,955.3L607.2,834.6M573.1,944.7L573.1,827.4M443.0,987.2L445.0,1028.7M573.1,944.7L573.1,982.3M703.3,987.1L701.3,1028.7" stroke="#262626" stroke-width="1.5" fill="none" stroke-linecap="round"/>
<polygon points="445.0,1028.7 573.1,982.3 701.3,1028.7 573.2,1088.4" fill="#505050"/>
<polyline points="600.7,1071.1 602.8,1070.4 605.3,1069.5 607.6,1068.5 609.8,1067.4 611.8,1066.3 613.2,1065.4 614.6,1064.5 616.3,1063.2 617.3,1062.4 618.6,1061.3 619.8,1060.3 620.7,1059.3 621.5,1058.4 622.5,1057.2 623.0,1056.4 623.8,1055.3 624.5,1054.2 624.9,1053.5 625.4,1052.5 625.9,1051.2 626.2,1050.3 626.5,1049.5 626.7,1048.7 626.9,1047.7 627.1,1046.7 627.2,1045.6 627.3,1044.6 627.3,1043.6 627.3,1042.7 627.2,1041.7 627.1,1040.8 626.9,1039.9 626.7,1039.0 626.5,1038.1 626.2,1037.3 625.9,1036.5 625.6,1035.6 625.3,1034.8 624.8,1033.9 624.2,1032.8 623.6,1031.8 623.1,1031.1 622.6,1030.4 621.9,1029.4 621.0,1028.3 620.4,1027.7 619.7,1026.9 618.6,1025.7 617.9,1025.1 616.7,1024.1 615.8,1023.3 614.8,1022.5 613.6,1021.6 612.3,1020.7 611.2,1020.0 609.5,1019.0 608.6,1018.5 606.8,1017.5 604.9,1016.6 603.0,1015.7 601.0,1014.8 598.8,1014.0 596.6,1013.3 594.3,1012.5 591.9,1011.9 590.2,1011.4 588.1,1011.0 585.6,1010.5 583.9,1010.2 582.1,1009.9 579.4,1009.5 577.8,1009.4 576.1,1009.2 573.9,1009.1 571.6,1009.0 569.5,1009.0 567.5,1009.0 565.6,1009.0 563.7,1009.1 561.8,1009.2 559.1,1009.5 557.2,1009.7 555.7,1009.9 552.8,1010.4 551.5,1010.7 548.8,1011.3 547.2,1011.7 545.2,1012.3 542.9,1013.0 540.7,1013.8 538.6,1014.6 536.6,1015.5 534.8,1016.4 533.8,1016.9 532.1,1017.9 530.6,1018.8 529.6,1019.5 528.1,1020.6 527.4,1021.2 526.2,1022.1 525.3,1022.9 524.6,1023.5 523.4,1024.8 522.8,1025.5 522.3,1026.1 521.4,1027.2 520.7,1028.2 520.3,1028.9 519.8,1029.7 519.3,1030.5 518.8,1031.6 518.4,1032.6 518.0,1033.5 517.8,1034.4 517.5,1035.2 517.3,1036.1 517.2,1037.0 517.0,1037.9 517.0,1038.8 516.9,1039.7 516.9,1040.7 517.0,1041.7 517.1,1042.6 517.2,1043.4 517.3,1044.2 517.5,1045.0 517.8,1046.0 518.2,1047.2 518.6,1048.2 518.9,1049.0 519.3,1049.7 520.0,1051.0 520.5,1052.0 521.0,1052.7 521.9,1054.0 522.6,1054.9 523.2,1055.6 524.4,1056.9 525.1,1057.6 526.4,1058.9 527.2,1059.6 528.7,1060.9 529.9,1061.8 531.2,1062.7 533.0,1063.9 534.9,1065.1 535.9,1065.7 538.0,1066.8 540.2,1067.8 542.6,1068.8 544.9,1069.8 546.3,1070.3 549.0,1071.1 551.8,1072.0 553.3,1072.4 556.4,1073.1 558.1,1073.4 561.1,1073.9 563.3,1074.2 565.1,1074.5 567.5,1074.7 570.3,1074.9 572.9,1075.0 575.3,1075.0 577.6,1075.0 579.8,1074.9 581.9,1074.8 583.9,1074.6 586.9,1074.3 589.4,1073.9 591.1,1073.6 594.3,1072.9 595.9,1072.6 598.8,1071.8 600.7,1071.1 600.7,1071.1" fill="none" stroke="#ff5f00" stroke-width="2.9" stroke-linejoin="round"/>
<polyline points="650.0,1052.6 650.2,1051.4 650.4,1050.3 650.5,1049.3 650.5,1048.4 650.6,1047.5 650.6,1046.6 650.5,1045.7 650.5,1044.8 650.4,1043.9 650.3,1043.0 650.1,1042.1 649.9,1041.2 649.7,1040.2 649.4,1039.3 649.2,1038.3 648.8,1037.3 648.5,1036.3 648.1,1035.3 647.7,1034.5 647.3,1033.7 646.9,1032.9 646.5,1032.2 646.0,1031.2 645.3,1030.2 644.7,1029.2 644.2,1028.5 643.7,1027.7 643.0,1026.8 642.1,1025.7 641.5,1025.0 640.9,1024.3 640.0,1023.3 639.1,1022.4 638.5,1021.8 637.4,1020.7 636.5,1019.9 635.8,1019.3 634.4,1018.1 633.7,1017.6 632.3,1016.5 631.5,1015.9 630.0,1014.8 629.2,1014.3 627.6,1013.2 626.8,1012.7 625.1,1011.7 623.8,1011.0 622.5,1010.3 620.7,1009.3 618.8,1008.4 617.9,1008.0 616.0,1007.1 614.0,1006.3 612.0,1005.5 609.9,1004.7 607.7,1003.9 605.5,1003.2 603.3,1002.5 602.1,1002.2 599.8,1001.6 597.3,1001.0 596.1,1000.7 593.5,1000.1 591.7,999.8 589.4,999.4 588.0,999.1 585.2,998.7 583.7,998.5 581.9,998.3 579.2,998.1 577.4,997.9 575.7,997.8 574.0,997.7 572.1,997.7 570.0,997.6 568.0,997.6 566.1,997.6 564.2,997.6 562.1,997.7 559.8,997.8 557.3,998.0 555.7,998.2 554.1,998.3 551.8,998.6 549.7,998.9 548.2,999.1 545.5,999.6 544.1,999.9 541.6,1000.4 540.1,1000.7 537.8,1001.3 535.5,1001.9 533.2,1002.6 531.1,1003.3 529.9,1003.7 527.8,1004.5 526.5,1005.0 524.8,1005.7 522.9,1006.6 521.0,1007.4 519.2,1008.4 518.3,1008.8 516.5,1009.8 514.9,1010.8 514.1,1011.3 512.5,1012.3 511.7,1012.9 510.2,1014.0 509.5,1014.5 508.2,1015.5 507.4,1016.3 506.6,1016.9 505.4,1018.1 504.7,1018.7 504.0,1019.4 502.9,1020.6 502.4,1021.2 501.8,1021.9 501.0,1022.9 500.2,1023.9 499.7,1024.7 499.3,1025.4 498.8,1026.1 498.2,1027.2 497.6,1028.2 497.2,1029.1 496.8,1029.9 496.4,1030.7 496.1,1031.5 495.8,1032.3 495.5,1033.1 495.3,1034.0 495.0,1034.9 494.8,1035.9 494.6,1036.8 494.5,1037.7 494.3,1038.6 494.3,1039.4 494.2,1040.4 494.2,1041.3 494.2,1042.4 494.2,1043.4 494.3,1044.4 494.4,1045.4 494.5,1046.3 494.6,1047.1 494.8,1047.9 495.0,1048.9 495.3,1050.1 495.7,1051.1 496.0,1051.9 496.2,1052.5" fill="none" stroke="#fff000" stroke-width="2.9" stroke-linejoin="round"/>
<polyline points="668.3,1044.1 668.1,1043.1 667.9,1042.2 667.6,1041.3 667.4,1040.4 667.1,1039.5 666.8,1038.6 666.5,1037.8 666.2,1036.9 665.9,1036.1 665.5,1035.3 665.1,1034.4 664.6,1033.4 664.1,1032.4 663.6,1031.4 663.1,1030.5 662.6,1029.8 662.1,1029.0 661.6,1028.2 660.9,1027.2 660.1,1026.1 659.6,1025.4 659.1,1024.7 658.4,1023.8 657.4,1022.7 656.8,1022.0 656.2,1021.4 655.3,1020.3 654.4,1019.4 653.7,1018.8 652.8,1017.9 651.8,1017.0 651.1,1016.4 649.8,1015.3 649.0,1014.6 648.2,1013.9 646.9,1012.9 646.1,1012.3 644.6,1011.2 643.9,1010.7 642.3,1009.7 641.5,1009.1 639.9,1008.1 639.1,1007.6 637.4,1006.6 635.8,1005.7 634.9,1005.2 633.1,1004.2 631.4,1003.3 631.4,1003.3" fill="none" stroke="#71ff00" stroke-width="2.9" stroke-linejoin="round"/>
<polyline points="604.9,993.8 603.2,993.3 600.7,992.8 599.5,992.5 596.9,992.0 595.4,991.7 592.9,991.3 591.6,991.1 588.7,990.7 587.3,990.5 585.6,990.3 582.8,990.0 581.3,989.8 579.7,989.7 577.8,989.6 575.5,989.4 573.3,989.3 571.2,989.3 569.4,989.2 567.5,989.2 565.5,989.2 563.5,989.2 561.6,989.3 559.9,989.4 558.2,989.5 556.5,989.6 554.5,989.7 551.9,989.9 551.9,989.9" fill="none" stroke="#71ff00" stroke-width="2.9" stroke-linejoin="round"/>
<polyline points="494.3,1010.8 493.0,1011.9 492.3,1012.5 491.3,1013.4 490.3,1014.3 489.7,1014.9 488.8,1015.8 487.9,1016.8 487.3,1017.4 486.7,1018.1 485.8,1019.2 485.1,1020.1 484.5,1020.8 484.0,1021.5 483.4,1022.4 482.7,1023.5 482.1,1024.3 481.7,1025.1 481.2,1025.8 480.8,1026.6 480.4,1027.5 479.9,1028.4 479.5,1029.4 479.1,1030.3 478.7,1031.3 478.4,1032.2 478.1,1033.1 477.8,1033.9 477.6,1034.8 477.3,1035.7 477.1,1036.6 477.0,1037.5 476.8,1038.4 476.7,1039.4 476.6,1040.3 476.5,1041.2 476.4,1042.1 476.4,1042.9 476.4,1043.3" fill="none" stroke="#71ff00" stroke-width="2.9" stroke-linejoin="round"/>
<polyline points="680.9,1038.2 680.5,1037.4 680.2,1036.5 679.8,1035.7 679.4,1034.8 679.0,1033.9 678.5,1032.9 678.0,1031.9 677.4,1030.9 676.9,1030.1 676.4,1029.3 676.0,1028.6 675.5,1027.8 674.8,1026.8 674.0,1025.7 673.4,1024.9 672.9,1024.2 672.3,1023.5 671.5,1022.5 670.6,1021.5 670.1,1020.8 669.5,1020.1 668.5,1019.1 667.6,1018.2 667.0,1017.6 666.1,1016.7 665.1,1015.7 664.9,1015.5" fill="none" stroke="#00ff0d" stroke-width="2.9" stroke-linejoin="round"/>
<polyline points="574.9,982.9 572.7,982.8 571.7,982.8" fill="none" stroke="#00ff0d" stroke-width="2.9" stroke-linejoin="round"/>
<polyline points="471.4,1019.1 470.6,1020.2 470.1,1020.9 469.6,1021.6 469.1,1022.3 468.6,1023.2 468.0,1024.2 467.4,1025.2 466.9,1026.1 466.5,1026.9 466.2,1027.7 465.8,1028.5 465.4,1029.3 465.1,1030.1 464.7,1030.9 464.4,1031.8 464.1,1032.7 463.8,1033.6 463.5,1034.6 463.3,1035.5 463.0,1036.4 462.9,1037.0" fill="none" stroke="#00ff0d" stroke-width="2.9" stroke-linejoin="round"/>
<polyline points="692.0,1033.0 691.6,1032.2 691.0,1031.2 690.4,1030.2 689.8,1029.2 689.3,1028.3 688.8,1027.6 688.3,1026.8 687.8,1026.1 687.0,1025.0 686.2,1024.0 685.6,1023.2 685.4,1022.9" fill="none" stroke="#00ff7a" stroke-width="2.9" stroke-linejoin="round"/>
<polyline points="453.8,1025.5 453.3,1026.5 452.8,1027.4 452.4,1028.2 452.1,1029.0 451.7,1029.8 451.4,1030.7 451.0,1031.5 451.0,1031.5" fill="none" stroke="#00ff7a" stroke-width="2.9" stroke-linejoin="round"/>
<polygon points="445.0,1028.7 573.1,982.3 701.3,1028.7 573.2,1088.4" fill="none" stroke="#0a0a0a" stroke-width="2" stroke-linejoin="round"/>
<rect x="592.9" y="1076.8" width="3.2" height="3.2" fill="#000"/><rect x="614.3" y="1066.9" width="3.2" height="3.2" fill="#000"/><rect x="635.7" y="1056.9" width="3.2" height="3.2" fill="#000"/><rect x="657.0" y="1047.0" width="3.2" height="3.2" fill="#000"/><rect x="678.4" y="1037.0" width="3.2" height="3.2" fill="#000"/><rect x="539.5" y="1071.8" width="3.2" height="3.2" fill="#000"/><rect x="507.5" y="1056.9" width="3.2" height="3.2" fill="#000"/><rect x="475.4" y="1042.0" width="3.2" height="3.2" fill="#000"/><circle cx="443.0" cy="987.2" r="1.3" fill="#000"/><circle cx="441.5" cy="954.4" r="1.3" fill="#000"/><circle cx="440.0" cy="921.7" r="1.3" fill="#000"/><circle cx="438.5" cy="889.0" r="1.3" fill="#000"/><circle cx="436.9" cy="856.2" r="1.3" fill="#000"/><circle cx="445.0" cy="1028.7" r="1.6" fill="#000"/><circle cx="573.2" cy="1088.4" r="1.6" fill="#000"/><circle cx="701.3" cy="1028.7" r="1.6" fill="#000"/>
<g stroke-width="1.45" stroke-linejoin="round"><polygon points="573.1,883.1 579.1,885.2 573.1,886.6 567.2,884.6" fill="#51ff00" stroke="#0c2600" stroke-width="1.18"/><polygon points="579.2,882.0 585.1,884.3 579.1,885.2 573.1,883.1" fill="#71ff00" stroke="#112600" stroke-width="1.15"/><polygon points="567.1,881.3 573.1,883.1 567.2,884.6 561.2,883.0" fill="#79ff00" stroke="#122600" stroke-width="1.14"/><polygon points="585.3,881.3 591.2,883.8 585.1,884.3 579.2,882.0" fill="#8dff00" stroke="#152600" stroke-width="1.11"/><polygon points="573.1,880.1 579.2,882.0 573.1,883.1 567.1,881.3" fill="#9aff00" stroke="#172600" stroke-width="1.10"/><polygon points="561.0,880.1 567.1,881.3 561.2,883.0 555.1,881.9" fill="#9bff00" stroke="#172600" stroke-width="1.10"/><polygon points="591.4,881.0 597.3,883.7 591.2,883.8 585.3,881.3" fill="#a3ff00" stroke="#182600" stroke-width="1.07"/><polygon points="579.2,879.2 585.3,881.3 579.2,882.0 573.1,880.1" fill="#b7ff00" stroke="#1c2600" stroke-width="1.06"/><polygon points="554.8,879.3 561.0,880.1 555.1,881.9 548.9,881.3" fill="#b8ff00" stroke="#1c2600" stroke-width="1.05"/><polygon points="567.0,878.6 573.1,880.1 567.1,881.3 561.0,880.1" fill="#beff00" stroke="#1d2600" stroke-width="1.05"/><polygon points="597.7,881.2 603.6,884.0 597.3,883.7 591.4,881.0" fill="#b5ff00" stroke="#1b2600" stroke-width="1.03"/><polygon points="548.6,878.9 554.8,879.3 548.9,881.3 542.7,881.1" fill="#cfff00" stroke="#1f2600" stroke-width="1.00"/><polygon points="585.4,878.8 591.4,881.0 585.3,881.3 579.2,879.2" fill="#d0ff00" stroke="#1f2600" stroke-width="1.02"/><polygon points="560.9,877.6 567.0,878.6 561.0,880.1 554.8,879.3" fill="#ddff00" stroke="#212600" stroke-width="1.00"/><polygon points="573.1,877.6 579.2,879.2 573.1,880.1 567.0,878.6" fill="#ddff00" stroke="#212600" stroke-width="1.01"/><polygon points="604.0,881.8 609.9,884.8 603.6,884.0 597.7,881.2" fill="#c2ff00" stroke="#1d2600" stroke-width="0.99"/><polygon points="542.2,879.0 548.6,878.9 542.7,881.1 536.3,881.4" fill="#e1ff00" stroke="#222600" stroke-width="0.94"/><polygon points="591.7,878.8 597.7,881.2 591.4,881.0 585.4,878.8" fill="#e3ff00" stroke="#222600" stroke-width="0.98"/><polygon points="554.6,877.1 560.9,877.6 554.8,879.3 548.6,878.9" fill="#f6ff00" stroke="#252600" stroke-width="0.94"/><polygon points="579.3,877.0 585.4,878.8 579.2,879.2 573.1,877.6" fill="#f7ff00" stroke="#252600" stroke-width="0.96"/><polygon points="567.0,876.4 573.1,877.6 567.0,878.6 560.9,877.6" fill="#fdff00" stroke="#262600" stroke-width="0.95"/><polygon points="610.4,882.8 616.3,886.0 609.9,884.8 604.0,881.8" fill="#caff00" stroke="#1e2600" stroke-width="0.95"/><polygon points="535.8,879.7 542.2,879.0 536.3,881.4 529.9,882.2" fill="#eeff00" stroke="#242600" stroke-width="0.88"/><polygon points="598.0,879.2 604.0,881.8 597.7,881.2 591.7,878.8" fill="#f2ff00" stroke="#242600" stroke-width="0.93"/><polygon points="548.2,877.1 554.6,877.1 548.6,878.9 542.2,879.0" fill="#fff400" stroke="#262500" stroke-width="0.88"/><polygon points="585.6,876.8 591.7,878.8 585.4,878.8 579.3,877.0" fill="#fff200" stroke="#262400" stroke-width="0.91"/><polygon points="560.7,875.8 567.0,876.4 560.9,877.6 554.6,877.1" fill="#ffe600" stroke="#262200" stroke-width="0.89"/><polygon points="573.1,875.7 579.3,877.0 573.1,877.6 567.0,876.4" fill="#ffe500" stroke="#262200" stroke-width="0.90"/><polygon points="616.9,884.3 622.8,887.6 616.3,886.0 610.4,882.8" fill="#cdff00" stroke="#1f2600" stroke-width="0.90"/><polygon points="529.3,880.8 535.8,879.7 529.9,882.2 523.4,883.5" fill="#f6ff00" stroke="#252600" stroke-width="0.81"/><polygon points="604.4,880.1 610.4,882.8 604.0,881.8 598.0,879.2" fill="#fcff00" stroke="#262600" stroke-width="0.88"/><polygon points="541.8,877.6 548.2,877.1 542.2,879.0 535.8,879.7" fill="#ffe500" stroke="#262200" stroke-width="0.81"/><polygon points="591.9,877.1 598.0,879.2 591.7,878.8 585.6,876.8" fill="#ffe100" stroke="#262200" stroke-width="0.86"/><polygon points="554.3,875.6 560.7,875.8 554.6,877.1 548.2,877.1" fill="#ffd000" stroke="#261f00" stroke-width="0.82"/><polygon points="579.4,875.3 585.6,876.8 579.3,877.0 573.1,875.7" fill="#ffce00" stroke="#261f00" stroke-width="0.84"/><polygon points="566.9,874.8 573.1,875.7 567.0,876.4 560.7,875.8" fill="#ffc800" stroke="#261e00" stroke-width="0.83"/><polygon points="623.5,886.2 629.3,889.7 622.8,887.6 616.9,884.3" fill="#ccff00" stroke="#1f2600" stroke-width="0.85"/><polygon points="522.8,882.4 529.3,880.8 523.4,883.5 516.9,885.3" fill="#f8ff00" stroke="#252600" stroke-width="0.74"/><polygon points="610.9,881.4 616.9,884.3 610.4,882.8 604.4,880.1" fill="#fffd00" stroke="#262600" stroke-width="0.82"/><polygon points="535.3,878.5 541.8,877.6 535.8,879.7 529.3,880.8" fill="#ffdc00" stroke="#262100" stroke-width="0.74"/><polygon points="598.4,877.8 604.4,880.1 598.0,879.2 591.9,877.1" fill="#ffd600" stroke="#262000" stroke-width="0.80"/><polygon points="547.9,875.8 554.3,875.6 548.2,877.1 541.8,877.6" fill="#ffc000" stroke="#261d00" stroke-width="0.74"/><polygon points="585.8,875.4 591.9,877.1 585.6,876.8 579.4,875.3" fill="#ffbc00" stroke="#261c00" stroke-width="0.78"/><polygon points="560.5,874.4 566.9,874.8 560.7,875.8 554.3,875.6" fill="#ffb100" stroke="#261b00" stroke-width="0.75"/><polygon points="573.1,874.3 579.4,875.3 573.1,875.7 566.9,874.8" fill="#ffb000" stroke="#261a00" stroke-width="0.76"/><polygon points="630.1,888.6 635.9,892.3 629.3,889.7 623.5,886.2" fill="#c6ff00" stroke="#1e2600" stroke-width="0.79"/><polygon points="516.1,884.6 522.8,882.4 516.9,885.3 510.3,887.6" fill="#f5ff00" stroke="#252600" stroke-width="0.66"/><polygon points="617.5,883.2 623.5,886.2 616.9,884.3 610.9,881.4" fill="#fffd00" stroke="#262600" stroke-width="0.76"/><polygon points="528.7,880.0 535.3,878.5 529.3,880.8 522.8,882.4" fill="#ffd800" stroke="#262000" stroke-width="0.65"/><polygon points="604.9,878.9 610.9,881.4 604.4,880.1 598.4,877.8" fill="#ffcf00" stroke="#261f00" stroke-width="0.73"/><polygon points="541.4,876.6 547.9,875.8 541.8,877.6 535.3,878.5" fill="#ffb500" stroke="#261b00" stroke-width="0.65"/><polygon points="592.2,875.9 598.4,877.8 591.9,877.1 585.8,875.4" fill="#ffae00" stroke="#261a00" stroke-width="0.71"/><polygon points="554.1,874.6 560.5,874.4 554.3,875.6 547.9,875.8" fill="#ff9f00" stroke="#261800" stroke-width="0.66"/><polygon points="579.5,874.2 585.8,875.4 579.4,875.3 573.1,874.3" fill="#ff9c00" stroke="#261700" stroke-width="0.69"/><polygon points="566.8,873.8 573.1,874.3 566.9,874.8 560.5,874.4" fill="#ff9700" stroke="#261700" stroke-width="0.67"/><polygon points="636.8,891.5 642.6,895.4 635.9,892.3 630.1,888.6" fill="#bbff00" stroke="#1c2600" stroke-width="0.73"/><polygon points="509.4,887.2 516.1,884.6 510.3,887.6 503.6,890.4" fill="#ecff00" stroke="#232600" stroke-width="0.56"/><polygon points="624.2,885.4 630.1,888.6 623.5,886.2 617.5,883.2" fill="#fdff00" stroke="#262600" stroke-width="0.69"/><polygon points="522.1,882.0 528.7,880.0 522.8,882.4 516.1,884.6" fill="#ffda00" stroke="#262100" stroke-width="0.55"/><polygon points="611.5,880.5 617.5,883.2 610.9,881.4 604.9,878.9" fill="#ffcd00" stroke="#261f00" stroke-width="0.66"/><polygon points="534.8,877.9 541.4,876.6 535.3,878.5 528.7,880.0" fill="#ffaf00" stroke="#261a00" stroke-width="0.55"/><polygon points="598.7,876.9 604.9,878.9 598.4,877.8 592.2,875.9" fill="#ffa600" stroke="#261900" stroke-width="0.63"/><polygon points="643.5,894.9 649.3,898.9 642.6,895.4 636.8,891.5" fill="#abff00" stroke="#1a2600" stroke-width="0.66"/><polygon points="547.6,875.2 554.1,874.6 547.9,875.8 541.4,876.6" fill="#ff9200" stroke="#261600" stroke-width="0.55"/><polygon points="585.9,874.6 592.2,875.9 585.8,875.4 579.5,874.2" fill="#ff8d00" stroke="#261500" stroke-width="0.60"/><polygon points="560.3,873.7 566.8,873.8 560.5,874.4 554.1,874.6" fill="#ff8300" stroke="#261400" stroke-width="0.56"/><polygon points="573.1,873.5 579.5,874.2 573.1,874.3 566.8,873.8" fill="#ff8100" stroke="#261300" stroke-width="0.58"/><polygon points="502.6,890.4 509.4,887.2 503.6,890.4 496.8,893.7" fill="#deff00" stroke="#212600" stroke-width="0.44"/><polygon points="630.9,888.1 636.8,891.5 630.1,888.6 624.2,885.4" fill="#f4ff00" stroke="#252600" stroke-width="0.62"/><polygon points="515.3,884.5 522.1,882.0 516.1,884.6 509.4,887.2" fill="#ffe000" stroke="#262200" stroke-width="0.42"/><polygon points="618.1,882.6 624.2,885.4 617.5,883.2 611.5,880.5" fill="#ffcf00" stroke="#261f00" stroke-width="0.57"/><polygon points="528.1,879.8 534.8,877.9 528.7,880.0 522.1,882.0" fill="#ffaf00" stroke="#261a00" stroke-width="0.42"/><polygon points="650.4,898.7 656.1,902.9 649.3,898.9 643.5,894.9" fill="#97ff00" stroke="#172600" stroke-width="0.58"/><polygon points="605.3,878.4 611.5,880.5 604.9,878.9 598.7,876.9" fill="#ffa200" stroke="#261800" stroke-width="0.53"/><polygon points="540.9,876.3 547.6,875.2 541.4,876.6 534.8,877.9" fill="#ff8b00" stroke="#261500" stroke-width="0.42"/><polygon points="592.5,875.4 598.7,876.9 592.2,875.9 585.9,874.6" fill="#ff8200" stroke="#261400" stroke-width="0.50"/><polygon points="553.8,874.2 560.3,873.7 554.1,874.6 547.6,875.2" fill="#ff7400" stroke="#261100" stroke-width="0.43"/><polygon points="495.8,894.1 502.6,890.4 496.8,893.7 490.0,897.6" fill="#cbff00" stroke="#1f2600" stroke-width="0.27"/><polygon points="579.6,873.7 585.9,874.6 579.5,874.2 573.1,873.5" fill="#ff7000" stroke="#261100" stroke-width="0.47"/><polygon points="566.7,873.3 573.1,873.5 566.8,873.8 560.3,873.7" fill="#ff6b00" stroke="#261000" stroke-width="0.44"/><polygon points="637.7,891.3 643.5,894.9 636.8,891.5 630.9,888.1" fill="#e6ff00" stroke="#222600" stroke-width="0.53"/><polygon points="508.6,887.5 515.3,884.5 509.4,887.2 502.6,890.4" fill="#ffec00" stroke="#262300" stroke-width="0.23"/><polygon points="624.9,885.2 630.9,888.1 624.2,885.4 618.1,882.6" fill="#ffd700" stroke="#262000" stroke-width="0.47"/><polygon points="657.2,903.1 663.0,907.4 656.1,902.9 650.4,898.7" fill="#7eff00" stroke="#132600" stroke-width="0.49"/><polygon points="521.4,882.1 528.1,879.8 522.1,882.0 515.3,884.5" fill="#ffb400" stroke="#261b00" stroke-width="0.21"/><polygon points="612.0,880.3 618.1,882.6 611.5,880.5 605.3,878.4" fill="#ffa300" stroke="#261800" stroke-width="0.42"/><polygon points="488.9,898.4 495.8,894.1 490.0,897.6 483.2,902.0" fill="#b3ff00" stroke="#1b2600" stroke-width="0.22"/><polygon points="534.3,878.0 540.9,876.3 534.8,877.9 528.1,879.8" fill="#ff8900" stroke="#261500" stroke-width="0.20"/><polygon points="599.1,876.7 605.3,878.4 598.7,876.9 592.5,875.4" fill="#ff7d00" stroke="#261300" stroke-width="0.37"/><polygon points="644.5,895.0 650.4,898.7 643.5,894.9 637.7,891.3" fill="#d3ff00" stroke="#202600" stroke-width="0.42"/><polygon points="547.2,875.1 553.8,874.2 547.6,875.2 540.9,876.3" fill="#ff6b00" stroke="#261000" stroke-width="0.21"/><polygon points="586.1,874.4 592.5,875.4 585.9,874.6 579.6,873.7" fill="#ff6400" stroke="#260f00" stroke-width="0.32"/><polygon points="560.2,873.6 566.7,873.3 560.3,873.7 553.8,874.2" fill="#ff5b00" stroke="#260e00" stroke-width="0.23"/><polygon points="573.1,873.3 579.6,873.7 573.1,873.5 566.7,873.3" fill="#ff5900" stroke="#260d00" stroke-width="0.27"/><polygon points="501.7,891.1 508.6,887.5 502.6,890.4 495.8,894.1" fill="#fffe00" stroke="#262600" stroke-width="0.27"/><polygon points="631.7,888.3 637.7,891.3 630.9,888.1 624.9,885.2" fill="#ffe300" stroke="#262200" stroke-width="0.34"/><polygon points="664.2,907.9 669.9,912.3 663.0,907.4 657.2,903.1" fill="#60ff00" stroke="#0e2600" stroke-width="0.38"/><polygon points="514.6,885.0 521.4,882.1 515.3,884.5 508.6,887.5" fill="#ffbe00" stroke="#261d00" stroke-width="0.30"/><polygon points="618.8,882.7 624.9,885.2 618.1,882.6 612.0,880.3" fill="#ffa900" stroke="#261900" stroke-width="0.25"/><polygon points="482.0,903.2 488.9,898.4 483.2,902.0 476.2,907.0" fill="#95ff00" stroke="#162600" stroke-width="0.41"/><polygon points="527.5,880.2 534.3,878.0 528.1,879.8 521.4,882.1" fill="#ff8c00" stroke="#261500" stroke-width="0.31"/><polygon points="651.4,899.2 657.2,903.1 650.4,898.7 644.5,895.0" fill="#bcff00" stroke="#1c2600" stroke-width="0.27"/><polygon points="605.8,878.5 612.0,880.3 605.3,878.4 599.1,876.7" fill="#ff7c00" stroke="#261300" stroke-width="0.14"/><polygon points="540.5,876.6 547.2,875.1 540.9,876.3 534.3,878.0" fill="#ff6800" stroke="#261000" stroke-width="0.31"/><polygon points="592.7,875.5 599.1,876.7 592.5,875.4 586.1,874.4" fill="#ff5d00" stroke="#260e00" stroke-width="0.14"/><polygon points="494.8,895.2 501.7,891.1 495.8,894.1 488.9,898.4" fill="#e9ff00" stroke="#232600" stroke-width="0.45"/><polygon points="553.5,874.4 560.2,873.6 553.8,874.2 547.2,875.1" fill="#ff5000" stroke="#260c00" stroke-width="0.30"/><polygon points="579.7,873.8 586.1,874.4 579.6,873.7 573.1,873.3" fill="#ff4b00" stroke="#260b00" stroke-width="0.23"/><polygon points="566.6,873.5 573.1,873.3 566.7,873.3 560.2,873.6" fill="#ff4700" stroke="#260b00" stroke-width="0.27"/><polygon points="671.2,913.3 676.8,917.8 669.9,912.3 664.2,907.9" fill="#3dff00" stroke="#092600" stroke-width="0.22"/><polygon points="638.5,891.8 644.5,895.0 637.7,891.3 631.7,888.3" fill="#fff400" stroke="#262500" stroke-width="0.10"/><polygon points="507.7,888.4 514.6,885.0 508.6,887.5 501.7,891.1" fill="#ffce00" stroke="#261f00" stroke-width="0.47"/><polygon points="474.9,908.6 482.0,903.2 476.2,907.0 469.3,912.5" fill="#72ff00" stroke="#112600" stroke-width="0.54"/><polygon points="625.6,885.6 631.7,888.3 624.9,885.2 618.8,882.7" fill="#ffb300" stroke="#261b00" stroke-width="0.22"/><polygon points="658.4,903.9 664.2,907.9 657.2,903.1 651.4,899.2" fill="#9fff00" stroke="#182600" stroke-width="0.17"/><polygon points="520.7,882.9 527.5,880.2 521.4,882.1 514.6,885.0" fill="#ff9500" stroke="#261600" stroke-width="0.49"/><polygon points="612.5,880.7 618.8,882.7 612.0,880.3 605.8,878.5" fill="#ff8000" stroke="#261300" stroke-width="0.32"/><polygon points="487.8,899.9 494.8,895.2 488.9,898.4 482.0,903.2" fill="#cdff00" stroke="#1f2600" stroke-width="0.57"/><polygon points="678.3,919.1 683.9,923.8 676.8,917.8 671.2,913.3" fill="#16ff00" stroke="#032600" stroke-width="0.22"/><polygon points="533.7,878.7 540.5,876.6 534.3,878.0 527.5,880.2" fill="#ff6900" stroke="#261000" stroke-width="0.49"/><polygon points="599.4,877.1 605.8,878.5 599.1,876.7 592.7,875.5" fill="#ff5a00" stroke="#260e00" stroke-width="0.38"/><polygon points="546.8,875.7 553.5,874.4 547.2,875.1 540.5,876.6" fill="#ff4b00" stroke="#260b00" stroke-width="0.49"/><polygon points="645.5,895.8 651.4,899.2 644.5,895.0 638.5,891.8" fill="#f4ff00" stroke="#252600" stroke-width="0.31"/><polygon points="586.3,874.8 592.7,875.5 586.1,874.4 579.7,873.8" fill="#ff4200" stroke="#260a00" stroke-width="0.42"/><polygon points="560.0,874.1 566.6,873.5 560.2,873.6 553.5,874.4" fill="#ff3a00" stroke="#260900" stroke-width="0.48"/><polygon points="573.2,873.8 579.7,873.8 573.1,873.3 566.6,873.5" fill="#ff3800" stroke="#260800" stroke-width="0.46"/><polygon points="467.9,914.6 474.9,908.6 469.3,912.5 462.2,918.6" fill="#4aff00" stroke="#0b2600" stroke-width="0.65"/><polygon points="500.7,892.4 507.7,888.4 501.7,891.1 494.8,895.2" fill="#ffe300" stroke="#262200" stroke-width="0.60"/><polygon points="632.5,889.0 638.5,891.8 631.7,888.3 625.6,885.6" fill="#ffc200" stroke="#261d00" stroke-width="0.40"/><polygon points="665.4,909.1 671.2,913.3 664.2,907.9 658.4,903.9" fill="#7eff00" stroke="#132600" stroke-width="0.36"/><polygon points="513.8,886.2 520.7,882.9 514.6,885.0 507.7,888.4" fill="#ffa300" stroke="#261800" stroke-width="0.61"/><polygon points="685.4,925.5 690.9,930.3 683.9,923.8 678.3,919.1" fill="#00ff17" stroke="#002603" stroke-width="0.38"/><polygon points="480.7,905.1 487.8,899.9 482.0,903.2 474.9,908.6" fill="#acff00" stroke="#1a2600" stroke-width="0.68"/><polygon points="619.4,883.5 625.6,885.6 618.8,882.7 612.5,880.7" fill="#ff8900" stroke="#261500" stroke-width="0.47"/><polygon points="526.9,881.3 533.7,878.7 527.5,880.2 520.7,882.9" fill="#ff7000" stroke="#261100" stroke-width="0.62"/><polygon points="652.5,900.4 658.4,903.9 651.4,899.2 645.5,895.8" fill="#daff00" stroke="#212600" stroke-width="0.46"/><polygon points="460.8,921.1 467.9,914.6 462.2,918.6 455.2,925.3" fill="#1cff00" stroke="#042600" stroke-width="0.74"/><polygon points="606.2,879.2 612.5,880.7 605.8,878.5 599.4,877.1" fill="#ff5c00" stroke="#260e00" stroke-width="0.52"/><polygon points="540.1,877.6 546.8,875.7 540.5,876.6 533.7,878.7" fill="#ff4b00" stroke="#260b00" stroke-width="0.62"/><polygon points="593.0,876.3 599.4,877.1 592.7,875.5 586.3,874.8" fill="#ff3e00" stroke="#260900" stroke-width="0.56"/><polygon points="493.7,896.9 500.7,892.4 494.8,895.2 487.8,899.9" fill="#fffd00" stroke="#262600" stroke-width="0.70"/><polygon points="553.3,875.3 560.0,874.1 553.5,874.4 546.8,875.7" fill="#ff3300" stroke="#260800" stroke-width="0.62"/><polygon points="579.8,874.6 586.3,874.8 579.7,873.8 573.2,873.8" fill="#ff2d00" stroke="#260700" stroke-width="0.58"/><polygon points="566.5,874.3 573.2,873.8 566.6,873.5 560.0,874.1" fill="#ff2900" stroke="#260600" stroke-width="0.61"/><polygon points="672.5,914.9 678.3,919.1 671.2,913.3 665.4,909.1" fill="#59ff00" stroke="#0d2600" stroke-width="0.48"/><polygon points="639.5,892.9 645.5,895.8 638.5,891.8 632.5,889.0" fill="#ffd600" stroke="#262000" stroke-width="0.53"/><polygon points="692.5,932.4 698.1,937.3 690.9,930.3 685.4,925.5" fill="#00ff48" stroke="#00260b" stroke-width="0.49"/><polygon points="473.6,911.0 480.7,905.1 474.9,908.6 467.9,914.6" fill="#85ff00" stroke="#142600" stroke-width="0.77"/><polygon points="506.8,890.0 513.8,886.2 507.7,888.4 500.7,892.4" fill="#ffb600" stroke="#261b00" stroke-width="0.72"/><polygon points="626.3,886.7 632.5,889.0 625.6,885.6 619.4,883.5" fill="#ff9600" stroke="#261700" stroke-width="0.58"/><polygon points="453.6,928.2 460.8,921.1 455.2,925.3 448.0,932.5" fill="#00ff17" stroke="#002603" stroke-width="0.82"/><polygon points="659.6,905.5 665.4,909.1 658.4,903.9 652.5,900.4" fill="#baff00" stroke="#1c2600" stroke-width="0.56"/><polygon points="520.0,884.4 526.9,881.3 520.7,882.9 513.8,886.2" fill="#ff7c00" stroke="#261300" stroke-width="0.73"/><polygon points="613.1,881.8 619.4,883.5 612.5,880.7 606.2,879.2" fill="#ff6400" stroke="#260f00" stroke-width="0.63"/><polygon points="486.6,902.1 493.7,896.9 487.8,899.9 480.7,905.1" fill="#e1ff00" stroke="#222600" stroke-width="0.79"/><polygon points="679.7,921.1 685.4,925.5 678.3,919.1 672.5,914.9" fill="#2eff00" stroke="#072600" stroke-width="0.58"/><polygon points="533.2,880.0 540.1,877.6 533.7,878.7 526.9,881.3" fill="#ff5000" stroke="#260c00" stroke-width="0.74"/><polygon points="599.8,878.2 606.2,879.2 599.4,877.1 593.0,876.3" fill="#ff3e00" stroke="#260900" stroke-width="0.66"/><polygon points="699.8,939.8 705.2,944.9 698.1,937.3 692.5,932.4" fill="#00ff7e" stroke="#002613" stroke-width="0.58"/><polygon points="546.5,877.0 553.3,875.3 546.8,875.7 540.1,877.6" fill="#ff3100" stroke="#260700" stroke-width="0.73"/><polygon points="646.5,897.3 652.5,900.4 645.5,895.8 639.5,892.9" fill="#ffef00" stroke="#262400" stroke-width="0.63"/><polygon points="586.5,875.9 593.0,876.3 586.3,874.8 579.8,874.6" fill="#ff2700" stroke="#260600" stroke-width="0.69"/><polygon points="466.5,917.4 473.6,911.0 467.9,914.6 460.8,921.1" fill="#59ff00" stroke="#0d2600" stroke-width="0.85"/><polygon points="559.8,875.3 566.5,874.3 560.0,874.1 553.3,875.3" fill="#ff2000" stroke="#260500" stroke-width="0.73"/><polygon points="573.2,874.9 579.8,874.6 573.2,873.8 566.5,874.3" fill="#ff1d00" stroke="#260400" stroke-width="0.71"/><polygon points="499.7,894.4 506.8,890.0 500.7,892.4 493.7,896.9" fill="#ffce00" stroke="#261f00" stroke-width="0.81"/><polygon points="446.4,935.9 453.6,928.2 448.0,932.5 440.9,940.3" fill="#00ff50" stroke="#00260c" stroke-width="0.89"/><polygon points="633.3,890.4 639.5,892.9 632.5,889.0 626.3,886.7" fill="#ffa900" stroke="#261900" stroke-width="0.68"/><polygon points="666.7,911.0 672.5,914.9 665.4,909.1 659.6,905.5" fill="#96ff00" stroke="#172600" stroke-width="0.65"/><polygon points="513.0,888.1 520.0,884.4 513.8,886.2 506.8,890.0" fill="#ff8e00" stroke="#261500" stroke-width="0.83"/><polygon points="479.5,907.7 486.6,902.1 480.7,905.1 473.6,911.0" fill="#bcff00" stroke="#1c2600" stroke-width="0.88"/><polygon points="686.9,927.9 692.5,932.4 685.4,925.5 679.7,921.1" fill="#00ff01" stroke="#002600" stroke-width="0.66"/><polygon points="620.0,884.9 626.3,886.7 619.4,883.5 613.1,881.8" fill="#ff6f00" stroke="#261100" stroke-width="0.72"/><polygon points="526.3,883.0 533.2,880.0 526.9,881.3 520.0,884.4" fill="#ff5a00" stroke="#260e00" stroke-width="0.83"/><polygon points="459.3,924.3 466.5,917.4 460.8,921.1 453.6,928.2" fill="#28ff00" stroke="#062600" stroke-width="0.92"/><polygon points="653.6,902.2 659.6,905.5 652.5,900.4 646.5,897.3" fill="#f1ff00" stroke="#242600" stroke-width="0.71"/><polygon points="606.7,880.6 613.1,881.8 606.2,879.2 599.8,878.2" fill="#ff4400" stroke="#260a00" stroke-width="0.76"/><polygon points="539.6,879.3 546.5,877.0 540.1,877.6 533.2,880.0" fill="#ff3500" stroke="#260800" stroke-width="0.84"/><polygon points="492.6,899.4 499.7,894.4 493.7,896.9 486.6,902.1" fill="#ffec00" stroke="#262300" stroke-width="0.90"/><polygon points="593.3,877.7 599.8,878.2 593.0,876.3 586.5,875.9" fill="#ff2600" stroke="#260600" stroke-width="0.79"/><polygon points="553.0,876.9 559.8,875.3 553.3,875.3 546.5,877.0" fill="#ff1d00" stroke="#260400" stroke-width="0.83"/><polygon points="579.9,876.1 586.5,875.9 579.8,874.6 573.2,874.9" fill="#ff1500" stroke="#260300" stroke-width="0.81"/><polygon points="566.4,875.8 573.2,874.9 566.5,874.3 559.8,875.3" fill="#ff1200" stroke="#260300" stroke-width="0.82"/><polygon points="673.9,917.1 679.7,921.1 672.5,914.9 666.7,911.0" fill="#6dff00" stroke="#102600" stroke-width="0.73"/><polygon points="640.4,894.7 646.5,897.3 639.5,892.9 633.3,890.4" fill="#ffc000" stroke="#261d00" stroke-width="0.77"/><polygon points="694.2,935.1 699.8,939.8 692.5,932.4 686.9,927.9" fill="#00ff35" stroke="#002608" stroke-width="0.74"/><polygon points="472.3,914.0 479.5,907.7 473.6,911.0 466.5,917.4" fill="#92ff00" stroke="#162600" stroke-width="0.95"/><polygon points="505.9,892.3 513.0,888.1 506.8,890.0 499.7,894.4" fill="#ffa500" stroke="#261900" stroke-width="0.91"/><polygon points="452.0,931.9 459.3,924.3 453.6,928.2 446.4,935.9" fill="#00ff0f" stroke="#002602" stroke-width="0.99"/><polygon points="627.0,888.5 633.3,890.4 626.3,886.7 620.0,884.9" fill="#ff8000" stroke="#261300" stroke-width="0.81"/><polygon points="660.8,907.7 666.7,911.0 659.6,905.5 653.6,902.2" fill="#cfff00" stroke="#1f2600" stroke-width="0.79"/><polygon points="519.2,886.5 526.3,883.0 520.0,884.4 513.0,888.1" fill="#ff6a00" stroke="#261000" stroke-width="0.92"/><polygon points="485.5,904.9 492.6,899.4 486.6,902.1 479.5,907.7" fill="#eeff00" stroke="#242600" stroke-width="0.97"/><polygon points="613.6,883.5 620.0,884.9 613.1,881.8 606.7,880.6" fill="#ff4e00" stroke="#260c00" stroke-width="0.84"/><polygon points="681.2,923.8 686.9,927.9 679.7,921.1 673.9,917.1" fill="#40ff00" stroke="#0a2600" stroke-width="0.81"/><polygon points="532.7,882.1 539.6,879.3 533.2,880.0 526.3,883.0" fill="#ff3e00" stroke="#260900" stroke-width="0.93"/><polygon points="600.2,879.9 606.7,880.6 599.8,878.2 593.3,877.7" fill="#ff2900" stroke="#260600" stroke-width="0.87"/><polygon points="546.1,879.0 553.0,876.9 546.5,877.0 539.6,879.3" fill="#ff1e00" stroke="#260500" stroke-width="0.93"/><polygon points="647.5,899.5 653.6,902.2 646.5,897.3 640.4,894.7" fill="#ffdb00" stroke="#262100" stroke-width="0.84"/><polygon points="465.0,920.8 472.3,914.0 466.5,917.4 459.3,924.3" fill="#62ff00" stroke="#0f2600" stroke-width="1.02"/><polygon points="586.7,877.7 593.3,877.7 586.5,875.9 579.9,876.1" fill="#ff1200" stroke="#260300" stroke-width="0.89"/><polygon points="559.6,877.2 566.4,875.8 559.8,875.3 553.0,876.9" fill="#ff0d00" stroke="#260200" stroke-width="0.92"/><polygon points="573.2,876.8 579.9,876.1 573.2,874.9 566.4,875.8" fill="#ff0900" stroke="#260100" stroke-width="0.91"/><polygon points="498.8,897.1 505.9,892.3 499.7,894.4 492.6,899.4" fill="#ffc100" stroke="#261d00" stroke-width="0.99"/><polygon points="668.0,913.6 673.9,917.1 666.7,911.0 660.8,907.7" fill="#a8ff00" stroke="#192600" stroke-width="0.86"/><polygon points="634.1,892.6 640.4,894.7 633.3,890.4 627.0,888.5" fill="#ff9500" stroke="#261600" stroke-width="0.89"/><polygon points="512.1,890.7 519.2,886.5 513.0,888.1 505.9,892.3" fill="#ff7f00" stroke="#261300" stroke-width="1.00"/><polygon points="478.2,911.1 485.5,904.9 479.5,907.7 472.3,914.0" fill="#c6ff00" stroke="#1e2600" stroke-width="1.05"/><polygon points="688.5,930.9 694.2,935.1 686.9,927.9 681.2,923.8" fill="#0dff00" stroke="#022600" stroke-width="0.87"/><polygon points="620.7,887.0 627.0,888.5 620.0,884.9 613.6,883.5" fill="#ff5d00" stroke="#260e00" stroke-width="0.92"/><polygon points="457.8,928.3 465.0,920.8 459.3,924.3 452.0,931.9" fill="#2dff00" stroke="#072600" stroke-width="1.09"/><polygon points="525.6,885.5 532.7,882.1 526.3,883.0 519.2,886.5" fill="#ff4c00" stroke="#260b00" stroke-width="1.01"/><polygon points="654.7,904.8 660.8,907.7 653.6,902.2 647.5,899.5" fill="#fffc00" stroke="#262600" stroke-width="0.91"/><polygon points="607.1,882.7 613.6,883.5 606.7,880.6 600.2,879.9" fill="#ff3200" stroke="#260700" stroke-width="0.95"/><polygon points="539.2,881.6 546.1,879.0 539.6,879.3 532.7,882.1" fill="#ff2500" stroke="#260600" stroke-width="1.01"/><polygon points="491.6,902.5 498.8,897.1 492.6,899.4 485.5,904.9" fill="#ffe200" stroke="#262200" stroke-width="1.07"/><polygon points="593.6,879.8 600.2,879.9 593.3,877.7 586.7,877.7" fill="#ff1400" stroke="#260300" stroke-width="0.97"/><polygon points="552.7,879.2 559.6,877.2 553.0,876.9 546.1,879.0" fill="#ff0d00" stroke="#260200" stroke-width="1.01"/><polygon points="580.0,878.2 586.7,877.7 579.9,876.1 573.2,876.8" fill="#ff0400" stroke="#260100" stroke-width="0.99"/><polygon points="675.3,920.1 681.2,923.8 673.9,917.1 668.0,913.6" fill="#7cff00" stroke="#132600" stroke-width="0.93"/><polygon points="566.3,878.0 573.2,876.8 566.4,875.8 559.6,877.2" fill="#ff0200" stroke="#260000" stroke-width="1.00"/><polygon points="641.3,897.2 647.5,899.5 640.4,894.7 634.1,892.6" fill="#ffaf00" stroke="#261a00" stroke-width="0.96"/><polygon points="471.0,917.8 478.2,911.1 472.3,914.0 465.0,920.8" fill="#98ff00" stroke="#172600" stroke-width="1.11"/><polygon points="505.0,895.3 512.1,890.7 505.9,892.3 498.8,897.1" fill="#ff9a00" stroke="#261700" stroke-width="1.08"/><polygon points="627.8,890.9 634.1,892.6 627.0,888.5 620.7,887.0" fill="#ff7000" stroke="#261100" stroke-width="0.99"/><polygon points="662.0,910.6 668.0,913.6 660.8,907.7 654.7,904.8" fill="#dcff00" stroke="#212600" stroke-width="0.98"/><polygon points="518.5,889.4 525.6,885.5 519.2,886.5 512.1,890.7" fill="#ff5f00" stroke="#260e00" stroke-width="1.09"/><polygon points="484.3,908.5 491.6,902.5 485.5,904.9 478.2,911.1" fill="#f5ff00" stroke="#252600" stroke-width="1.14"/><polygon points="614.2,886.0 620.7,887.0 613.6,883.5 607.1,882.7" fill="#ff3f00" stroke="#260900" stroke-width="1.02"/><polygon points="682.6,927.2 688.5,930.9 681.2,923.8 675.3,920.1" fill="#4bff00" stroke="#0b2600" stroke-width="0.99"/><polygon points="532.1,884.9 539.2,881.6 532.7,882.1 525.6,885.5" fill="#ff3200" stroke="#260700" stroke-width="1.10"/><polygon points="600.5,882.4 607.1,882.7 600.2,879.9 593.6,879.8" fill="#ff1b00" stroke="#260400" stroke-width="1.05"/><polygon points="463.6,925.1 471.0,917.8 465.0,920.8 457.8,928.3" fill="#65ff00" stroke="#0f2600" stroke-width="1.18"/><polygon points="545.8,881.7 552.7,879.2 546.1,879.0 539.2,881.6" fill="#ff1200" stroke="#260300" stroke-width="1.10"/><polygon points="648.5,902.4 654.7,904.8 647.5,899.5 641.3,897.2" fill="#ffce00" stroke="#261f00" stroke-width="1.02"/><polygon points="586.9,880.2 593.6,879.8 586.7,877.7 580.0,878.2" fill="#ff0400" stroke="#260100" stroke-width="1.07"/><polygon points="559.5,879.8 566.3,878.0 559.6,877.2 552.7,879.2" fill="#ff0000" stroke="#260000" stroke-width="1.09"/><polygon points="573.2,879.3 580.0,878.2 573.2,876.8 566.3,878.0" fill="#ff0000" stroke="#260000" stroke-width="1.08"/><polygon points="497.8,900.6 505.0,895.3 498.8,897.1 491.6,902.5" fill="#ffba00" stroke="#261c00" stroke-width="1.15"/><polygon points="669.3,917.0 675.3,920.1 668.0,913.6 662.0,910.6" fill="#b2ff00" stroke="#1b2600" stroke-width="1.04"/><polygon points="635.0,895.4 641.3,897.2 634.1,892.6 627.8,890.9" fill="#ff8900" stroke="#261500" stroke-width="1.06"/><polygon points="511.3,894.0 518.5,889.4 512.1,890.7 505.0,895.3" fill="#ff7800" stroke="#261200" stroke-width="1.17"/><polygon points="477.0,915.1 484.3,908.5 478.2,911.1 471.0,917.8" fill="#c9ff00" stroke="#1e2600" stroke-width="1.20"/><polygon points="621.3,889.8 627.8,890.9 620.7,887.0 614.2,886.0" fill="#ff5100" stroke="#260c00" stroke-width="1.09"/><polygon points="525.0,888.7 532.1,884.9 525.6,885.5 518.5,889.4" fill="#ff4400" stroke="#260a00" stroke-width="1.17"/><polygon points="655.8,908.0 662.0,910.6 654.7,904.8 648.5,902.4" fill="#fff200" stroke="#262400" stroke-width="1.09"/><polygon points="607.6,885.6 614.2,886.0 607.1,882.7 600.5,882.4" fill="#ff2600" stroke="#260600" stroke-width="1.12"/><polygon points="490.5,906.5 497.8,900.6 491.6,902.5 484.3,908.5" fill="#ffdf00" stroke="#262100" stroke-width="1.22"/><polygon points="538.7,884.8 545.8,881.7 539.2,881.6 532.1,884.9" fill="#ff1d00" stroke="#260400" stroke-width="1.18"/><polygon points="593.9,882.7 600.5,882.4 593.6,879.8 586.9,880.2" fill="#ff0900" stroke="#260100" stroke-width="1.14"/><polygon points="552.5,882.2 559.5,879.8 552.7,879.2 545.8,881.7" fill="#ff0400" stroke="#260100" stroke-width="1.17"/><polygon points="676.7,923.9 682.6,927.2 675.3,920.1 669.3,917.0" fill="#83ff00" stroke="#142600" stroke-width="1.10"/><polygon points="580.1,881.1 586.9,880.2 580.0,878.2 573.2,879.3" fill="#ff0000" stroke="#260000" stroke-width="1.16"/><polygon points="566.3,881.0 573.2,879.3 566.3,878.0 559.5,879.8" fill="#ff0000" stroke="#260000" stroke-width="1.17"/><polygon points="469.6,922.3 477.0,915.1 471.0,917.8 463.6,925.1" fill="#97ff00" stroke="#172600" stroke-width="1.26"/><polygon points="642.2,900.4 648.5,902.4 641.3,897.2 635.0,895.4" fill="#ffa600" stroke="#261900" stroke-width="1.13"/><polygon points="504.1,899.1 511.3,894.0 505.0,895.3 497.8,900.6" fill="#ff9600" stroke="#261600" stroke-width="1.24"/><polygon points="628.5,894.2 635.0,895.4 627.8,890.9 621.3,889.8" fill="#ff6700" stroke="#261000" stroke-width="1.16"/><polygon points="663.2,914.3 669.3,917.0 662.0,910.6 655.8,908.0" fill="#e3ff00" stroke="#222600" stroke-width="1.15"/><polygon points="517.8,893.1 525.0,888.7 518.5,889.4 511.3,894.0" fill="#ff5b00" stroke="#260e00" stroke-width="1.25"/><polygon points="483.1,912.9 490.5,906.5 484.3,908.5 477.0,915.1" fill="#f5ff00" stroke="#252600" stroke-width="1.28"/><polygon points="614.8,889.2 621.3,889.8 614.2,886.0 607.6,885.6" fill="#ff3600" stroke="#260800" stroke-width="1.19"/><polygon points="531.6,888.4 538.7,884.8 532.1,884.9 525.0,888.7" fill="#ff2d00" stroke="#260700" stroke-width="1.25"/><polygon points="600.9,885.6 607.6,885.6 600.5,882.4 593.9,882.7" fill="#ff1300" stroke="#260300" stroke-width="1.21"/><polygon points="545.4,885.1 552.5,882.2 545.8,881.7 538.7,884.8" fill="#ff0c00" stroke="#260200" stroke-width="1.25"/><polygon points="649.5,906.0 655.8,908.0 648.5,902.4 642.2,900.4" fill="#ffc800" stroke="#261e00" stroke-width="1.19"/><polygon points="587.1,883.4 593.9,882.7 586.9,880.2 580.1,881.1" fill="#ff0000" stroke="#260000" stroke-width="1.23"/><polygon points="559.3,883.2 566.3,881.0 559.5,879.8 552.5,882.2" fill="#ff0000" stroke="#260000" stroke-width="1.25"/><polygon points="496.8,904.8 504.1,899.1 497.8,900.6 490.5,906.5" fill="#ffb900" stroke="#261c00" stroke-width="1.30"/><polygon points="573.2,882.6 580.1,881.1 573.2,879.3 566.3,881.0" fill="#ff0000" stroke="#260000" stroke-width="1.24"/><polygon points="670.6,921.1 676.7,923.9 669.3,917.0 663.2,914.3" fill="#b6ff00" stroke="#1b2600" stroke-width="1.20"/><polygon points="635.8,899.0 642.2,900.4 635.0,895.4 628.5,894.2" fill="#ff8300" stroke="#261400" stroke-width="1.22"/><polygon points="475.7,920.0 483.1,912.9 477.0,915.1 469.6,922.3" fill="#c5ff00" stroke="#1e2600" stroke-width="1.35"/><polygon points="510.5,898.1 517.8,893.1 511.3,894.0 504.1,899.1" fill="#ff7700" stroke="#261200" stroke-width="1.31"/><polygon points="622.0,893.4 628.5,894.2 621.3,889.8 614.8,889.2" fill="#ff4b00" stroke="#260b00" stroke-width="1.25"/><polygon points="524.3,892.7 531.6,888.4 525.0,888.7 517.8,893.1" fill="#ff4200" stroke="#260a00" stroke-width="1.32"/><polygon points="656.9,912.1 663.2,914.3 655.8,908.0 649.5,906.0" fill="#ffef00" stroke="#262400" stroke-width="1.24"/><polygon points="489.4,911.2 496.8,904.8 490.5,906.5 483.1,912.9" fill="#ffe200" stroke="#262200" stroke-width="1.37"/><polygon points="608.1,889.2 614.8,889.2 607.6,885.6 600.9,885.6" fill="#ff2100" stroke="#260500" stroke-width="1.27"/><polygon points="538.2,888.6 545.4,885.1 538.7,884.8 531.6,888.4" fill="#ff1b00" stroke="#260400" stroke-width="1.33"/><polygon points="594.1,886.3 600.9,885.6 593.9,882.7 587.1,883.4" fill="#ff0500" stroke="#260100" stroke-width="1.29"/><polygon points="552.2,886.0 559.3,883.2 552.5,882.2 545.4,885.1" fill="#ff0100" stroke="#260000" stroke-width="1.33"/><polygon points="580.2,884.8 587.1,883.4 580.1,881.1 573.2,882.6" fill="#ff0000" stroke="#260000" stroke-width="1.31"/><polygon points="566.2,884.7 573.2,882.6 566.3,881.0 559.3,883.2" fill="#ff0000" stroke="#260000" stroke-width="1.32"/><polygon points="643.2,904.4 649.5,906.0 642.2,900.4 635.8,899.0" fill="#ffa300" stroke="#261800" stroke-width="1.28"/><polygon points="503.2,903.7 510.5,898.1 504.1,899.1 496.8,904.8" fill="#ff9900" stroke="#261700" stroke-width="1.38"/><polygon points="629.3,898.1 635.8,899.0 628.5,894.2 622.0,893.4" fill="#ff6500" stroke="#260f00" stroke-width="1.31"/><polygon points="517.0,897.5 524.3,892.7 517.8,893.1 510.5,898.1" fill="#ff5d00" stroke="#260e00" stroke-width="1.39"/><polygon points="664.4,918.7 670.6,921.1 663.2,914.3 656.9,912.1" fill="#e4ff00" stroke="#222600" stroke-width="1.30"/><polygon points="481.9,918.1 489.4,911.2 483.1,912.9 475.7,920.0" fill="#eeff00" stroke="#242600" stroke-width="1.43"/><polygon points="615.3,893.2 622.0,893.4 614.8,889.2 608.1,889.2" fill="#ff3500" stroke="#260800" stroke-width="1.34"/><polygon points="531.0,892.7 538.2,888.6 531.6,888.4 524.3,892.7" fill="#ff2e00" stroke="#260700" stroke-width="1.40"/><polygon points="601.3,889.6 608.1,889.2 600.9,885.6 594.1,886.3" fill="#ff1200" stroke="#260300" stroke-width="1.36"/><polygon points="545.0,889.3 552.2,886.0 545.4,885.1 538.2,888.6" fill="#ff0d00" stroke="#260200" stroke-width="1.40"/><polygon points="650.6,910.4 656.9,912.1 649.5,906.0 643.2,904.4" fill="#ffc800" stroke="#261e00" stroke-width="1.34"/><polygon points="495.7,909.9 503.2,903.7 496.8,904.8 489.4,911.2" fill="#ffc000" stroke="#261d00" stroke-width="1.44"/><polygon points="587.2,887.5 594.1,886.3 587.1,883.4 580.2,884.8" fill="#ff0000" stroke="#260000" stroke-width="1.38"/><polygon points="559.1,887.3 566.2,884.7 559.3,883.2 552.2,886.0" fill="#ff0000" stroke="#260000" stroke-width="1.40"/><polygon points="573.2,886.7 580.2,884.8 573.2,882.6 566.2,884.7" fill="#ff0000" stroke="#260000" stroke-width="1.39"/><polygon points="636.7,903.4 643.2,904.4 635.8,899.0 629.3,898.1" fill="#ff8400" stroke="#261400" stroke-width="1.37"/><polygon points="509.7,903.0 517.0,897.5 510.5,898.1 503.2,903.7" fill="#ff7d00" stroke="#261300"/><polygon points="622.6,897.8 629.3,898.1 622.0,893.4 615.3,893.2" fill="#ff4d00" stroke="#260b00" stroke-width="1.40"/><polygon points="523.7,897.4 531.0,892.7 524.3,892.7 517.0,897.5" fill="#ff4700" stroke="#260b00"/><polygon points="658.1,916.9 664.4,918.7 656.9,912.1 650.6,910.4" fill="#fff200" stroke="#262400" stroke-width="1.39"/><polygon points="488.3,916.7 495.7,909.9 489.4,911.2 481.9,918.1" fill="#ffec00" stroke="#262300"/><polygon points="608.6,893.5 615.3,893.2 608.1,889.2 601.3,889.6" fill="#ff2300" stroke="#260500" stroke-width="1.42"/><polygon points="537.8,893.3 545.0,889.3 538.2,888.6 531.0,892.7" fill="#ff1f00" stroke="#260500"/><polygon points="594.4,890.7 601.3,889.6 594.1,886.3 587.2,887.5" fill="#ff0700" stroke="#260100" stroke-width="1.44"/><polygon points="551.9,890.5 559.1,887.3 552.2,886.0 545.0,889.3" fill="#ff0500" stroke="#260100"/><polygon points="580.3,889.2 587.2,887.5 580.2,884.8 573.2,886.7" fill="#ff0000" stroke="#260000"/><polygon points="566.1,889.2 573.2,886.7 566.2,884.7 559.1,887.3" fill="#ff0000" stroke="#260000"/><polygon points="644.1,909.2 650.6,910.4 643.2,904.4 636.7,903.4" fill="#ffa700" stroke="#261900" stroke-width="1.43"/><polygon points="502.2,909.0 509.7,903.0 503.2,903.7 495.7,909.9" fill="#ffa200" stroke="#261800"/><polygon points="630.0,902.9 636.7,903.4 629.3,898.1 622.6,897.8" fill="#ff6900" stroke="#261000"/><polygon points="516.3,902.7 523.7,897.4 517.0,897.5 509.7,903.0" fill="#ff6500" stroke="#260f00"/><polygon points="615.9,898.0 622.6,897.8 615.3,893.2 608.6,893.5" fill="#ff3900" stroke="#260900"/><polygon points="530.4,897.9 537.8,893.3 531.0,892.7 523.7,897.4" fill="#ff3600" stroke="#260800"/><polygon points="601.7,894.4 608.6,893.5 601.3,889.6 594.4,890.7" fill="#ff1700" stroke="#260300"/><polygon points="544.6,894.4 551.9,890.5 545.0,889.3 537.8,893.3" fill="#ff1500" stroke="#260300"/><polygon points="651.6,915.6 658.1,916.9 650.6,910.4 644.1,909.2" fill="#ffcf00" stroke="#261f00"/><polygon points="494.7,915.7 502.2,909.0 495.7,909.9 488.3,916.7" fill="#ffcc00" stroke="#261f00"/><polygon points="587.4,892.3 594.4,890.7 587.2,887.5 580.3,889.2" fill="#ff0200" stroke="#260000"/><polygon points="558.9,892.3 566.1,889.2 559.1,887.3 551.9,890.5" fill="#ff0100" stroke="#260000"/><polygon points="573.2,891.6 580.3,889.2 573.2,886.7 566.1,889.2" fill="#ff0000" stroke="#260000"/><polygon points="637.5,908.6 644.1,909.2 636.7,903.4 630.0,902.9" fill="#ff8b00" stroke="#261500"/><polygon points="508.8,908.7 516.3,902.7 509.7,903.0 502.2,909.0" fill="#ff8900" stroke="#261500"/><polygon points="623.3,903.0 630.0,902.9 622.6,897.8 615.9,898.0" fill="#ff5500" stroke="#260d00"/><polygon points="523.0,903.0 530.4,897.9 523.7,897.4 516.3,902.7" fill="#ff5300" stroke="#260c00"/><polygon points="609.0,898.7 615.9,898.0 608.6,893.5 601.7,894.4" fill="#ff2c00" stroke="#260700"/><polygon points="537.3,898.8 544.6,894.4 537.8,893.3 530.4,897.9" fill="#ff2b00" stroke="#260600"/><polygon points="594.7,895.9 601.7,894.4 594.4,890.7 587.4,892.3" fill="#ff1000" stroke="#260200"/><polygon points="551.6,895.9 558.9,892.3 551.9,890.5 544.6,894.4" fill="#ff1000" stroke="#260200"/><polygon points="580.4,894.5 587.4,892.3 580.3,889.2 573.2,891.6" fill="#ff0300" stroke="#260000"/><polygon points="566.0,894.5 573.2,891.6 566.1,889.2 558.9,892.3" fill="#ff0200" stroke="#260000"/><polygon points="645.1,914.9 651.6,915.6 644.1,909.2 637.5,908.6" fill="#ffb100" stroke="#261b00"/><polygon points="501.3,915.2 508.8,908.7 502.2,909.0 494.7,915.7" fill="#ffb200" stroke="#261b00"/><polygon points="630.8,908.5 637.5,908.6 630.0,902.9 623.3,903.0" fill="#ff7400" stroke="#261100"/><polygon points="515.5,908.8 523.0,903.0 516.3,902.7 508.8,908.7" fill="#ff7500" stroke="#261200"/><polygon points="616.5,903.6 623.3,903.0 615.9,898.0 609.0,898.7" fill="#ff4500" stroke="#260a00"/><polygon points="529.9,903.8 537.3,898.8 530.4,897.9 523.0,903.0" fill="#ff4500" stroke="#260a00"/><polygon points="602.1,900.1 609.0,898.7 601.7,894.4 594.7,895.9" fill="#ff2300" stroke="#260500"/><polygon points="544.3,900.2 551.6,895.9 544.6,894.4 537.3,898.8" fill="#ff2300" stroke="#260500"/><polygon points="587.6,898.0 594.7,895.9 587.4,892.3 580.4,894.5" fill="#ff0f00" stroke="#260200"/><polygon points="558.7,898.0 566.0,894.5 558.9,892.3 551.6,895.9" fill="#ff0f00" stroke="#260200"/><polygon points="573.2,897.3 580.4,894.5 573.2,891.6 566.0,894.5" fill="#ff0800" stroke="#260100"/><polygon points="508.0,915.2 515.5,908.8 508.8,908.7 501.3,915.2" fill="#ff9c00" stroke="#261700"/><polygon points="638.4,914.7 645.1,914.9 637.5,908.6 630.8,908.5" fill="#ff9900" stroke="#261700"/><polygon points="522.4,909.5 529.9,903.8 523.0,903.0 515.5,908.8" fill="#ff6500" stroke="#260f00"/><polygon points="624.0,909.0 630.8,908.5 623.3,903.0 616.5,903.6" fill="#ff6300" stroke="#260f00"/><polygon points="536.8,905.1 544.3,900.2 537.3,898.8 529.9,903.8" fill="#ff3c00" stroke="#260900"/><polygon points="609.5,904.8 616.5,903.6 609.0,898.7 602.1,900.1" fill="#ff3b00" stroke="#260900"/><polygon points="551.3,902.2 558.7,898.0 551.6,895.9 544.3,900.2" fill="#ff2100" stroke="#260500"/><polygon points="595.0,902.0 602.1,900.1 594.7,895.9 587.6,898.0" fill="#ff2000" stroke="#260500"/><polygon points="565.9,900.7 573.2,897.3 566.0,894.5 558.7,898.0" fill="#ff1300" stroke="#260300"/><polygon points="580.5,900.6 587.6,898.0 580.4,894.5 573.2,897.3" fill="#ff1300" stroke="#260300"/><polygon points="514.8,915.8 522.4,909.5 515.5,908.8 508.0,915.2" fill="#ff8b00" stroke="#261500"/><polygon points="631.6,915.0 638.4,914.7 630.8,908.5 624.0,909.0" fill="#ff8600" stroke="#261400"/><polygon points="529.3,910.6 536.8,905.1 529.9,903.8 522.4,909.5" fill="#ff5b00" stroke="#260e00"/><polygon points="617.1,910.1 624.0,909.0 616.5,903.6 609.5,904.8" fill="#ff5700" stroke="#260d00"/><polygon points="543.9,906.9 551.3,902.2 544.3,900.2 536.8,905.1" fill="#ff3800" stroke="#260800"/><polygon points="602.5,906.6 609.5,904.8 602.1,900.1 595.0,902.0" fill="#ff3600" stroke="#260800"/><polygon points="558.5,904.7 565.9,900.7 558.7,898.0 551.3,902.2" fill="#ff2300" stroke="#260500"/><polygon points="587.8,904.5 595.0,902.0 587.6,898.0 580.5,900.6" fill="#ff2200" stroke="#260500"/><polygon points="573.2,903.9 580.5,900.6 573.2,897.3 565.9,900.7" fill="#ff1c00" stroke="#260400"/><polygon points="521.7,916.8 529.3,910.6 522.4,909.5 514.8,915.8" fill="#ff7f00" stroke="#261300"/><polygon points="624.7,915.9 631.6,915.0 624.0,909.0 617.1,910.1" fill="#ff7800" stroke="#261200"/><polygon points="536.3,912.3 543.9,906.9 536.8,905.1 529.3,910.6" fill="#ff5500" stroke="#260d00"/><polygon points="610.0,911.7 617.1,910.1 609.5,904.8 602.5,906.6" fill="#ff5100" stroke="#260c00"/><polygon points="551.1,909.3 558.5,904.7 551.3,902.2 543.9,906.9" fill="#ff3900" stroke="#260900"/><polygon points="595.3,908.9 602.5,906.6 595.0,902.0 587.8,904.5" fill="#ff3600" stroke="#260800"/><polygon points="565.8,907.7 573.2,903.9 565.9,900.7 558.5,904.7" fill="#ff2b00" stroke="#260600"/><polygon points="580.6,907.6 587.8,904.5 580.5,900.6 573.2,903.9" fill="#ff2a00" stroke="#260600"/><polygon points="528.7,918.4 536.3,912.3 529.3,910.6 521.7,916.8" fill="#ff7700" stroke="#261200"/><polygon points="617.6,917.4 624.7,915.9 617.1,910.1 610.0,911.7" fill="#ff7000" stroke="#261100"/><polygon points="543.5,914.6 551.1,909.3 543.9,906.9 536.3,912.3" fill="#ff5400" stroke="#260d00"/><polygon points="602.9,914.0 610.0,911.7 602.5,906.6 595.3,908.9" fill="#ff4f00" stroke="#260c00"/><polygon points="558.3,912.2 565.8,907.7 558.5,904.7 551.1,909.3" fill="#ff3e00" stroke="#260900"/><polygon points="588.0,911.9 595.3,908.9 587.8,904.5 580.6,907.6" fill="#ff3c00" stroke="#260900"/><polygon points="573.2,911.3 580.6,907.6 573.2,903.9 565.8,907.7" fill="#ff3700" stroke="#260800"/><polygon points="535.9,920.5 543.5,914.6 536.3,912.3 528.7,918.4" fill="#ff7400" stroke="#261100"/><polygon points="610.5,919.6 617.6,917.4 610.0,911.7 602.9,914.0" fill="#ff6d00" stroke="#261000"/><polygon points="550.8,917.4 558.3,912.2 551.1,909.3 543.5,914.6" fill="#ff5800" stroke="#260d00"/><polygon points="595.6,916.8 602.9,914.0 595.3,908.9 588.0,911.9" fill="#ff5300" stroke="#260d00"/><polygon points="565.7,915.7 573.2,911.3 565.8,907.7 558.3,912.2" fill="#ff4900" stroke="#260b00"/><polygon points="580.7,915.5 588.0,911.9 580.6,907.6 573.2,911.3" fill="#ff4700" stroke="#260b00"/><polygon points="543.1,923.1 550.8,917.4 543.5,914.6 535.9,920.5" fill="#ff7600" stroke="#261200"/><polygon points="603.3,922.3 610.5,919.6 602.9,914.0 595.6,916.8" fill="#ff6f00" stroke="#261100"/><polygon points="558.1,920.7 565.7,915.7 558.3,912.2 550.8,917.4" fill="#ff6000" stroke="#260e00"/><polygon points="588.2,920.3 595.6,916.8 588.0,911.9 580.7,915.5" fill="#ff5d00" stroke="#260e00"/><polygon points="573.2,919.8 580.7,915.5 573.2,911.3 565.7,915.7" fill="#ff5800" stroke="#260d00"/><polygon points="550.5,926.4 558.1,920.7 550.8,917.4 543.1,923.1" fill="#ff7d00" stroke="#261300"/><polygon points="595.9,925.6 603.3,922.3 595.6,916.8 588.2,920.3" fill="#ff7700" stroke="#261200"/><polygon points="565.6,924.6 573.2,919.8 565.7,915.7 558.1,920.7" fill="#ff6d00" stroke="#261000"/><polygon points="580.8,924.4 588.2,920.3 580.7,915.5 573.2,919.8" fill="#ff6b00" stroke="#261000"/><polygon points="557.9,930.1 565.6,924.6 558.1,920.7 550.5,926.4" fill="#ff8900" stroke="#261400"/><polygon points="588.4,929.6 595.9,925.6 588.2,920.3 580.8,924.4" fill="#ff8400" stroke="#261400"/><polygon points="573.2,929.1 580.8,924.4 573.2,919.8 565.6,924.6" fill="#ff7f00" stroke="#261300"/><polygon points="565.5,934.5 573.2,929.1 565.6,924.6 557.9,930.1" fill="#ff9900" stroke="#261700"/><polygon points="580.9,934.2 588.4,929.6 580.8,924.4 573.2,929.1" fill="#ff9600" stroke="#261700"/><polygon points="573.2,939.5 580.9,934.2 573.2,929.1 565.5,934.5" fill="#ffae00" stroke="#261a00"/></g>
<circle cx="442.2" cy="968.1" r="2.9" fill="#f7b5b9" stroke="#2a0000" stroke-width="0.9"/><circle cx="706.5" cy="917.6" r="2.9" fill="#a80000" stroke="#2a0000" stroke-width="0.9"/><circle cx="573.2" cy="875.2" r="2.9" fill="#a80000" stroke="#2a0000" stroke-width="0.9"/><circle cx="573.2" cy="948.4" r="2.9" fill="#f7b5b9" stroke="#2a0000" stroke-width="0.9"/>
<g font-family="Liberation Sans, sans-serif" font-size="8" fill="#5a5a5a"><text x="438.5" y="985.0" text-anchor="end" font-size="7.4">79</text><text x="437.0" y="952.2" text-anchor="end" font-size="7.4">79.5</text><text x="435.5" y="919.5" text-anchor="end" font-size="7.4">80</text><text x="434.0" y="886.8" text-anchor="end" font-size="7.4">80.5</text><text x="432.4" y="854.0" text-anchor="end" font-size="7.4">81</text><text x="576.7" y="1097.2" text-anchor="start" font-size="7.6">2</text><text x="598.0" y="1087.2" text-anchor="start" font-size="7.6">3</text><text x="619.4" y="1077.3" text-anchor="start" font-size="7.6">4</text><text x="640.8" y="1067.3" text-anchor="start" font-size="7.6">5</text><text x="662.1" y="1057.4" text-anchor="start" font-size="7.6">6</text><text x="683.5" y="1047.4" text-anchor="start" font-size="7.6">7</text><text x="704.8" y="1037.5" text-anchor="start" font-size="7.6">8</text><text x="569.7" y="1097.2" text-anchor="end" font-size="7.6">4</text><text x="537.6" y="1082.2" text-anchor="end" font-size="7.6">7</text><text x="505.6" y="1067.3" text-anchor="end" font-size="7.6">10</text><text x="473.5" y="1052.4" text-anchor="end" font-size="7.6">13</text><text x="441.5" y="1037.5" text-anchor="end" font-size="7.6">16</text><text x="652.2" y="1083.4" text-anchor="start" font-size="9">A: Acacia gum (g)</text><text x="495.2" y="1083.4" text-anchor="end" font-size="9">B: Alginic acid (g)</text><text transform="translate(398.5,946.4) rotate(-90) scale(1.000,1)" text-anchor="middle" font-size="9" fill="#666">Suspensibility</text></g>
</svg>
</body></html>
